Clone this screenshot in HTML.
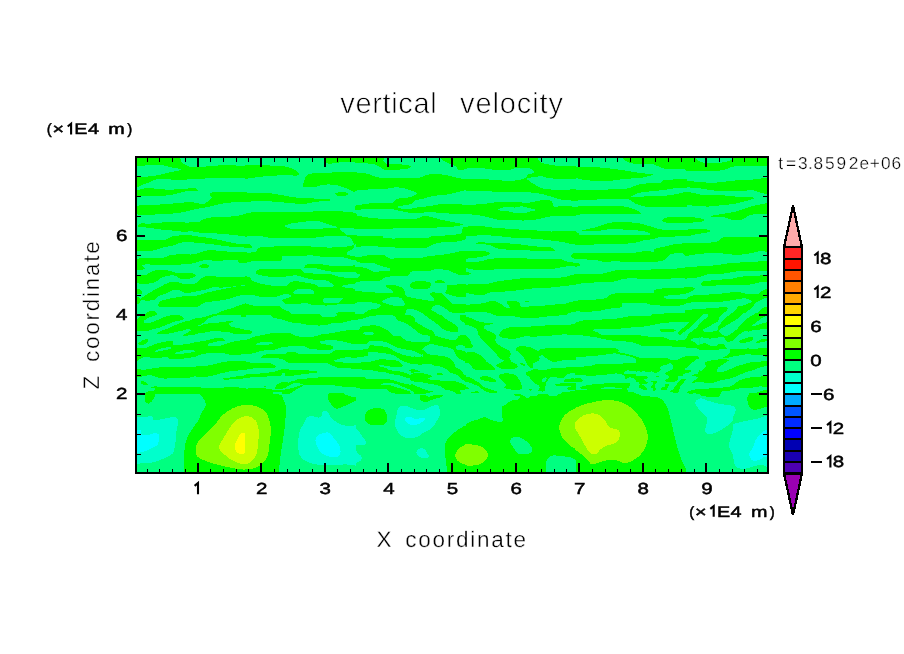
<!DOCTYPE html>
<html><head><meta charset="utf-8"><title>vertical velocity</title>
<style>
html,body{margin:0;padding:0;background:#fff;}
body{width:904px;height:654px;overflow:hidden;font-family:"Liberation Sans",sans-serif;}
svg{display:block;}
text{font-family:"Liberation Sans",sans-serif;}
.thin{stroke:#fff;stroke-width:0.7px;paint-order:fill stroke;}
.thin2{stroke:#fff;stroke-width:0.35px;paint-order:fill stroke;}
.fat{stroke:#000;stroke-width:0.35px;}
.fat2{stroke:#000;stroke-width:0.5px;}
.thin3{stroke:#fff;stroke-width:0.3px;paint-order:fill stroke;}
</style></head><body>
<svg width="904" height="654" viewBox="0 0 904 654" shape-rendering="crispEdges" text-rendering="geometricPrecision">
<defs><clipPath id="pc"><rect x="136.0" y="157.0" width="632.0" height="316.0"/></clipPath></defs>
<rect width="904" height="654" fill="#fff"/>
<rect x="136.0" y="157.0" width="632.0" height="316.0" fill="#00ff80"/>
<g clip-path="url(#pc)">
<path d="M135.4 156.4L179.8 156.4C179.8 156.4 180.8 160.6 181.6 161.9C182.3 163.1 183.5 163.8 184.7 164.5C186.0 165.3 187.8 166.1 189.5 166.5C191.5 166.9 194.4 167.0 196.8 167C200.5 166.9 207.3 166.4 211.4 166.1C214.7 165.9 217.9 165.3 221.2 165.3C227.1 165.2 246.7 165.8 246.7 165.8L246.7 177.7C246.7 177.7 237.8 177.8 233.3 177.9C227.0 178.0 216.7 178.0 209 178.3C201.7 178.6 193.4 179.3 187.1 179.5C181.8 179.7 176.2 179.6 171.3 179.5C166.8 179.4 161.4 178.5 157.9 178.9C155.3 179.2 153.0 181.0 150.6 181.9C148.2 182.8 145.3 183.6 143.3 184.4C141.6 185.1 139.7 186.3 138.4 186.8C137.4 187.2 135.4 187.7 135.4 187.7L135.4 177.7C135.4 177.7 139.1 177.3 140.9 177.1C143.0 176.9 145.8 176.8 148.2 176.5C151.0 176.2 154.7 175.9 157.9 175.3C161.1 174.7 164.6 173.5 167.6 172.8C170.5 172.1 173.9 171.5 176.2 171C178.0 170.6 181.6 170.3 181.6 169.8C181.6 169.3 177.9 168.6 176.2 168.2C174.6 167.8 172.9 167.7 171.3 167.3C169.3 166.9 166.5 165.7 164 165.5C160.6 165.2 155.1 165.2 150.6 165.3C145.8 165.4 135.4 166.1 135.4 166.1L135.4 156.4Z" fill="#00ff00"/>
<path d="M135.4 190.5C135.4 190.5 139.1 189.6 140.9 189.2C143.0 188.8 145.7 188.0 148.2 188C151.4 188.0 156.3 188.9 160.3 189.2C164.4 189.5 168.4 189.7 172.5 189.6C177.4 189.5 185.7 188.6 189.5 188.4C191.5 188.3 194.2 188.1 195.6 188.4C196.5 188.6 197.3 189.7 197.7 190.1C197.8 190.2 197.9 190.6 197.7 190.6C195.9 190.8 189.7 190.8 187.1 191.1C185.4 191.3 183.8 191.9 182.2 192.3C180.2 192.8 177.4 193.6 174.9 194.1C171.9 194.7 167.7 195.5 164 195.7C159.6 196.0 153.0 195.8 148.2 195.9C143.9 196.0 135.4 196.2 135.4 196.2L135.4 190.5Z" fill="#00ff00"/>
<path d="M135.4 205.7C135.4 205.7 144.0 205.3 148.2 205.1C152.2 204.9 156.3 204.8 160.3 204.5C165.6 204.2 174.7 203.4 179.8 203C183.5 202.7 188.0 202.0 190.8 202C192.8 202.0 194.8 202.9 196.8 203.2C199.0 203.5 202.1 204.3 204.1 203.8C206.1 203.3 207.7 201.2 209 200.2C210.0 199.4 211.9 198.6 212.1 197.8C212.3 197.0 210.5 196.0 210.2 195.3C210.0 194.8 209.8 193.9 210.2 193.5C210.8 192.9 212.6 192.1 213.9 192C220.0 191.8 246.7 192.0 246.7 192L246.7 202.3C246.7 202.3 240.2 201.8 237 202C232.8 202.2 224.8 203.3 221.2 203.8C219.1 204.1 217.1 204.6 215.1 205.1C213.1 205.6 211.1 206.4 209 206.9C206.8 207.4 204.1 207.7 201.7 208.1C199.3 208.5 196.8 208.8 194.4 209.3C191.6 209.9 188.0 211.2 184.7 211.8C181.0 212.5 176.6 213.2 172.5 213.6C168.4 214.0 164.4 214.0 160.3 214.2C156.3 214.4 152.2 214.8 148.2 214.8C144.0 214.8 135.4 214.4 135.4 214.4L135.4 205.7Z" fill="#00ff00"/>
<path d="M138.2 225.4C138.6 224.8 139.8 223.5 140.9 223.3C142.6 223.0 145.8 223.8 148.2 223.7C151.4 223.6 157.3 223.0 160.3 222.7C162.3 222.5 164.4 222.1 166.4 222.1C170.5 222.1 179.2 222.5 184.7 222.5C189.6 222.5 196.4 222.6 199.3 222.1C200.6 221.9 201.1 220.2 202.3 219.7C203.9 219.0 206.7 218.2 209 217.8C212.2 217.3 217.1 216.8 221.2 216.6C225.2 216.4 229.9 216.7 233.3 216.4C236.2 216.1 239.7 215.3 241.9 214.8C243.5 214.5 246.7 213.6 246.7 213.6L246.7 236.7C246.7 236.7 237.8 235.4 233.3 234.9C228.0 234.4 220.2 233.7 215.1 233.4C211.0 233.2 206.9 233.5 202.9 233.1C198.9 232.7 193.8 231.4 190.8 231.2C188.8 231.1 186.7 231.9 184.7 231.8C181.6 231.7 176.6 231.0 172.5 230.6C168.4 230.2 164.4 229.9 160.3 229.4C156.3 228.9 151.8 228.0 148.2 227.6C144.9 227.3 140.1 227.6 138.4 227.2C137.8 227.1 137.9 225.9 138.2 225.4Z" fill="#00ff00"/>
<path d="M177.4 236.3C177.4 236.3 178.9 235.0 179.8 234.9C182.0 234.7 188.6 234.7 190.8 234.9C191.7 235.0 193.2 236.3 193.2 236.3L177.4 236.3Z" fill="#00ff00"/>
<path d="M245.4 165.3C245.4 165.3 258.0 165.1 264.3 165.3C271.1 165.5 281.1 165.9 286.2 166.7C289.2 167.1 292.5 168.7 294.7 169.8C296.4 170.7 298.4 172.7 299.2 173.4C299.4 173.6 299.4 174.0 299.2 174.2C298.9 174.5 297.9 175.4 297.1 175.5C294.3 175.7 287.0 175.2 282.5 175.3C278.4 175.4 274.4 175.6 270.3 175.9C266.3 176.2 262.2 176.6 258.2 177.1C254.0 177.6 245.4 178.9 245.4 178.9L245.4 165.3Z" fill="#00ff00"/>
<path d="M325.7 157C330.9 156.1 356.7 157.0 356.7 157L356.7 161.9C356.7 161.9 342.8 162.2 338.5 162.5C336.0 162.7 333.3 163.7 331.2 163.7C329.3 163.7 326.6 163.6 325.7 162.5C324.8 161.4 323.9 157.3 325.7 157Z" fill="#00ff00"/>
<path d="M302.9 186.2C303.3 184.4 304.5 178.5 305.6 176.5C306.3 175.2 307.9 174.4 309.3 174C311.5 173.4 315.7 172.9 319 172.8C326.9 172.5 356.7 172.2 356.7 172.2L356.7 193.5C356.7 193.5 351.1 190.5 348.2 189.2C345.2 187.9 341.8 186.4 338.5 185.6C335.3 184.8 331.9 184.4 328.7 184.4C325.4 184.4 321.2 185.1 319 185.6C317.7 185.9 316.7 187.3 315.4 187.4C312.8 187.7 305.3 187.3 303.2 187.1C302.9 187.1 302.8 186.5 302.9 186.2Z" fill="#00ff00"/>
<path d="M335.4 193.5C335.6 192.9 337.4 192.4 338.5 192.3C340.2 192.1 344.2 192.0 345.8 192.3C346.7 192.5 348.0 193.3 348 193.9C348.0 194.5 346.7 195.5 345.8 195.7C344.0 196.0 339.0 196.1 337.3 195.7C336.4 195.5 335.2 194.1 335.4 193.5Z" fill="#00ff00"/>
<path d="M245.4 192.9C245.4 192.9 264.1 192.9 270.3 193.3C274.4 193.6 278.4 194.6 282.5 195.3C287.2 196.1 293.0 197.4 298.3 197.8C306.0 198.4 323.4 198.7 328.7 199C329.3 199.0 329.9 199.5 330.2 199.8C330.4 200.0 330.5 200.6 330.2 200.6C327.5 201.0 318.0 201.5 314.1 202C311.6 202.3 309.3 203.3 306.8 203.5C303.6 203.8 298.7 203.7 294.7 203.5C290.6 203.3 286.6 202.6 282.5 202.3C277.0 201.9 268.0 201.1 261.8 201C256.3 201.0 245.4 202.0 245.4 202L245.4 192.9Z" fill="#00ff00"/>
<path d="M354.1 205.7C354.1 205.2 356.7 206.3 356.7 206.3L356.7 209.1C356.7 209.1 354.1 206.2 354.1 205.7Z" fill="#00ff00"/>
<path d="M245.4 213.6C245.4 213.6 252.2 212.1 255.7 212C264.9 211.8 290.2 212.6 300.8 212.4C306.9 212.3 312.9 211.2 319 211.1C327.1 211.0 343.1 211.4 349.4 211.8C351.9 212.0 356.7 213.6 356.7 213.6L356.1 236.1L300.8 236.1L245.4 236.1L245.4 213.6Z" fill="#00ff00"/>
<path d="M284.9 225.8C285.7 225.1 289.7 223.8 292.2 223.3C295.1 222.7 298.8 222.5 302 222.1C305.2 221.7 308.9 221.1 311.7 220.9C314.1 220.8 316.6 220.7 319 221.2C321.8 221.8 325.6 223.5 328.7 224.5C331.6 225.4 337.1 226.5 337.5 227.1C337.9 227.7 333.3 228.2 331.2 228.3C323.6 228.6 299.5 228.9 292.2 228.8C290.6 228.8 288.6 228.1 287.4 227.6C286.5 227.2 284.1 226.5 284.9 225.8Z" fill="#00ff80"/>
<path d="M339.7 228.2C340.7 226.8 356.7 228.8 356.7 228.8L356.7 237.3L350.6 237.3C350.6 237.3 338.7 229.6 339.7 228.2Z" fill="#00ff80"/>
<path d="M355.4 157C355.4 157.0 379.0 156.4 383.7 157C384.9 157.2 382.9 159.6 383.4 160.7C383.8 161.8 385.0 163.3 386.4 163.7C388.5 164.3 392.9 164.1 396.2 164.3C399.6 164.5 404.7 164.5 407.1 164.9C408.5 165.1 410.6 166.1 410.8 166.7C411.0 167.3 409.3 168.4 408.3 168.6C405.2 169.2 396.4 169.8 392.5 170.1C390.1 170.3 387.2 170.6 385.2 170.1C383.4 169.7 382.0 168.2 380.3 167.3C378.5 166.3 376.5 164.9 374.3 164.3C371.9 163.6 368.6 163.6 365.7 163.3C362.5 163.0 355.4 162.5 355.4 162.5L355.4 157Z" fill="#00ff00"/>
<path d="M440 157C443.9 156.4 466.7 157.0 466.7 157L466.7 168.6C466.7 168.6 464.4 169.6 463.1 169.8C461.7 170.0 459.3 170.3 458.2 169.8C457.1 169.3 457.4 167.4 456.4 166.7C454.8 165.6 450.6 164.1 448.5 163.1C446.9 162.3 445.0 161.7 443.6 160.7C442.2 159.7 438.3 157.3 440 157Z" fill="#00ff00"/>
<path d="M355.4 172.8C355.4 172.8 362.3 172.7 365.7 173.4C369.9 174.2 375.3 177.1 380.3 177.7C386.8 178.5 398.2 178.3 404.7 178.3C409.6 178.3 415.6 178.5 419.3 177.9C421.9 177.5 424.1 175.6 426.6 175C429.2 174.3 432.2 174.0 435.1 174C438.6 174.1 443.3 174.6 447.3 175.3C451.4 176.0 456.2 177.7 459.4 178.3C461.8 178.7 466.7 178.9 466.7 178.9L466.7 213.9C466.7 213.9 457.6 213.7 453.3 213.6C449.3 213.5 445.2 213.5 441.2 213.2C437.1 212.9 432.6 211.8 429 211.8C425.7 211.8 422.6 213.1 419.3 213.2C415.7 213.3 411.1 213.0 407.1 212.4C402.6 211.8 397.5 209.8 392.5 209.3C386.0 208.7 374.4 208.5 368.2 208.7C363.9 208.8 355.4 210.5 355.4 210.5L355.4 172.8Z" fill="#00ff00"/>
<path d="M355.4 190.8C355.4 190.8 362.2 189.8 365.7 189.6C370.9 189.3 381.1 189.3 386.4 188.9C390.1 188.6 393.7 187.0 397.4 187.2C401.2 187.4 406.3 188.8 409.5 189.9C412.1 190.7 416.8 192.3 416.8 193.5C416.8 194.7 412.1 196.5 409.5 197.2C406.1 198.1 398.9 198.1 396.2 199C394.7 199.5 394.7 202.3 393.1 202.6C389.0 203.3 378.1 202.7 371.8 203.2C366.3 203.7 355.4 205.7 355.4 205.7L355.4 190.8Z" fill="#00ff80"/>
<path d="M466.7 189.6C466.7 189.6 460.3 191.5 457 192.3C453.6 193.2 449.6 194.1 446 194.7C442.4 195.3 438.7 195.1 435.1 195.7C431.1 196.4 425.1 198.2 421.7 199C419.3 199.6 416.1 199.8 414.4 200.6C413.1 201.2 412.8 203.3 411.4 203.8C408.6 204.8 399.5 205.9 397.4 206.6C396.8 206.8 398.0 208.0 398.6 208.1C400.6 208.5 406.1 209.3 409.5 209.1C412.8 208.9 416.1 207.4 419.3 206.9C422.5 206.4 425.8 206.8 429 206.3C432.6 205.8 437.1 204.2 441.2 203.8C445.2 203.5 449.3 204.1 453.3 204.2C457.6 204.3 466.7 204.7 466.7 204.7L466.7 189.6Z" fill="#00ff80"/>
<path d="M355.4 215.2C355.4 215.2 362.2 216.8 365.7 217.2C370.5 217.8 377.9 218.7 384 218.8C392.9 219.0 412.9 218.9 419.3 218.4C420.6 218.3 421.0 216.3 422.3 216C423.9 215.7 426.8 216.0 429 216.4C432.1 217.0 437.1 218.8 441.2 219.7C445.2 220.6 449.6 221.3 453.3 222.1C456.6 222.8 461.6 223.8 463.3 224.2C463.5 224.2 463.5 224.7 463.3 224.7C461.6 225.1 456.7 226.2 453.3 226.6C449.6 227.0 445.2 226.7 441.2 227C437.1 227.3 433.1 228.1 429 228.2C420.9 228.4 404.7 228.4 392.5 228.5C380.2 228.6 355.4 228.8 355.4 228.8L355.4 215.2Z" fill="#00ff00"/>
<path d="M466.7 226.4C466.7 226.4 464.5 226.4 463.7 227C462.9 227.6 462.3 228.9 461.9 230C461.5 231.1 462.4 233.2 461.3 233.7C459.5 234.5 454.4 234.5 450.9 234.9C447.1 235.3 438.7 236.3 438.7 236.3L466.7 237.3L466.7 226.4Z" fill="#00ff00"/>
<path d="M466 157 L576 157 L576 236 L466 236Z" fill="#00ff00"/>
<path d="M538.4 157C544.5 156.2 576.7 157.0 576.7 157L576.7 165.8C576.7 165.8 567.5 166.3 563.3 166.2C559.2 166.1 555.1 165.7 551.2 165C547.5 164.3 542.3 163.4 540.2 162.1C538.7 161.1 536.6 157.2 538.4 157Z" fill="#00ff80"/>
<path d="M465.4 168.9C465.4 168.9 468.2 168.3 469.7 168.2C472.4 168.1 477.8 167.9 481.8 168.2C486.9 168.6 495.4 170.1 500.1 170.4C503.3 170.6 507.4 170.5 509.8 170.1C511.5 169.8 513.0 168.4 514.7 168.2C518.0 167.9 526.2 167.7 529.3 168.2C531.0 168.4 532.9 170.1 533.5 171C534.0 171.7 533.6 172.9 532.9 173.4C532.0 174.0 529.2 173.9 528.1 174.6C527.1 175.2 527.0 176.7 526 177.3C524.6 178.2 521.8 179.7 519.5 180.1C516.0 180.7 509.8 180.8 504.9 180.7C499.8 180.6 494.4 179.7 489.1 179.5C482.5 179.2 465.4 179.1 465.4 179.1L465.4 168.9Z" fill="#00ff80"/>
<path d="M526.5 177.9C527.1 177.2 531.6 177.7 534.1 177.4C536.6 177.1 539.0 175.9 541.4 176.1C543.8 176.2 546.2 178.0 548.7 178.3C552.4 178.7 558.6 178.5 563.3 178.7C567.8 178.9 576.7 179.5 576.7 179.5L576.7 188.9C576.7 188.9 567.8 189.9 563.3 189.9C557.8 189.9 548.3 189.6 543.9 188.9C541.3 188.5 538.8 186.8 536.6 185.6C534.5 184.5 532.2 183.2 530.5 181.9C529.0 180.8 525.9 178.7 526.5 177.9Z" fill="#00ff80"/>
<path d="M465.4 191.3C465.4 191.3 482.9 191.1 489.1 191.3C493.6 191.4 498.0 192.2 502.5 192.3C508.4 192.4 518.3 191.8 524.4 192C529.3 192.2 535.0 192.8 539 193.5C542.3 194.0 545.5 195.0 548.7 195.9C552.0 196.8 555.5 198.3 558.5 199C561.3 199.7 564.2 199.9 567 200.2C570.0 200.5 576.7 200.8 576.7 200.8L576.7 206.6C576.7 206.6 567.3 206.4 563.3 206.4C559.8 206.4 554.7 206.8 552.9 206.4C552.1 206.2 552.9 204.6 552.6 203.8C552.3 202.9 552.3 201.1 551.2 200.8C549.3 200.2 544.7 199.9 541.4 200.2C537.8 200.5 533.3 202.2 529.3 202.6C525.2 202.9 521.2 202.3 517.1 202.3C511.4 202.2 500.5 202.1 495.2 202.3C491.9 202.5 488.8 203.5 485.5 203.8C480.5 204.3 465.4 205.1 465.4 205.1L465.4 191.3Z" fill="#00ff80"/>
<path d="M498.2 209.6C499.0 209.0 502.5 207.4 504.9 207.1C507.6 206.8 511.9 207.6 514.7 207.5C517.2 207.4 519.6 206.2 522 206.3C524.4 206.4 527.0 207.5 529.3 208.1C531.5 208.7 535.6 209.4 536 209.9C536.4 210.4 533.1 210.7 531.7 211.1C529.8 211.6 526.9 212.7 524.4 213C521.6 213.3 517.5 213.3 514.7 213C512.2 212.7 509.8 211.5 507.4 211.1C505.0 210.7 501.6 210.8 500.1 210.5C499.4 210.4 497.6 210.0 498.2 209.6Z" fill="#00ff80"/>
<path d="M465.4 213.9C465.4 213.9 474.0 214.5 478.2 215.2C482.3 215.8 487.1 217.1 490.3 217.8C492.7 218.4 495.1 219.5 497.6 219.7C503.3 220.1 517.5 220.6 524.4 220.5C529.3 220.4 535.0 219.8 539 219.1C542.3 218.6 545.4 217.0 548.7 216.6C552.8 216.2 558.6 216.6 563.3 216.4C567.8 216.2 576.7 215.4 576.7 215.4L576.7 231.2C576.7 231.2 567.5 230.9 563.3 231C559.3 231.0 555.2 231.6 551.2 231.5C547.2 231.4 543.1 230.9 539 230.6C534.5 230.3 529.3 230.1 524.4 229.8C519.3 229.5 513.9 229.2 508.6 228.8C502.9 228.4 494.8 227.8 490.3 227.3C487.5 227.0 484.7 226.3 481.8 226.1C478.4 225.9 472.4 225.9 469.7 226.1C468.2 226.2 465.4 227.3 465.4 227.3L465.4 213.9Z" fill="#00ff80"/>
<path d="M475.7 236.3C475.7 236.3 477.3 235.2 478.2 235.1C480.6 234.9 488.0 234.9 490.3 235.1C491.0 235.2 492.2 236.3 492.2 236.3L475.7 236.3Z" fill="#00ff80"/>
<path d="M623.2 157C633.1 156.2 686.7 157.0 686.7 157L686.7 169.2C686.7 169.2 677.1 169.5 673.3 169.4C670.1 169.3 666.8 169.2 663.6 168.4C660.4 167.6 657.1 165.2 653.9 164.5C650.7 163.8 647.4 164.2 644.1 164.1C640.9 164.0 637.2 164.1 634.4 163.7C631.9 163.4 629.0 163.0 627.1 161.9C625.3 160.8 621.1 157.2 623.2 157Z" fill="#00ff00"/>
<path d="M575.4 167C575.4 167.0 583.9 166.6 588.2 166.7C593.2 166.9 599.5 167.4 605.2 168C611.3 168.6 619.0 169.6 624.7 170.4C629.6 171.1 634.6 172.2 639.3 172.8C643.8 173.4 650.6 174.0 652.9 174.3C653.1 174.3 653.1 174.8 652.9 174.9C651.0 175.5 645.5 177.2 641.7 177.7C637.0 178.4 630.4 178.3 624.7 178.9C618.8 179.5 610.9 180.9 606.4 181.3C603.6 181.6 600.7 181.5 597.9 181.3C593.9 181.0 585.9 180.1 582.1 179.5C579.8 179.1 575.4 177.7 575.4 177.7L575.4 167Z" fill="#00ff00"/>
<path d="M575.4 189.6C575.4 189.6 583.1 190.1 587 190.1C591.8 190.2 599.1 190.2 604 189.9C608.1 189.7 612.2 188.8 616.2 188.6C620.2 188.4 624.9 189.0 628.3 188.4C631.3 187.9 633.8 185.7 636.8 185C640.2 184.1 644.9 183.6 649 183.2C653.1 182.8 658.8 183.1 661.2 182.6C662.3 182.4 662.5 180.4 663.6 180.1C665.6 179.6 670.1 179.6 673.3 179.5C677.1 179.4 686.7 179.5 686.7 179.5L686.7 188C686.7 188.0 680.2 187.8 677 188C673.5 188.3 669.7 189.1 666 189.6C662.1 190.1 657.9 190.7 653.9 191.1C649.9 191.5 645.0 191.7 641.7 192.3C639.2 192.8 636.1 193.9 634.4 194.7C633.2 195.3 630.1 197.0 631.4 197.2C633.0 197.5 639.9 196.7 644.1 196.5C649.1 196.3 656.3 196.2 661.2 195.9C665.2 195.7 669.3 195.4 673.3 194.7C677.5 194.0 686.7 191.7 686.7 191.7L686.7 206.9C686.7 206.9 677.5 206.8 673.3 206.9C669.3 207.0 665.2 207.5 661.2 207.5C657.2 207.5 652.2 207.4 649 207.1C646.5 206.9 644.1 206.3 641.7 205.7C639.3 205.0 636.6 204.3 634.4 203.2C632.2 202.1 630.7 199.5 628.3 199C624.6 198.3 617.8 198.9 612.5 199C606.8 199.1 599.6 199.5 594.3 199.6C589.8 199.7 584.0 199.5 580.9 199.8C579.0 200.0 575.4 201.4 575.4 201.4L575.4 189.6Z" fill="#00ff00"/>
<path d="M575.4 206.6C575.4 206.6 583.9 206.3 588.2 206.3C596.0 206.2 615.3 206.1 622.2 206.3C624.7 206.4 627.1 206.8 629.5 207.5C631.9 208.2 634.8 209.6 636.8 210.5C638.4 211.3 640.5 212.6 641.3 213.2C641.5 213.3 641.5 213.8 641.3 213.8C639.5 214.0 634.3 214.2 630.8 214.2C626.0 214.3 618.6 214.2 612.5 214.2C604.2 214.2 587.1 214.2 580.9 214.4C579.0 214.5 575.4 215.7 575.4 215.7L575.4 206.6Z" fill="#00ff00"/>
<path d="M662.2 220C662.6 219.4 663.7 218.1 664.8 217.8C666.6 217.3 670.5 217.1 673.3 216.9C676.9 216.7 686.7 216.6 686.7 216.6L686.7 222.7C686.7 222.7 676.8 222.7 673.3 222.7C670.9 222.7 667.8 222.8 666 222.5C664.8 222.3 663.2 221.6 662.6 221.2C662.2 221.0 662.0 220.4 662.2 220Z" fill="#00ff00"/>
<path d="M581.8 230.4C583.6 229.8 590.2 228.7 594.3 227.6C598.4 226.5 603.0 224.6 606.4 223.7C609.2 223.0 612.0 222.2 614.9 222.1C619.6 221.9 629.5 222.3 634.4 222.7C637.7 223.0 640.9 223.7 644.1 224.5C647.4 225.3 650.6 226.7 653.9 227.6C657.1 228.5 660.4 229.4 663.6 229.8C666.8 230.2 670.1 230.0 673.3 230C677.1 230.0 686.7 229.8 686.7 229.8L686.7 237.3L647.8 237.3C647.8 237.3 650.8 234.7 650.2 233.7C649.6 232.7 646.3 231.6 644.1 231.2C640.9 230.6 635.2 230.3 630.8 230C625.1 229.6 615.2 228.9 610.1 229C606.8 229.1 603.6 230.3 600.3 230.6C595.8 230.9 586.4 231.1 583.3 231.1C582.7 231.1 581.3 230.6 581.8 230.4Z" fill="#00ff00"/>
<path d="M575.4 231.8C575.4 231.8 577.8 232.3 578.4 233.1C579.0 233.8 579.0 236.3 579 236.3L575.4 236.3L575.4 231.8Z" fill="#00ff00"/>
<path d="M685.4 157C685.4 157.0 755.9 155.7 770 157C772.6 157.2 771.8 163.4 770 164.9C768.2 166.4 762.7 166.0 759 166.1C755.1 166.2 750.9 165.7 746.8 165.8C742.5 165.9 736.9 165.9 733.5 166.5C730.9 166.9 728.7 168.5 726.2 169.2C723.4 169.9 719.7 170.8 716.4 171C711.3 171.4 700.9 171.5 695.7 171.4C692.3 171.3 685.4 170.4 685.4 170.4L685.4 157Z" fill="#00ff00"/>
<path d="M695.5 157C694.0 157.2 696.9 159.9 698.2 160.7C699.7 161.7 702.2 162.6 704.3 162.8C707.3 163.2 712.8 163.0 716.4 162.8C719.7 162.7 723.6 162.5 726.2 161.9C728.3 161.4 731.0 160.2 732.2 159.4C732.9 158.9 734.1 157.1 733.2 157C727.1 156.6 701.3 156.4 695.5 157Z" fill="#00ff80"/>
<path d="M685.4 180.7C685.4 180.7 693.9 181.6 698.2 181.9C703.0 182.2 708.7 183.0 714 182.8C719.7 182.6 726.1 181.2 732.2 180.7C738.7 180.1 746.6 179.8 752.9 179.5C758.6 179.2 767.1 176.6 770 178.9C772.9 181.2 771.4 191.2 770 193.5C768.6 195.8 764.0 193.4 761.4 192.9C758.9 192.4 756.7 190.7 754.1 190.5C749.7 190.2 741.2 190.8 734.7 190.8C728.0 190.8 720.1 191.0 714 190.5C708.7 190.1 703.0 188.5 698.2 188C694.0 187.5 685.4 187.4 685.4 187.4L685.4 180.7Z" fill="#00ff00"/>
<path d="M685.4 191.7C685.4 191.7 690.7 192.4 693.3 192.9C696.4 193.5 700.6 195.0 704.3 195.3C708.8 195.7 715.0 194.8 720.1 195C725.0 195.2 729.8 196.2 734.7 196.5C739.6 196.8 746.0 196.7 749.3 196.9C751.0 197.0 753.5 197.6 754.4 197.8C754.6 197.9 754.6 198.3 754.4 198.4C752.7 199.0 747.7 200.5 744.4 201.4C741.2 202.3 738.0 203.2 734.7 203.8C731.1 204.4 726.6 204.7 722.5 205.1C718.0 205.6 711.9 206.5 707.9 206.6C704.7 206.7 701.4 205.9 698.2 205.7C694.5 205.5 685.4 205.4 685.4 205.4L685.4 191.7Z" fill="#00ff00"/>
<path d="M710.7 216.1C712.6 215.6 718.6 214.6 722.5 213.9C726.5 213.2 731.1 212.7 734.7 211.8C738.0 211.0 741.2 209.7 744.4 208.7C747.6 207.7 751.3 206.4 754.1 205.7C756.5 205.1 758.9 204.5 761.4 204.2C764.0 203.9 768.6 202.3 770 203.8C771.4 205.3 771.8 211.5 770 213.2C768.2 214.9 762.5 213.5 759 213.9C755.7 214.2 752.1 214.4 749.3 215.4C746.6 216.3 744.7 219.1 742 219.7C739.0 220.4 733.6 220.0 731 219.7C729.3 219.5 727.9 217.8 726.2 217.6C722.9 217.1 713.9 217.2 711.3 216.9C711.0 216.9 710.4 216.2 710.7 216.1Z" fill="#00ff00"/>
<path d="M685.4 216.9C685.4 216.9 695.1 217.3 698.2 217.8C700.3 218.1 703.7 219.1 704.3 219.7C704.9 220.3 702.8 221.2 701.8 221.5C700.0 222.0 696.0 222.2 693.3 222.5C690.7 222.8 685.4 223.3 685.4 223.3L685.4 216.9Z" fill="#00ff00"/>
<path d="M685.4 230C685.4 230.0 690.6 228.9 693.3 228.8C696.4 228.6 701.5 228.6 704.3 229C706.4 229.3 710.3 230.3 710.3 231C710.3 231.7 706.4 232.6 704.3 233.1C701.9 233.7 698.1 233.8 695.7 234.3C693.7 234.7 689.7 236.0 689.7 236L685.4 236.3L685.4 230Z" fill="#00ff00"/>
<path d="M135.4 239.7C135.4 239.7 159.2 240.2 165.2 239.7C167.5 239.5 169.1 237.1 171.3 236.6C174.6 235.9 184.7 235.4 184.7 235.4C184.7 235.4 194.9 236.1 199.3 236.6C203.4 237.1 207.4 237.7 211.4 238.4C215.4 239.1 219.7 240.1 223.6 240.9C227.3 241.7 230.9 242.8 234.6 243.3C238.4 243.9 246.7 244.3 246.7 244.3L246.7 247.6C246.7 247.6 237.6 247.3 233.3 247C229.2 246.7 225.2 246.0 221.2 245.5C217.1 245.0 213.1 244.4 209 243.9C204.9 243.4 200.9 243.0 196.8 242.7C192.8 242.4 187.8 242.0 184.7 242.1C182.4 242.2 180.0 242.9 178 243.5C176.1 244.1 174.4 245.2 172.5 245.7C170.0 246.4 165.8 246.8 162.8 247.6C159.9 248.3 157.3 250.1 154.3 250.4C149.7 250.9 135.4 250.8 135.4 250.8L135.4 239.7Z" fill="#00ff00"/>
<path d="M135.4 260.1C135.4 260.1 139.8 258.0 142.2 257.8C146.8 257.4 158.3 258.3 163.1 257.8C165.8 257.5 168.1 255.5 170.8 255C174.0 254.4 178.6 254.4 182.5 254.3C186.3 254.2 190.2 254.9 194 254.3C197.9 253.7 203.1 251.4 206 250.7C207.8 250.3 209.6 249.9 211.4 250C213.9 250.1 217.9 250.9 221.2 251.2C224.8 251.5 229.3 251.6 233.3 251.8C237.6 252.0 246.7 252.4 246.7 252.4L246.7 263C246.7 263.0 240.9 263.4 239.4 263C238.4 262.7 238.7 260.5 237.6 260.3C235.6 259.9 230.7 260.2 227.3 260.3C223.4 260.4 217.5 261.0 213.9 260.9C211.2 260.8 208.7 259.4 206 259.7C202.8 260.0 198.3 262.0 194.9 262.8C191.8 263.5 188.7 264.2 185.5 264.4C178.9 264.7 162.0 264.7 155.3 264.7C151.9 264.7 147.4 264.3 145.2 264.4C144.1 264.5 142.2 264.8 142.2 265.4C142.1 266.0 144.6 267.5 144.9 268.2C145.1 268.7 144.3 269.2 143.8 269.3C142.2 269.7 135.4 270.6 135.4 270.6L135.4 260.1Z" fill="#00ff00"/>
<path d="M199 266.4C199.1 265.8 201.0 264.6 202.3 264.2C203.6 263.8 205.4 263.9 206.6 264.2C207.8 264.5 209.7 265.6 209.7 266.2C209.7 266.8 207.8 267.7 206.6 267.9C205.3 268.2 203.0 268.1 201.7 267.9C200.7 267.7 198.9 267.0 199 266.4Z" fill="#00ff00"/>
<path d="M135.4 275.5C135.4 275.5 142.8 275.7 145.2 275.2C147.0 274.8 148.3 273.3 150 272.5C151.7 271.7 153.4 270.5 155.3 270.3C158.1 269.9 164.0 270.0 167 270.3C169.1 270.5 171.0 271.5 173.1 272C175.1 272.5 177.2 273.1 179.3 273.2C182.6 273.4 189.8 272.8 192.6 273.1C194.0 273.3 195.5 274.7 196.1 275.2C196.3 275.3 196.3 275.8 196.1 275.9C195.0 276.5 191.8 278.2 189.4 278.6C186.8 279.1 182.4 279.0 180.2 278.6C178.7 278.3 177.6 276.9 176.3 276.3C175.1 275.8 173.8 275.2 172.4 275.2C170.6 275.2 167.3 275.9 165.4 276.3C163.8 276.7 162.2 277.1 160.8 277.9C159.2 278.8 158.0 281.0 156.1 281.8C153.9 282.8 150.5 283.5 147.6 283.7C144.2 283.9 135.4 283.3 135.4 283.3L135.4 275.5Z" fill="#00ff00"/>
<path d="M140.4 299.8C139.1 298.9 144.0 296.3 146.1 294.9C148.6 293.2 152.2 291.2 155.3 289.5C158.8 287.6 164.0 284.6 167 283.3C168.9 282.5 171.0 281.9 173.1 281.8C175.2 281.7 177.5 282.1 179.3 282.5C181.0 282.8 182.4 284.0 184.1 284.1C186.9 284.2 193.6 284.2 196.4 283.3C198.5 282.6 199.5 279.8 201.1 278.6C202.6 277.5 204.2 276.6 206 276.3C208.1 275.9 211.4 276.0 213.9 276.2C216.4 276.4 218.7 277.3 221.2 277.4C224.4 277.5 229.3 276.9 233.3 276.8C237.6 276.7 246.7 276.8 246.7 276.8L246.7 284.7C246.7 284.7 243.5 285.1 241.9 285.3C239.7 285.6 236.2 286.2 233.3 286.5C229.8 286.9 224.4 287.6 221.2 287.7C218.8 287.8 216.3 286.8 213.9 287.1C211.4 287.4 208.7 288.9 206 289.5C203.3 290.1 200.5 290.5 197.9 291C195.4 291.5 192.6 292.3 190.3 292.6C188.2 292.8 185.9 293.0 184.1 292.6C182.4 292.2 181.0 290.6 179.3 290.3C177.4 289.9 174.5 289.8 172.4 290.3C170.4 290.8 168.9 292.5 167 293.3C164.6 294.3 159.9 295.4 157.7 296.5C156.1 297.3 155.6 299.9 153.8 300.2C150.9 300.8 141.7 300.7 140.4 299.8Z" fill="#00ff00"/>
<path d="M135.4 289.1C135.4 289.1 138.6 289.1 139.7 289.5C140.6 289.9 141.6 290.9 141.8 291.7C142.0 292.5 141.7 293.9 140.9 294.2C139.8 294.6 135.4 294.4 135.4 294.4L135.4 289.1Z" fill="#00ff00"/>
<path d="M135.4 296.8C135.4 296.8 138.1 296.8 139 297.4C139.9 298.0 141.0 299.4 140.9 300.5C140.8 301.6 139.3 303.4 138.4 304.1C137.6 304.7 135.4 304.8 135.4 304.8L135.4 296.8Z" fill="#00ff00"/>
<path d="M158.3 304.1C158.5 303.2 159.2 301.6 160.3 301.1C162.7 300.1 168.4 298.9 172.5 298.1C176.5 297.3 180.6 296.6 184.7 296.2C188.7 295.8 193.6 296.1 196.8 295.6C199.3 295.2 201.6 294.1 204.1 293.4C206.9 292.6 211.1 291.6 213.9 291C216.3 290.4 218.8 290.0 221.2 289.5C224.4 288.9 229.7 287.8 233.3 287.1C236.6 286.5 240.9 285.6 243.1 285.6C244.4 285.6 246.7 287.1 246.7 287.1L246.7 295C246.7 295.0 241.8 295.1 239.4 295.6C236.2 296.3 231.4 298.4 227.3 299.3C223.3 300.2 219.0 300.5 215.1 301.1C211.4 301.6 206.6 302.0 204.1 302.7C202.5 303.2 201.1 304.6 199.9 305.4C198.9 306.0 198.0 307.2 196.8 307.3C194.3 307.5 188.7 306.6 184.7 306.6C180.6 306.6 176.6 307.3 172.5 307.3C168.2 307.3 161.5 307.3 159.1 306.8C158.2 306.6 158.1 305.0 158.3 304.1Z" fill="#00ff00"/>
<path d="M145.1 315.3C145.1 315.3 145.9 312.6 147 312.1C148.5 311.4 152.7 311.0 154.3 311.2C155.4 311.3 156.5 312.6 156.9 313.3C157.2 313.9 156.7 315.3 156.7 315.3L145.1 315.3Z" fill="#00ff00"/>
<path d="M213.9 315.3C213.9 315.3 218.6 312.4 221.2 311.4C224.4 310.1 230.1 308.9 233.3 307.8C235.8 307.0 238.4 305.5 240.6 304.8C242.6 304.2 246.7 303.5 246.7 303.5L246.7 316.3L213.9 315.3Z" fill="#00ff00"/>
<path d="M263 235.4C263.0 235.4 262.6 236.5 263 236.6C265.0 237.1 271.1 238.1 275.2 238.2C282.5 238.5 298.7 238.5 306.8 238.2C312.5 238.0 320.9 237.1 323.9 236.6C324.3 236.5 324.5 235.4 324.5 235.4L263 235.4Z" fill="#00ff00"/>
<path d="M351.9 235.4C351.9 235.4 352.8 236.5 353.1 237.2C353.5 238.1 353.7 240.1 354.3 240.9C354.8 241.6 356.7 242.1 356.7 242.1L356.7 235.4L351.9 235.4Z" fill="#00ff00"/>
<path d="M245.4 243.9C245.4 243.9 248.6 243.9 249.7 244.3C250.6 244.6 251.6 245.7 251.8 246.3C252.0 247.0 251.6 248.0 250.9 248.2C249.8 248.5 245.4 248.2 245.4 248.2L245.4 243.9Z" fill="#00ff00"/>
<path d="M245.4 253C245.4 253.0 253.7 252.5 255.7 251.8C256.8 251.4 256.7 249.6 257.6 248.8C258.5 248.0 259.9 247.3 261.2 247.2C265.3 246.8 275.4 246.4 282.5 246.3C290.1 246.2 299.1 246.1 306.8 246.3C314.1 246.5 323.0 247.5 328.7 247.6C332.8 247.7 337.4 247.2 340.9 247C343.7 246.8 347.3 246.6 349.4 246.3C350.9 246.1 352.9 245.0 353.7 245.1C354.4 245.2 354.6 246.4 354.3 247C354.0 247.7 352.8 248.7 351.9 249.4C350.8 250.2 348.4 251.0 347.6 251.8C347.0 252.4 346.4 253.7 347 254.3C347.7 255.0 350.3 255.8 351.9 256.1C353.5 256.4 356.7 256.4 356.7 256.4L356.7 259.7C356.7 259.7 353.5 260.0 351.9 259.7C349.7 259.3 346.3 257.6 343.3 257.3C338.6 256.8 328.8 257.2 323.9 256.9C320.6 256.7 316.3 256.0 314.1 255.7C312.9 255.5 311.7 255.1 310.5 255.2C307.9 255.3 302.4 256.2 298.3 256.4C293.6 256.6 285.2 256.2 282.5 256.4C282.1 256.4 282.0 257.0 281.9 257.3C281.7 258.0 282.3 260.2 281.3 260.5C279.4 261.1 274.0 260.8 270.3 260.9C265.6 261.0 257.2 261.0 253.1 261.3C250.5 261.5 245.4 262.6 245.4 262.6L245.4 253Z" fill="#00ff00"/>
<path d="M304.4 266.7C304.8 266.2 305.9 264.6 307.1 264.4C309.8 264.0 316.3 263.9 320.3 264.1C324.0 264.3 327.5 265.5 331.2 265.8C335.0 266.1 339.3 266.3 343.3 266.2C347.6 266.1 356.7 265.2 356.7 265.2L356.7 271.3C356.7 271.3 354.3 272.2 353.1 272.3C350.9 272.5 346.6 272.4 343.3 272.3C340.1 272.2 336.8 272.2 333.6 271.9C330.4 271.5 326.7 270.8 323.9 270.2C321.5 269.7 319.2 268.7 316.8 268.4C313.6 267.9 306.5 267.8 304.4 267.5C304.1 267.5 304.2 266.9 304.4 266.7Z" fill="#00ff00"/>
<path d="M256.2 271.5C256.9 270.8 258.6 269.4 260.1 269.2C263.3 268.8 270.6 269.2 275.2 269.2C279.3 269.2 283.5 269.1 287.6 269.1C291.9 269.1 298.1 268.6 300.9 269.2C302.6 269.6 302.7 272.5 304.4 272.9C307.6 273.6 315.8 273.5 320.3 273.7C323.9 273.9 328.2 273.8 331.2 274.3C333.7 274.7 336.0 276.3 338.5 276.8C341.5 277.4 346.4 277.8 349.4 278C351.8 278.2 356.7 278.0 356.7 278L356.7 303.5C356.7 303.5 343.6 304.0 338.5 304.4C334.3 304.7 328.6 305.5 325.9 305.6C324.6 305.7 323.4 305.2 322.1 305.1C319.6 304.9 313.1 304.8 310.6 304.5C309.4 304.4 308.3 303.4 307.1 303.3C304.5 303.2 298.2 303.7 294.7 303.8C291.7 303.9 287.9 304.5 285.8 303.8C284.1 303.3 281.7 300.8 282.3 299.8C282.9 298.8 287.9 298.3 289.3 297.6C290.1 297.2 291.4 296.0 290.7 295.4C290.0 294.8 286.9 293.8 284.9 294C282.5 294.2 279.2 296.5 276.1 296.8C272.0 297.3 263.6 297.0 260.1 296.8C258.3 296.7 256.7 295.6 254.9 295.4C252.4 295.1 245.4 294.9 245.4 294.9L245.4 276.4C245.4 276.4 248.3 276.5 249.5 277.2C250.8 278.0 251.5 280.5 253.1 281.3C255.4 282.5 260.5 283.6 263.6 284.3C266.3 284.9 269.0 285.4 271.7 285.6C275.6 285.8 283.7 286.2 286.8 285.6C288.4 285.3 288.8 282.7 290.3 282.1C292.1 281.4 295.0 281.2 297.3 281.3C300.2 281.4 304.9 282.5 307.9 283C310.3 283.4 313.2 283.6 315 284.3C316.4 284.8 317.1 286.6 318.5 287C320.3 287.5 323.8 287.5 325.9 287.5C327.7 287.5 329.9 287.4 331.2 287.1C332.2 286.9 333.9 286.2 333.9 285.6C333.9 285.0 332.2 283.9 331.2 283.2C329.9 282.3 327.9 280.7 325.9 280.3C323.5 279.8 319.5 280.1 316.8 279.9C314.5 279.7 312.1 279.4 309.8 279C307.4 278.6 305.0 277.8 302.6 277.2C300.2 276.6 298.0 275.2 295.5 275.1C293.0 275.0 290.3 276.2 287.6 276.4C283.6 276.7 276.6 277.1 271.7 276.8C267.2 276.6 261.0 275.4 258.4 274.8C257.5 274.6 256.6 273.8 256.2 273.2C255.9 272.7 255.8 271.9 256.2 271.5Z" fill="#00ff00"/>
<path d="M293.3 292.3C293.6 291.6 295.7 289.7 297.3 289.4C300.1 288.9 307.1 288.9 309.8 289.2C311.3 289.4 313.1 290.7 313.7 291.4C314.2 291.9 314.4 293.5 313.7 293.6C310.7 294.0 298.9 294.1 295.5 293.9C294.6 293.8 293.0 293.1 293.3 292.3Z" fill="#00ff80"/>
<path d="M356.7 284.1C356.7 284.1 351.6 284.2 349.4 284.4C347.4 284.6 344.5 284.9 343.3 285.3C342.8 285.5 341.6 286.2 342.1 286.5C342.7 287.0 345.3 287.9 347 288.1C349.4 288.5 356.7 288.6 356.7 288.6L356.7 284.1Z" fill="#00ff80"/>
<path d="M322.7 300.5C322.5 299.7 323.1 298.4 323.9 298.3C327.2 297.9 340.0 297.5 342.7 298.1C344.1 298.4 341.0 300.9 340.3 301.7C339.8 302.2 339.2 302.8 338.5 302.9C336.0 303.1 327.7 303.3 325.1 302.9C324.0 302.7 322.9 301.3 322.7 300.5Z" fill="#00ff80"/>
<path d="M245.4 303.3C245.4 303.3 250.4 305.4 253.1 305.6C258.6 306.1 273.7 305.4 278.7 306C280.5 306.2 281.5 308.2 283.1 309.1C284.7 310.0 287.3 310.7 288.5 311.3C289.2 311.7 289.6 312.5 290.3 313C291.3 313.7 294.7 315.7 294.7 315.7L245.4 315.7L245.4 303.3Z" fill="#00ff00"/>
<path d="M335.4 315.7C335.4 315.7 335.8 313.4 336.7 312.9C337.8 312.3 340.3 312.2 342.1 312.1C345.4 311.9 356.7 311.7 356.7 311.7L356.7 315.7L335.4 315.7Z" fill="#00ff00"/>
<path d="M356 236 L466 236 L466 315 L356 315Z" fill="#00ff00"/>
<path d="M383.4 235.4C383.4 235.4 383.1 238.1 384 238.2C387.6 238.7 397.8 238.5 404.7 238.4C412.2 238.3 424.4 238.2 429 237.7C430.3 237.6 432.1 235.4 432.1 235.4L383.4 235.4Z" fill="#00ff80"/>
<path d="M355.4 246.7C355.4 246.7 368.0 246.2 374.3 246.3C381.1 246.5 388.9 247.4 396.2 247.6C404.9 247.8 420.5 248.1 426.6 247.6C428.8 247.4 430.7 245.6 432.7 244.8C434.7 244.0 436.6 243.0 438.7 242.7C442.8 242.1 452.9 241.9 457 241.5C459.1 241.3 461.5 240.8 463.1 240.3C464.4 239.9 466.7 238.4 466.7 238.4L466.7 250.8C466.7 250.8 462.6 250.9 460.6 251.2C458.4 251.6 455.8 252.5 453.3 253C450.1 253.6 445.2 254.4 441.2 254.9C437.1 255.4 432.2 255.6 429 256.1C426.5 256.5 424.2 257.5 421.7 257.7C416.8 258.0 405.1 258.0 399.8 258.1C396.6 258.2 392.7 259.0 390.1 258.5C387.8 258.1 386.3 255.6 384 255.2C380.6 254.6 373.2 254.9 369.4 255.2C366.5 255.4 363.2 256.4 360.9 256.7C359.1 256.9 355.4 256.9 355.4 256.9L355.4 246.7Z" fill="#00ff80"/>
<path d="M355.4 260.9C355.4 260.9 360.6 263.0 363.3 263.4C366.5 263.8 371.5 263.0 374.3 263.4C376.4 263.7 378.2 265.2 380.3 265.8C382.8 266.6 388.0 267.4 389.5 268.2C390.2 268.6 390.3 270.5 389.5 270.7C386.8 271.2 376.6 271.8 373 271.5C371.2 271.3 369.9 269.5 368.2 268.9C366.2 268.1 363.0 267.3 360.9 267C359.1 266.7 355.4 267.0 355.4 267L355.4 260.9Z" fill="#00ff80"/>
<path d="M355.4 273.1C355.4 273.1 358.2 273.6 359 274C359.5 274.3 360.0 274.9 359.9 275.5C359.8 276.1 359.1 277.2 358.4 277.6C357.6 278.0 355.4 278.0 355.4 278L355.4 273.1Z" fill="#00ff80"/>
<path d="M355.4 282.8C355.4 282.8 359.0 281.5 360.9 281.3C364.8 281.0 374.9 281.6 379.1 280.8C381.8 280.3 383.7 277.3 386.4 276.8C391.1 276.0 402.8 276.8 407.1 275.9C409.2 275.5 409.9 272.0 412 271.5C415.6 270.7 425.1 271.7 429 271.3C431.1 271.1 432.9 269.2 435.1 269.1C438.4 268.9 444.6 269.4 448.5 270.3C452.0 271.1 455.2 274.0 458.2 274.7C461.0 275.4 466.7 274.7 466.7 274.7L466.7 284.1C466.7 284.1 456.5 284.5 453.3 284.7C451.3 284.8 448.4 284.5 447.3 285.3C446.2 286.1 447.0 288.3 446.7 289.5C446.4 290.6 445.1 291.8 445.4 292.6C445.7 293.4 447.4 294.0 448.5 294.4C450.4 295.1 454.1 296.3 457 296.8C460.0 297.3 466.7 297.4 466.7 297.4L466.7 304.4C466.7 304.4 455.9 304.5 453.3 304.1C452.3 304.0 451.7 303.0 450.9 302.3C449.5 301.1 446.4 298.3 444.8 296.8C443.6 295.6 442.8 293.7 441.2 293.2C438.9 292.5 432.6 292.3 430.8 292.6C430.0 292.7 429.9 294.2 430.2 295C430.6 295.9 432.7 297.1 433.3 298.1C433.8 299.0 434.9 300.9 433.9 301.1C432.4 301.4 427.4 300.4 424.1 299.9C420.9 299.4 417.4 298.7 414.4 298.1C411.6 297.5 407.4 297.1 405.9 296.2C404.9 295.6 405.8 293.7 405.3 292.6C404.7 291.2 403.9 288.7 402.2 287.7C400.1 286.4 395.1 285.3 392.5 284.9C390.5 284.6 387.4 284.9 386.4 285.3C385.8 285.5 385.9 286.7 386.4 287.1C387.2 287.8 390.3 288.5 391.3 289.5C392.2 290.3 393.5 292.3 392.5 292.9C391.5 293.5 387.6 293.3 385.2 293.2C380.5 293.0 369.5 292.1 364.5 291.7C361.5 291.5 355.4 291.0 355.4 291L355.4 282.8Z" fill="#00ff80"/>
<path d="M409.5 285.9C409.4 285.0 410.4 283.5 411.4 282.8C412.6 282.0 414.9 281.2 416.8 281C418.9 280.8 421.9 281.1 424.1 281.3C426.1 281.5 429.1 281.6 430.2 282.2C431.0 282.6 431.0 283.9 430.8 284.7C430.6 285.7 430.2 287.8 429 288.3C427.1 289.1 422.1 289.5 419.3 289.5C416.8 289.5 413.6 288.9 412 288.3C410.9 287.9 409.6 286.8 409.5 285.9Z" fill="#00ff00"/>
<path d="M435.1 281.6C435.6 281.1 437.4 280.0 438.7 280C440.1 279.9 442.6 280.8 443.6 281.3C444.3 281.6 445.4 282.9 444.8 283.2C444.2 283.4 441.5 282.9 440 282.8C438.6 282.7 436.5 283.0 435.7 282.8C435.3 282.7 434.8 281.9 435.1 281.6Z" fill="#00ff00"/>
<path d="M382.2 301.7C382.2 300.9 384.8 299.4 386.4 298.7C388.1 297.9 390.4 297.3 392.5 297.2C394.9 297.1 399.3 297.2 401 297.8C402.0 298.1 402.2 299.7 402.8 300.5C403.4 301.3 404.5 302.0 404.7 302.9C404.9 303.8 405.0 305.4 404.1 305.6C402.3 306.1 396.6 306.0 393.7 305.6C391.2 305.3 388.3 304.2 386.4 303.5C385.0 303.0 382.2 302.5 382.2 301.7Z" fill="#00ff80"/>
<path d="M355.4 302.7C355.4 302.7 359.1 302.3 360.9 302.3C363.4 302.2 367.6 302.0 370.6 302.3C373.5 302.6 377.4 303.3 379.1 303.9C380.0 304.2 381.1 305.2 380.9 306C380.7 306.8 379.1 308.0 377.9 308.4C376.4 308.9 373.8 308.4 371.8 309C369.8 309.6 367.1 311.3 365.7 312.1C364.8 312.6 364.3 313.7 363.3 313.9C361.7 314.2 357.3 313.9 356 313.9C355.8 313.9 355.4 313.9 355.4 313.9L355.4 302.7Z" fill="#00ff80"/>
<path d="M405.3 315.3C405.3 315.3 405.6 312.4 405.9 311.4C406.1 310.6 406.3 309.5 407.1 309.3C408.5 309.0 412.4 309.3 414.4 309.6C416.1 309.9 418.0 310.7 419.3 311.4C420.4 312.0 421.7 313.2 422.3 313.9C422.6 314.3 422.9 315.3 422.9 315.3L405.3 315.3Z" fill="#00ff80"/>
<path d="M431.4 309C431.7 308.2 432.8 306.6 433.9 306C435.1 305.4 437.1 304.7 438.7 305.1C440.7 305.6 444.4 307.9 446 309C447.0 309.6 447.5 310.9 448.5 311.4C449.7 312.0 451.7 312.5 453.3 312.7C455.5 312.9 459.7 313.0 461.9 312.9C463.5 312.8 466.7 312.1 466.7 312.1L466.7 315.7L440 315.7C440.0 315.7 437.6 313.6 436.3 312.7C435.0 311.8 432.9 311.1 432.1 310.5C431.7 310.2 431.2 309.5 431.4 309Z" fill="#00ff80"/>
<path d="M466 236 L576 236 L576 315 L466 315Z" fill="#00ff80"/>
<path d="M501.9 235.4L576.7 235.4L576.7 244.5C576.7 244.5 572.6 244.3 570.6 243.9C568.4 243.5 565.8 242.5 563.3 242.1C560.5 241.6 556.8 241.3 553.6 240.9C549.6 240.4 543.9 239.4 539 239C532.9 238.5 523.2 238.1 517.1 237.8C512.2 237.5 505.0 237.4 502.5 237C501.9 236.9 501.9 235.4 501.9 235.4Z" fill="#00ff00"/>
<path d="M475.5 243.5C476.0 243.1 478.0 242.1 479.4 242.1C481.9 242.0 486.7 242.9 490.3 243.1C495.0 243.3 502.5 243.1 507.4 243.3C511.4 243.5 515.9 243.9 519.5 244.3C522.8 244.7 526.0 245.3 529.3 245.7C532.5 246.1 535.8 246.5 539 246.7C542.5 246.9 547.3 246.6 550 247.2C552.0 247.6 554.2 249.8 555.1 250.4C555.2 250.5 555.2 250.8 555.1 250.8C552.4 250.8 544.1 250.7 539 250.6C534.1 250.5 529.3 250.6 524.4 250.4C519.1 250.2 512.1 250.0 507.4 249.6C503.7 249.3 499.4 249.0 496.4 248.2C493.8 247.5 491.7 245.3 489.1 244.8C485.8 244.2 478.6 244.5 476.3 244.3C475.9 244.3 475.2 243.7 475.5 243.5Z" fill="#00ff00"/>
<path d="M465.4 251.2C465.4 251.2 480.4 251.0 484.3 251.2C485.9 251.3 488.2 251.9 489.1 252.4C489.7 252.7 490.2 253.8 489.7 254.3C489.1 254.9 487.0 255.7 485.5 256.1C483.2 256.7 478.6 257.3 475.7 257.7C473.3 258.0 470.1 258.4 468.4 258.5C467.4 258.6 465.4 258.5 465.4 258.5L465.4 251.2Z" fill="#00ff00"/>
<path d="M576.7 252.8C576.7 252.8 574.1 253.2 573.1 253.6C572.2 254.0 571.1 254.8 570.9 255.5C570.7 256.2 571.2 257.5 571.9 257.9C572.9 258.5 576.7 258.9 576.7 258.9L576.7 252.8Z" fill="#00ff00"/>
<path d="M465.4 262.2C465.4 262.2 478.1 261.8 481.8 261.3C483.9 261.0 485.8 259.5 487.9 259.1C490.7 258.6 495.2 258.4 498.9 258.3C505.4 258.2 517.5 258.4 526.8 258.5C536.9 258.6 553.0 258.4 559.7 258.9C562.3 259.1 564.5 261.0 567 261.6C569.8 262.3 576.7 263.0 576.7 263L576.7 266.4C576.7 266.4 566.9 266.3 563.3 266.7C560.4 267.0 557.7 268.3 554.8 268.6C550.8 269.0 544.3 268.9 539 268.9C530.7 268.9 512.4 268.5 504.9 268.6C501.3 268.6 497.6 269.4 494 269.5C488.7 269.6 478.1 269.8 473.3 269.5C470.6 269.3 465.4 267.9 465.4 267.9L465.4 262.2Z" fill="#00ff00"/>
<path d="M465.4 271.3C465.4 271.3 467.5 271.9 468.4 272.3C469.2 272.6 470.6 273.1 470.6 273.5C470.6 273.9 469.2 274.5 468.4 274.7C467.5 274.9 465.4 274.9 465.4 274.9L465.4 271.3Z" fill="#00ff00"/>
<path d="M465.4 285.9C465.4 285.9 468.2 284.3 469.7 284.1C473.4 283.7 483.2 284.2 487.9 283.7C491.2 283.4 494.3 281.9 497.6 281.3C502.1 280.6 510.2 279.8 514.7 279.2C517.9 278.8 521.1 278.2 524.4 278C528.4 277.8 534.1 278.0 539 278C544.1 278.0 550.3 278.2 554.8 278C558.5 277.8 562.9 277.3 565.8 276.8C567.9 276.4 570.1 275.4 571.9 274.9C573.5 274.5 576.7 274.0 576.7 274L576.7 284.7C576.7 284.7 572.6 285.1 570.6 285.3C568.4 285.5 565.7 285.8 563.3 286.1C559.6 286.5 553.6 287.3 548.7 287.7C543.8 288.1 538.2 288.0 534.1 288.3C530.9 288.5 527.6 289.1 524.4 289.5C519.9 290.0 513.1 290.9 507.4 291.4C501.7 291.8 494.1 291.6 490.3 292.2C488.2 292.5 486.4 294.3 484.3 294.7C481.9 295.1 478.5 295.0 475.7 294.7C472.5 294.4 465.4 292.6 465.4 292.6L465.4 285.9Z" fill="#00ff00"/>
<path d="M465.4 304.8C465.4 304.8 474.8 304.2 478.2 303.9C480.7 303.6 483.5 303.2 485.5 302.7C487.1 302.3 488.6 301.3 490.3 301.1C492.1 300.9 494.4 301.1 496.4 301.7C498.4 302.3 501.1 303.9 502.5 304.8C503.4 305.4 503.8 306.8 504.9 307.2C506.1 307.6 509.3 307.9 509.8 307.5C510.3 307.1 508.4 305.8 508 304.8C507.6 303.8 506.3 301.9 507.4 301.5C508.9 300.9 515.0 301.1 517.1 301.5C518.4 301.8 519.5 303.2 520.1 304.1C520.6 304.8 519.9 306.5 520.8 306.6C523.9 306.9 533.9 306.3 539 306C543.1 305.8 547.1 305.2 551.2 304.8C555.7 304.4 562.3 304.0 565.8 303.5C567.9 303.2 570.1 302.1 571.9 301.7C573.5 301.4 576.7 301.1 576.7 301.1L576.7 312.1C576.7 312.1 573.5 311.8 571.9 312.1C570.3 312.4 568.0 313.3 567 313.9C566.4 314.3 565.8 315.7 565.8 315.7L494.6 315.7C494.6 315.7 491.8 313.8 490.3 313.3C488.6 312.7 486.3 312.2 484.3 312.1C480.9 311.9 472.9 312.1 469.7 312.1C468.3 312.1 465.4 312.4 465.4 312.4L465.4 304.8Z" fill="#00ff00"/>
<path d="M525 301.3C525.6 301.1 528.0 301.0 528.7 301.1C529.0 301.2 529.3 302.0 529 302.1C528.4 302.3 526.0 302.4 525.3 302.3C525.0 302.2 524.7 301.4 525 301.3Z" fill="#00ff00"/>
<path d="M576 236 L686 236 L686 315 L576 315Z" fill="#00ff80"/>
<path d="M575.4 235.4L686.7 235.4L686.7 236.4C686.7 236.4 673.0 236.5 668.5 236.6C665.7 236.7 662.4 236.6 660 237C657.9 237.3 656.0 238.6 653.9 239C651.2 239.6 646.5 239.8 644.1 240.3C642.5 240.6 640.9 241.5 639.3 241.8C636.7 242.3 632.0 243.3 628.3 243.5C620.8 243.9 603.1 244.3 594.3 244.5C588.0 244.7 575.4 244.8 575.4 244.8L575.4 235.4Z" fill="#00ff00"/>
<path d="M575.4 253C575.4 253.0 622.9 253.1 634.4 252.8C637.7 252.7 641.3 251.4 644.1 251.2C646.5 251.0 649.6 251.4 651.4 251.6C652.7 251.7 654.8 252.7 655.1 252.4C655.4 252.1 653.1 250.7 653.3 250C653.5 249.3 655.2 248.5 656.3 248.2C658.4 247.6 663.2 246.9 666 246.3C668.4 245.8 670.8 244.9 673.3 244.5C675.9 244.0 679.7 243.7 681.9 243.5C683.5 243.3 686.7 243.1 686.7 243.1L686.7 255.2C686.7 255.2 685.1 254.8 684.3 254.5C683.5 254.1 682.8 253.1 681.9 253C680.1 252.8 675.5 253.2 673.3 253.6C671.6 253.9 669.7 254.6 668.5 255.5C667.3 256.4 667.2 258.3 666 259.1C664.6 260.1 662.1 261.0 660 261.3C657.2 261.8 652.7 261.8 649 261.8C642.7 261.9 627.3 261.9 622.2 261.8C621.0 261.8 619.8 261.3 618.6 261.3C615.4 261.3 606.4 261.8 602.8 261.6C600.7 261.5 598.8 260.3 596.7 260.1C592.1 259.7 575.4 258.9 575.4 258.9L575.4 253Z" fill="#00ff00"/>
<path d="M575.4 262.8C575.4 262.8 578.2 263.0 579 263.4C579.6 263.7 580.1 264.5 580 265C579.9 265.5 579.0 266.0 578.4 266.2C577.6 266.5 575.4 266.7 575.4 266.7L575.4 262.8Z" fill="#00ff00"/>
<path d="M575.4 274C575.4 274.0 596.8 273.9 602.8 273.5C605.7 273.3 608.9 271.9 611.3 271.3C613.3 270.8 615.3 270.2 617.4 270.1C624.1 269.8 641.7 269.8 651.4 269.5C659.5 269.3 669.9 268.9 675.8 268.6C679.4 268.4 686.7 267.9 686.7 267.9L686.7 278C686.7 278.0 684.3 278.3 683.1 278.3C678.9 278.4 668.5 278.6 661.2 278.6C653.9 278.6 644.8 278.7 639.3 278.6C635.6 278.6 631.5 278.1 628.3 278.3C625.4 278.5 622.4 279.2 619.8 279.8C617.3 280.4 615.0 281.7 612.5 282C608.2 282.4 599.8 282.2 594.3 282.5C589.4 282.8 582.9 283.3 579.7 283.7C578.2 283.9 575.4 284.7 575.4 284.7L575.4 274Z" fill="#00ff00"/>
<path d="M575.4 301.1C575.4 301.1 579.0 300.0 580.9 299.9C585.0 299.6 595.8 299.7 600.3 299.3C602.8 299.1 606.1 298.1 607.6 297.4C608.5 297.0 608.6 295.4 609.5 295C610.9 294.3 613.9 293.4 616.2 293.2C621.2 292.8 633.0 292.9 639.3 292.9C644.2 292.9 651.5 293.5 653.9 293.2C654.7 293.1 653.4 291.4 653.9 290.8C654.5 290.1 656.2 289.1 657.5 288.9C660.7 288.4 669.0 288.3 673.3 288.1C676.6 287.9 680.9 287.9 683.1 287.7C684.3 287.6 686.7 286.9 686.7 286.9L686.7 304.4C686.7 304.4 683.3 304.5 681.9 304.8C680.6 305.0 679.5 305.9 678.2 306C674.8 306.1 665.7 305.8 661.2 305.6C657.9 305.5 654.2 305.2 651.4 304.8C648.9 304.4 646.6 303.1 644.1 302.9C640.1 302.5 630.8 302.6 627.1 302.7C625.4 302.7 623.2 302.8 622.2 303.5C621.2 304.2 622.2 306.7 621 307.2C618.6 308.1 611.5 308.3 607.6 309C604.3 309.6 601.2 310.8 597.9 311.2C594.0 311.6 588.2 311.7 584.5 311.7C581.5 311.7 575.4 311.2 575.4 311.2L575.4 301.1Z" fill="#00ff00"/>
<path d="M686.7 294.2C686.7 294.2 680.2 294.5 677 294.7C673.8 294.9 669.6 295.2 667.3 295.6C665.8 295.8 663.2 296.3 663 296.8C662.8 297.3 664.8 298.4 666 298.7C667.7 299.1 670.9 299.2 673.3 299.3C676.8 299.4 686.7 299.3 686.7 299.3L686.7 294.2Z" fill="#00ff80"/>
<path d="M660 315.7C660.0 315.7 660.5 314.0 661.2 313.9C663.4 313.4 669.3 313.1 673.3 312.9C677.5 312.7 686.7 312.7 686.7 312.7L686.7 315.7L660 315.7Z" fill="#00ff00"/>
<path d="M686 236 L771.2 236 L771.2 315 L686 315Z" fill="#00ff80"/>
<path d="M685.4 243.1C685.4 243.1 693.9 242.8 698.2 242.7C703.4 242.5 712.5 242.8 716.4 242.1C718.4 241.7 719.7 239.2 721.3 238.4C722.8 237.6 724.5 237.1 726.2 237C732.5 236.7 751.5 236.7 759 236.6C763.1 236.6 769.2 234.3 771.2 236.6C773.2 238.9 773.2 248.0 771.2 250.4C769.2 252.8 762.2 250.8 759 251.2C756.5 251.5 754.2 252.5 751.7 253C748.9 253.6 745.2 254.2 742 254.5C738.8 254.8 735.5 254.7 732.2 254.5C727.9 254.2 721.7 253.1 716.4 253C710.7 252.9 702.1 253.7 698.2 254C696.5 254.1 694.9 254.6 693.3 254.9C691.2 255.2 685.4 256.1 685.4 256.1L685.4 243.1Z" fill="#00ff00"/>
<path d="M685.4 267.4C685.4 267.4 693.9 266.7 698.2 266.4C703.4 266.0 711.5 265.7 716.4 265.2C720.1 264.8 723.7 263.8 727.4 263.4C732.5 262.9 740.3 262.4 746.8 262.2C754.1 261.9 767.1 260.4 771.2 261.8C773.9 262.7 773.7 269.0 771.2 270.3C768.4 271.8 759.8 270.5 754.1 270.7C748.4 270.9 742.4 270.8 737.1 271.3C732.2 271.8 727.4 273.2 722.5 273.7C717.7 274.2 711.9 273.7 707.9 274.3C704.5 274.8 701.5 276.8 698.2 277.4C694.5 278.1 685.4 278.6 685.4 278.6L685.4 267.4Z" fill="#00ff00"/>
<path d="M701 284.2C701.2 283.5 701.9 281.9 703 281.6C705.6 280.9 711.9 280.5 716.4 280C721.3 279.5 728.4 279.1 732.2 278.6C734.7 278.3 737.0 277.1 739.5 276.8C743.1 276.4 749.2 276.1 754.1 275.9C759.4 275.7 768.4 274.6 771.2 275.5C773.1 276.1 772.9 280.3 771.2 281.4C769.5 282.5 763.7 281.7 761.1 282C759.3 282.2 757.6 282.9 755.8 283.3C753.8 283.8 751.4 284.5 749.2 284.7C746.1 285.0 741.1 284.9 737.1 284.9C732.6 284.9 727.0 284.8 722.5 285C718.4 285.2 713.8 285.8 710.3 285.9C707.5 286.0 703.3 285.9 701.8 285.6C701.3 285.5 700.8 284.7 701 284.2Z" fill="#00ff00"/>
<path d="M685.4 287.1C685.4 287.1 690.5 286.9 692.1 287.1C693.2 287.3 694.9 288.1 695.1 288.6C695.3 289.1 694.0 289.7 693.3 290.1C692.4 290.7 690.9 291.4 689.7 292C688.4 292.6 685.4 293.8 685.4 293.8L685.4 287.1Z" fill="#00ff00"/>
<path d="M685.4 299.5C685.4 299.5 688.4 297.5 689.7 296.8C690.8 296.2 692.0 295.5 693.3 295.4C697.5 295.0 710.1 294.5 715.2 294.2C718.1 294.0 721.1 293.6 724 293.3C727.0 293.0 730.6 292.4 733.2 292.2C735.4 292.0 737.8 292.0 739.9 292.2C741.9 292.4 743.9 293.4 745.9 293.6C749.0 293.8 755.6 294.1 758.4 293.6C760.0 293.3 760.9 291.3 762.4 290.6C764.5 289.7 769.7 287.1 771.2 288.1C772.7 289.1 771.9 295.2 771.2 296.8C770.6 298.1 768.4 297.2 767 297.6C765.5 298.0 763.9 298.6 762.4 299.3C760.8 300.0 758.5 301.2 757.2 302C756.2 302.6 755.2 303.1 754.5 303.9C753.8 304.7 753.9 305.9 753.2 306.6C752.3 307.6 750.5 308.8 749.2 309.9C747.9 311.0 746.4 311.9 745.1 313.1C743.8 314.3 741.2 317.2 741.2 317.2L725.9 317.2C725.9 317.2 730.8 313.8 732.6 312.5C733.9 311.5 735.6 310.3 736.5 309.3C737.2 308.6 736.9 307.1 737.8 306.6C738.8 306.0 741.0 306.3 742.6 305.8C744.5 305.2 747.7 303.9 749.2 303.2C750.1 302.8 752.0 302.3 751.8 301.6C751.6 300.9 749.1 299.4 747.8 298.9C746.6 298.4 745.1 298.2 743.8 298.3C742.1 298.4 739.6 299.0 737.8 299.3C736.3 299.5 734.7 299.7 733.2 299.9C731.2 300.2 728.4 300.9 725.9 301.2C723.0 301.6 719.2 301.9 715.9 302C711.3 302.2 703.3 302.2 698.2 302.3C693.9 302.4 685.4 302.7 685.4 302.7L685.4 299.5Z" fill="#00ff00"/>
<path d="M771.2 305.4C770.7 304.0 768.4 306.1 767 306.6C765.5 307.1 763.7 307.7 762.4 308.5C761.2 309.2 760.1 310.1 759.1 311.2C758.0 312.4 755.8 315.8 755.8 315.8L771.2 317.2C771.2 317.2 771.9 307.2 771.2 305.4Z" fill="#00ff00"/>
<path d="M685.4 310.2C685.4 310.2 693.9 309.3 698.2 309C703.4 308.6 711.8 308.2 716.4 307.8C719.6 307.5 724.0 306.7 725.9 306.8C726.8 306.9 728.0 307.8 728 308.5C728.0 309.2 726.7 310.4 725.9 311.2C725.0 312.1 723.7 312.9 722.6 313.9C721.5 314.9 719.3 317.2 719.3 317.2L685.4 317.2L685.4 310.2Z" fill="#00ff00"/>
<path d="M136 315 L246 315 L246 394 L136 394Z" fill="#00ff80"/>
<path d="M135.4 319.1C135.4 319.1 136.7 319.4 137.2 319.1C138.1 318.6 139.3 316.9 140.6 316.1C141.9 315.3 145.2 314.1 145.2 314.1L156.9 313.1L156.9 314.1C156.9 314.1 154.9 315.6 153.8 316.1C152.4 316.7 150.0 317.0 148.4 317.7C147.0 318.4 145.2 319.6 144.5 320.4C144.0 321.0 143.5 322.4 144.2 322.7C145.1 323.1 148.1 323.0 150 322.7C152.0 322.4 154.2 321.5 156.1 320.7C158.0 319.9 159.8 318.8 161.6 318C163.4 317.3 165.1 316.5 167 316.1C169.2 315.6 172.5 315.1 174.7 315C176.5 314.9 178.7 314.9 180.2 315.4C181.5 315.8 183.2 316.9 183.6 317.7C184.0 318.5 183.3 319.7 182.5 320C181.0 320.6 177.2 320.8 174.7 321.6C172.1 322.4 169.6 323.6 167 324.6C164.4 325.6 161.8 326.9 159.2 327.7C156.7 328.5 153.4 329.1 151.5 329.6C150.2 330.0 149.0 330.7 147.6 330.8C144.9 331.0 135.4 330.8 135.4 330.8L135.4 319.1Z" fill="#00ff00"/>
<path d="M157.1 333.5C157.8 332.9 159.9 331.2 161.6 330.5C163.5 329.7 166.3 329.4 168.5 328.5C170.7 327.6 172.6 326.2 174.7 325.3C177.0 324.3 179.9 323.1 182.5 322.3C185.0 321.5 187.6 321.0 190.1 320.4C192.7 319.8 196.6 316.7 197.9 318.8C199.2 320.9 199.2 330.5 197.9 333.1C196.7 335.5 192.0 334.2 190.1 334.7C188.8 335.1 187.6 336.2 186.4 336.3C185.3 336.4 183.3 335.9 183.2 335.4C183.0 334.9 184.7 334.0 185.5 333.5C186.7 332.7 189.9 331.6 190.6 330.8C191.1 330.2 190.1 328.9 189.4 328.9C188.1 328.8 184.8 330.0 182.5 330.5C180.1 331.1 177.3 331.8 174.7 332.4C172.1 333.0 169.6 333.6 167 333.9C164.1 334.2 159.0 334.4 157.3 334.3C157.0 334.3 156.9 333.7 157.1 333.5Z" fill="#00ff00"/>
<path d="M196 319.1C196.2 318.1 198.0 318.7 199 318.4C200.7 318.0 203.8 317.2 206.1 316.5C208.7 315.7 214.6 313.7 214.6 313.7L227.7 313.4L227.7 314.1C227.7 314.1 221.4 314.7 219.2 315C217.6 315.2 216.1 315.7 214.6 316.1C213.1 316.6 211.4 317.1 210 317.7C208.6 318.3 207.1 319.2 206.1 320C205.2 320.7 204.7 321.9 203.8 322.7C202.9 323.5 200.2 324.5 200.6 324.7C201.0 324.9 204.3 324.2 206.1 323.9C208.0 323.6 210.2 323.2 212.3 323C214.9 322.7 218.8 322.6 221.5 322.3C223.9 322.0 226.4 321.3 228.5 321.1C230.3 320.9 233.7 320.8 234 321.1C234.3 321.4 231.0 322.4 230.1 323C229.5 323.4 228.6 324.0 228.8 324.6C229.1 325.2 230.5 326.5 231.6 326.9C233.0 327.4 235.2 327.4 237 327.8C239.1 328.2 241.9 329.0 244.1 329.6C246.1 330.1 250.1 331.2 250.1 331.2L252.9 332.4L251.7 333.7C251.7 333.7 237.0 334.0 233.1 333.7C231.5 333.6 230.1 332.3 228.5 332C226.4 331.6 223.4 331.6 220.8 331.5C218.1 331.4 214.8 331.1 212.3 331.2C210.2 331.3 208.2 332.1 206.1 332.4C203.9 332.8 200.7 333.1 199 333.3C198.0 333.4 196.2 334.9 196 333.9C195.5 331.5 195.5 321.7 196 319.1Z" fill="#00ff00"/>
<path d="M197.9 325.1C198.4 324.9 200.6 324.8 201.1 324.9C201.4 325.0 201.5 325.7 201.2 325.8C200.7 326.0 198.6 326.1 198.1 326C197.8 325.9 197.6 325.2 197.9 325.1Z" fill="#00ff80"/>
<path d="M240.9 312.6 L240.9 316.7 L246.7 316.7 L246.7 312.6Z" fill="#00ff00"/>
<path d="M137.9 343.6C138.0 343.1 139.6 342.2 140.6 341.6C141.8 340.9 143.9 339.6 145.2 339.3C146.2 339.0 148.0 339.2 148.4 339.7C148.8 340.1 148.1 341.3 147.6 342C147.1 342.8 146.2 343.9 145.2 344.3C143.9 344.8 141.1 344.9 139.9 344.8C139.1 344.7 137.8 344.1 137.9 343.6Z" fill="#00ff00"/>
<path d="M135.4 348.6C135.4 348.6 142.8 348.3 145.2 347.9C146.9 347.6 148.4 346.9 150 346.3C151.6 345.7 153.0 344.8 154.6 344.3C156.5 343.6 159.5 342.9 161.6 342.4C163.4 342.0 165.2 341.5 167 341.3C168.8 341.1 171.4 340.7 172.4 341.3C173.4 341.9 172.0 344.4 173.1 344.8C174.8 345.4 179.7 344.8 182.5 344.6C185.0 344.4 187.8 344.0 190.1 343.6C192.1 343.2 194.0 342.4 196 342C198.0 341.6 200.3 341.6 202.2 341.3C204.0 341.0 205.7 340.5 207.5 340.1C209.7 339.6 212.8 338.4 215.3 338.1C217.6 337.8 220.7 337.7 222.3 338.1C223.5 338.4 225.7 340.1 225.1 340.6C224.5 341.1 220.7 340.9 218.5 341.3C216.2 341.7 213.1 342.4 211.4 342.9C210.4 343.2 209.0 343.6 208.4 344C208.0 344.3 207.5 345.4 208 345.5C210.1 345.8 217.9 345.8 220.8 345.5C222.4 345.4 223.9 344.5 225.4 344C227.1 343.5 229.0 342.9 230.8 342.4C232.7 341.9 234.9 341.3 237 340.9C239.2 340.5 241.9 340.4 244.1 340.1C246.1 339.8 250.1 339.0 250.1 339L253.3 353.7C253.3 353.7 244.6 353.9 242.5 354.1C241.9 354.1 241.5 354.7 240.9 354.7C239.0 354.8 233.4 354.9 230.8 354.8C229.0 354.7 226.4 354.2 225.4 353.9C225.0 353.8 225.0 353.1 224.6 353.1C221.9 353.0 212.8 352.9 209.1 353.1C206.8 353.2 203.9 353.8 202.2 354.1C201.1 354.3 200.0 354.8 199 355.2C198.0 355.6 197.1 356.4 196 356.7C194.5 357.1 192.1 357.3 190.1 357.6C187.8 357.9 185.1 358.6 182.5 358.7C179.0 358.9 171.9 359.0 169.3 358.7C168.4 358.6 167.9 357.2 167 357.1C165.7 356.9 163.4 357.5 161.6 357.6C158.9 357.7 153.4 357.7 150.7 357.6C148.9 357.5 146.9 356.9 145.2 357.1C143.6 357.3 142.0 357.9 140.6 358.7C139.0 359.6 135.4 362.6 135.4 362.6L135.4 348.6Z" fill="#00ff00"/>
<path d="M154.3 351.4C154.4 351.0 157.0 349.9 158.5 349.4C160.1 348.8 162.1 348.2 163.9 347.9C166.0 347.5 169.8 346.9 170.8 347.1C171.5 347.2 170.7 348.8 170.1 349.1C168.9 349.6 166.0 349.8 163.9 350.2C161.8 350.6 159.3 351.5 157.7 351.7C156.6 351.8 154.2 351.8 154.3 351.4Z" fill="#00ff80"/>
<path d="M174.3 353.3C174.3 352.9 177.7 352.2 179.3 351.7C180.9 351.2 182.4 350.4 184.1 350.2C186.4 349.9 191.5 350.0 193.3 350.2C194.0 350.3 195.4 351.0 194.9 351.4C194.4 351.8 191.7 352.5 190.1 352.8C188.6 353.1 187.0 353.1 185.5 353.3C183.7 353.5 181.2 353.9 179.3 353.9C177.6 353.9 174.3 353.7 174.3 353.3Z" fill="#00ff80"/>
<path d="M223.9 362.6C224.7 362.2 226.9 361.1 228.5 361C232.2 360.7 246.4 361.0 246.4 361L246.7 363.1C246.7 363.1 227.7 363.3 223.9 363.2C223.7 363.2 223.7 362.7 223.9 362.6Z" fill="#00ff00"/>
<path d="M135.4 368.5C135.4 368.5 140.6 369.8 143.3 369.8C146.0 369.8 149.0 368.9 151.8 368.5C155.7 368.0 162.3 366.9 166.4 366.7C169.7 366.5 172.9 367.3 176.2 367.3C180.5 367.3 187.3 366.9 192 366.7C196.0 366.5 200.9 366.4 204.1 366.1C206.6 365.9 209.0 365.4 211.4 364.9C213.8 364.4 216.3 363.6 218.7 363.1C221.5 362.5 225.2 361.4 228.5 361.2C233.2 360.8 246.7 361.0 246.7 361L246.7 369.8C246.7 369.8 241.8 370.2 239.4 370.4C236.4 370.7 232.1 370.9 228.5 371.6C224.7 372.3 219.6 373.8 216.3 374.6C213.9 375.2 211.4 376.0 209 376.4C206.6 376.8 204.1 377.1 201.7 377.1C199.3 377.1 196.4 376.3 194.4 376.4C192.7 376.5 191.2 377.5 189.5 377.7C186.2 378.0 179.8 378.2 174.9 378.3C170.0 378.4 164.4 378.8 160.3 378.3C156.9 377.9 153.4 375.5 150.6 375.2C148.1 374.9 145.7 376.1 143.3 376.4C140.8 376.7 135.4 377.1 135.4 377.1L135.4 368.5Z" fill="#00ff00"/>
<path d="M220 379.2C220.0 378.9 225.7 378.2 228.5 377.7C231.3 377.2 234.2 376.8 237 376.4C240.0 376.0 246.7 375.2 246.7 375.2L246.7 378.3C246.7 378.3 240.0 378.7 237 378.9C234.2 379.1 231.3 379.4 228.5 379.5C225.7 379.6 220.0 379.5 220 379.2Z" fill="#00ff00"/>
<path d="M140.9 381.3C141.4 380.9 143.4 381.3 144.5 381.7C145.7 382.2 148.0 383.5 148.2 384.1C148.4 384.7 146.6 385.3 145.7 385.3C144.6 385.2 142.3 384.5 141.5 383.8C140.8 383.3 140.4 381.7 140.9 381.3Z" fill="#00ff00"/>
<path d="M151.2 387.4C151.0 387.0 153.2 386.5 154.3 386.5C156.8 386.4 162.4 386.7 166.4 386.8C173.5 386.9 187.7 387.2 196.8 387.4C204.9 387.6 215.9 388.1 221.2 388C223.7 388.0 226.0 386.9 228.5 386.8C231.1 386.7 234.2 387.2 237 387.4C240.0 387.6 246.7 387.8 246.7 387.8L246.7 394.7L145.7 394.7C145.7 394.7 146.0 392.2 147 391.7C148.4 391.0 152.9 390.9 154.3 390.4C155.0 390.2 156.0 389.1 155.5 388.6C155.0 388.1 151.4 387.8 151.2 387.4Z" fill="#00ff00"/>
<path d="M246 315 L356 315 L356 394 L246 394Z" fill="#00ff80"/>
<path d="M271.3 314.4C271.3 314.4 271.3 316.9 272.2 317.4C273.9 318.2 278.3 318.5 281.3 319.3C284.4 320.1 287.8 321.6 291 322.3C294.2 323.0 297.5 323.0 300.8 323.5C304.2 324.0 308.0 325.0 311.7 325.3C315.8 325.6 321.9 325.6 325.1 325.3C327.2 325.1 329.1 323.8 331.2 323.5C334.2 323.0 340.1 323.0 343.3 322.5C345.8 322.1 348.4 320.9 350.6 320.5C352.6 320.1 356.7 319.9 356.7 319.9L356.7 314.4L271.3 314.4Z" fill="#00ff00"/>
<path d="M320.2 314.4C320.2 314.4 321.2 316.3 322.1 316.5C323.9 317.0 328.8 317.5 331.2 317.4C333.1 317.3 335.7 316.1 336.7 315.6C337.1 315.4 337.3 314.4 337.3 314.4L320.2 314.4Z" fill="#00ff80"/>
<path d="M245.4 330.2C245.4 330.2 249.7 330.3 250.9 330.6C251.6 330.8 252.7 331.4 252.7 332C252.7 332.6 251.7 333.7 250.9 333.9C249.7 334.2 245.4 333.9 245.4 333.9L245.4 330.2Z" fill="#00ff00"/>
<path d="M245.4 339.9C245.4 339.9 249.2 338.7 250.9 338.1C252.5 337.5 254.0 336.7 255.7 336.3C258.7 335.6 266.2 334.4 269.1 333.9C270.3 333.7 271.5 333.0 272.8 333C276.4 332.9 286.9 332.8 291 333.3C293.2 333.6 294.9 336.0 297.1 336.3C300.8 336.9 308.8 337.0 312.9 336.7C315.8 336.5 318.5 335.0 321.4 334.5C324.4 333.9 328.0 333.8 331.2 333.3C334.9 332.7 340.1 331.3 343.3 330.8C345.7 330.4 348.4 330.4 350.6 330.2C352.6 330.0 356.7 329.6 356.7 329.6L356.7 343.6C356.7 343.6 354.3 344.1 353.1 344C351.5 343.8 349.0 342.9 347 342.4C344.6 341.8 341.4 340.9 338.5 340.6C335.4 340.2 331.8 340.2 328.7 340.3C325.9 340.4 321.4 340.6 320.2 341.2C319.4 341.6 320.6 343.3 321.4 343.6C323.2 344.3 329.2 344.7 331.2 345.4C332.3 345.8 333.8 347.2 333.6 347.9C333.4 348.6 331.3 349.5 330 349.7C327.6 350.0 322.4 349.9 319 349.7C315.7 349.5 311.7 349.1 309.3 348.5C307.6 348.1 306.2 346.6 304.4 346.4C300.9 346.0 292.7 346.2 288.6 346.4C285.7 346.5 282.5 347.1 280.1 347.6C278.0 348.1 276.1 349.3 274 349.7C270.8 350.2 264.1 350.3 260.6 350.9C258.1 351.3 255.8 352.8 253.3 353.3C250.8 353.8 245.4 353.9 245.4 353.9L245.4 339.9Z" fill="#00ff00"/>
<path d="M255.1 344.4C254.5 344.0 258.7 342.7 260.6 342.4C263.4 342.0 269.6 341.7 271.6 342C272.4 342.1 273.5 343.7 272.8 344C271.6 344.5 267.1 344.7 264.3 344.8C261.4 344.9 255.7 344.8 255.1 344.4Z" fill="#00ff80"/>
<path d="M261 357.2C261.6 356.6 263.8 354.7 265.5 354.5C269.5 354.0 281.2 354.6 284.9 354.2C286.0 354.1 286.3 352.3 287.4 352.1C289.0 351.8 292.7 351.8 294.7 352.1C296.4 352.4 297.8 353.8 299.5 353.9C303.9 354.2 316.3 354.2 321.4 354.2C324.3 354.2 328.0 354.2 330 353.7C331.5 353.3 332.2 351.5 333.6 350.9C335.0 350.2 336.8 349.8 338.5 349.7C342.4 349.5 356.7 349.7 356.7 349.7L356.7 368.5C356.7 368.5 352.6 368.6 350.6 368.5C347.6 368.4 341.3 368.3 338.5 367.9C336.8 367.7 335.2 366.7 333.6 366.1C331.6 365.3 328.9 363.3 326.3 363.1C319.4 362.6 298.9 363.3 292.2 363.1C290.2 363.0 287.8 362.5 286.2 361.8C284.7 361.2 284.1 359.0 282.5 358.8C278.4 358.2 265.4 358.3 261.8 358C261.4 358.0 260.7 357.5 261 357.2Z" fill="#00ff00"/>
<path d="M334.2 360.6C334.6 360.1 337.0 359.4 338.5 359C340.4 358.4 343.6 357.5 345.8 357.3C347.8 357.1 350.1 357.5 351.9 357.6C353.5 357.7 356.7 358.2 356.7 358.2L356.7 362.7C356.7 362.7 346.8 362.6 343.3 362.5C340.9 362.4 337.5 362.1 336 361.8C335.3 361.7 333.8 361.1 334.2 360.6Z" fill="#00ff80"/>
<path d="M245.4 361.2C245.4 361.2 250.6 362.9 253.3 363.1C257.2 363.4 265.7 362.8 269.1 363.1C270.8 363.3 272.9 364.2 274 364.9C274.8 365.4 276.4 366.7 275.8 367.3C275.2 367.9 272.2 368.2 270.3 368.3C266.6 368.5 257.4 368.2 253.3 368.5C250.6 368.7 245.4 369.8 245.4 369.8L245.4 361.2Z" fill="#00ff00"/>
<path d="M245.4 374.6C245.4 374.6 250.7 374.2 253.3 374C256.2 373.8 259.8 373.6 263 373.2C266.6 372.8 272.1 372.2 275.2 371.6C277.3 371.2 279.2 369.7 281.3 369.5C285.0 369.2 292.9 369.7 297.1 369.8C300.3 369.9 303.6 370.2 306.8 370.4C310.1 370.6 315.1 370.7 316.8 371.2C317.4 371.4 317.5 373.1 316.8 373.2C314.7 373.6 307.5 373.4 304.4 373.7C302.3 373.9 300.4 375.0 298.3 375.2C295.1 375.5 287.4 375.9 285.2 375.6C284.5 375.5 285.3 373.8 284.9 373.4C284.4 373.0 283.1 373.0 282.5 373.4C281.9 373.8 282.1 375.4 281.3 375.6C279.3 376.1 274.0 376.2 270.3 376.4C265.6 376.6 257.4 376.8 253.3 377.1C250.6 377.3 245.4 378.3 245.4 378.3L245.4 374.6Z" fill="#00ff00"/>
<path d="M293.2 381.6C293.7 381.0 295.6 379.7 297.1 379.5C301.0 378.9 311.9 378.1 316.6 377.7C319.4 377.4 322.3 376.9 325.1 376.8C331.8 376.7 356.7 376.8 356.7 376.8L356.7 387C356.7 387.0 346.8 387.0 343.3 386.8C340.8 386.6 338.5 385.8 336 385.6C331.6 385.2 321.9 384.7 316.6 384.6C312.5 384.5 307.2 385.2 304.4 385C302.7 384.9 301.2 383.7 299.5 383.4C297.8 383.1 295.2 383.4 294.1 383.1C293.5 382.9 292.8 382.0 293.2 381.6Z" fill="#00ff00"/>
<path d="M275.2 388C275.4 387.3 275.6 385.7 276.4 385C277.6 384.0 280.5 382.3 282.5 381.9C284.5 381.5 287.0 382.6 288.6 382.5C289.9 382.4 291.4 381.2 292.2 381.3C292.9 381.4 294.0 382.5 293.5 383.1C292.9 383.8 290.0 384.8 288.6 385.6C287.3 386.3 286.3 387.4 284.9 388C283.5 388.6 281.7 389.0 280.1 389.2C278.5 389.4 276.0 389.4 275.2 389.2C274.8 389.1 275.1 388.4 275.2 388Z" fill="#00ff00"/>
<path d="M245.4 388.6C245.4 388.6 257.7 388.2 261.8 388.3C264.6 388.3 268.3 388.7 270.3 389C271.6 389.2 272.7 390.4 274 390.4C276.4 390.5 281.9 389.9 284.9 389.5C287.4 389.2 289.8 388.6 292.2 388C294.6 387.4 297.7 386.0 299.5 385.6C300.7 385.3 303.2 385.2 303.2 385.6C303.2 386.0 300.8 387.3 299.5 388C298.1 388.8 296.1 389.6 294.7 390.4C293.4 391.1 292.2 392.2 291 392.9C289.8 393.6 287.4 394.7 287.4 394.7L245.4 394.7L245.4 388.6Z" fill="#00ff00"/>
<path d="M271.6 394.3C271.6 394.3 272.5 392.5 273.4 392.3C275.0 391.9 279.8 391.5 281.3 391.7C282.0 391.8 282.4 393.1 282.5 393.5C282.6 393.8 281.9 394.3 281.9 394.3L271.6 394.3Z" fill="#00ff80"/>
<path d="M333 394.7C333.0 394.7 333.0 393.2 333.6 393.1C335.2 392.8 341.1 392.8 342.7 393.1C343.3 393.2 343.3 394.7 343.3 394.7L333 394.7Z" fill="#00ff00"/>
<path d="M264 385.9C264.4 385.7 265.8 385.7 266.1 385.9C266.4 386.1 266.4 386.8 266.1 387C265.8 387.2 264.4 387.2 264 387C263.7 386.8 263.7 386.1 264 385.9Z" fill="#00ff00"/>
<path d="M356 315 L466 315 L466 394 L356 394Z" fill="#00ff00"/>
<path d="M355.4 319.9C355.4 319.9 360.0 319.2 362.1 318.7C364.2 318.2 366.2 317.3 368.2 316.8C370.2 316.3 372.2 315.7 374.3 315.6C378.6 315.4 389.9 315.0 393.7 315.6C395.3 315.9 395.8 318.4 396.8 319.3C397.7 320.1 398.8 320.8 399.9 321.3C401.3 321.9 403.6 322.2 405.3 323C407.2 323.9 409.6 325.5 411.5 326.9C413.4 328.3 415.3 330.3 417 331.5C418.4 332.6 420.0 333.7 421.6 334.3C423.2 334.9 425.5 335.1 426.9 335.4C428.0 335.7 429.6 335.4 430.1 336.3C430.6 337.2 430.4 340.0 429.9 340.9C429.4 341.8 427.9 341.7 426.9 341.8C424.5 342.0 418.9 342.0 415.4 341.8C412.2 341.6 408.4 341.5 406 340.6C403.9 339.8 402.4 337.1 400.7 336.3C399.3 335.7 397.4 336.3 396 336.1C394.8 335.9 393.5 335.8 392.5 335.1C391.3 334.3 390.3 332.5 388.9 331.4C387.5 330.3 385.4 329.2 384 328.4C382.8 327.7 381.6 327.0 380.3 326.6C378.7 326.1 376.3 325.4 374.3 325.3C371.9 325.2 368.0 325.7 365.7 326C363.9 326.2 361.3 326.6 360.3 327.2C359.6 327.6 360.4 329.1 359.7 329.4C358.9 329.8 355.4 329.6 355.4 329.6L355.4 319.9Z" fill="#00ff80"/>
<path d="M363.3 333.5C362.9 333.0 364.8 332.1 365.7 332C367.3 331.8 371.6 331.9 373 332.3C373.7 332.5 375.0 333.8 374.3 334.2C373.5 334.7 370.0 335.2 368.2 335.1C366.5 335.0 363.7 334.0 363.3 333.5Z" fill="#00ff80"/>
<path d="M405.3 313.1L423 313.1C423.0 313.1 425.5 315.7 426.9 316.8C428.5 318.1 430.6 319.4 432.4 320.7C434.2 322.0 436.1 323.2 437.8 324.6C439.4 325.9 440.6 327.9 442.5 328.9C444.6 330.0 447.6 331.0 450.2 331.5C452.8 332.0 456.7 331.4 458 332C459.0 332.5 458.2 334.3 458 335.4C457.7 336.6 457.6 338.6 456.4 339.3C455.1 340.0 452.3 339.9 450.2 339.7C447.9 339.4 444.9 338.4 442.5 337.8C440.2 337.2 436.8 336.5 435.5 335.8C434.9 335.5 435.1 334.5 434.7 333.9C434.2 333.1 433.5 331.5 432.4 330.8C431.1 329.9 428.7 329.4 426.9 328.5C425.1 327.6 423.4 326.4 421.6 325.3C419.7 324.2 416.6 322.9 415.4 321.6C414.5 320.6 415.5 318.6 414.5 317.7C412.8 316.3 405.3 313.1 405.3 313.1Z" fill="#00ff80"/>
<path d="M439.4 313.1L454.1 313.1L460.3 314.1C460.3 314.1 459.8 318.6 460.3 320C460.7 321.2 462.3 321.6 463.3 322.3C464.4 323.1 466.7 324.6 466.7 324.6L466.7 335.1C466.7 335.1 461.6 334.9 460.3 335.1C459.6 335.2 459.1 336.2 458.7 336.3C458.3 336.3 458.0 335.8 458 335.4C457.9 333.9 458.4 329.0 458 327.3C457.8 326.2 456.6 325.6 455.7 325C454.4 324.1 452.0 322.7 450.2 321.6C448.2 320.4 445.8 319.1 444 317.7C442.3 316.4 439.4 313.1 439.4 313.1Z" fill="#00ff80"/>
<path d="M422.3 349.4C422.1 348.3 424.2 347.1 425.5 346.3C426.9 345.4 428.9 344.1 430.8 344C432.9 343.9 435.5 345.0 437.8 345.5C440.4 346.0 443.7 346.5 446.3 347.1C448.7 347.7 451.9 348.4 453.3 349.4C454.4 350.2 454.1 352.1 454.8 353.3C455.6 354.6 456.8 355.9 458 357.1C459.3 358.4 461.6 360.0 462.6 361C463.2 361.6 463.8 362.3 464.2 363.1C464.7 364.2 465.1 365.9 465.5 367.3C465.9 368.8 466.7 372.2 466.7 372.2L466.7 378.3C466.7 378.3 464.3 375.0 463.1 373.4C461.9 371.8 460.8 370.0 459.4 368.5C457.8 366.8 454.9 364.6 453.3 363.1C452.0 361.9 450.8 360.4 449.5 359.4C448.3 358.5 447.0 357.7 445.6 357.1C443.7 356.3 440.3 355.3 437.8 354.8C435.5 354.3 432.6 354.4 430.8 354.1C429.5 353.9 428.1 353.5 426.9 352.8C425.5 352.0 422.5 350.5 422.3 349.4Z" fill="#00ff80"/>
<path d="M456 347.1C456.1 346.4 457.1 345.6 458 345.4C459.2 345.1 461.9 345.2 463.3 345.5C464.5 345.7 466.7 347.1 466.7 347.1L466.7 351.7C466.7 351.7 461.9 351.8 460.3 351.4C459.1 351.1 457.8 350.1 457.1 349.4C456.5 348.8 455.9 347.8 456 347.1Z" fill="#00ff80"/>
<path d="M355.4 344.2C355.4 344.2 364.7 344.5 367 344C368.2 343.7 368.2 341.5 369.4 341.2C371.6 340.7 377.5 341.0 380.3 341.2C382.4 341.3 384.6 341.8 386.4 342.4C388.1 343.0 389.7 344.0 391.3 344.8C392.9 345.6 394.3 346.6 396 347.1C398.3 347.9 402.7 348.9 405.3 349.4C407.3 349.8 409.6 349.7 411.5 350.2C413.4 350.7 415.2 351.7 417 352.5C418.9 353.4 421.8 354.8 422.7 355.4C423.0 355.6 423.0 356.4 422.7 356.4C420.9 356.6 415.1 356.9 411.7 356.6C408.6 356.3 404.8 355.3 402.5 354.7C400.9 354.2 399.4 353.4 397.9 352.7C396.3 352.0 394.4 351.1 393.1 350.4C392.1 349.8 391.2 349.0 390.1 348.5C388.8 347.9 387.0 347.2 385.4 346.9C383.6 346.5 381.0 346.4 379.2 346.2C377.7 346.0 375.8 346.0 374.6 345.8C373.6 345.6 372.7 344.7 371.8 344.8C370.9 344.9 370.1 345.7 369.4 346.4C368.7 347.1 368.7 348.9 367.6 349.1C365.3 349.7 355.4 349.7 355.4 349.7L355.4 344.2Z" fill="#00ff80"/>
<path d="M355.4 358.2C355.4 358.2 357.3 357.2 358.3 357C360.3 356.6 365.9 356.7 367.6 355.9C368.7 355.4 367.2 352.8 368.3 352.4C369.9 351.8 374.0 352.2 376.9 352.4C380.0 352.6 384.1 353.2 387 353.7C389.4 354.1 392.2 354.7 394 355.4C395.4 355.9 396.6 357.0 397.9 357.8C399.3 358.7 400.8 360.1 402.5 360.9C404.3 361.8 406.6 362.6 408.7 363.2C410.7 363.7 412.8 363.9 414.9 364.2C417.1 364.5 419.9 364.6 421.8 364.8C423.2 364.9 424.6 364.9 426 365.3C427.6 365.8 430.5 365.9 431.4 367.6C432.3 369.4 432.3 374.7 431.4 375.8C430.5 376.9 427.6 374.4 426 374C424.6 373.6 422.5 373.0 421.8 373.3C421.1 373.6 422.5 375.3 421.8 375.6C420.8 376.0 417.6 375.7 415.6 375.6C413.8 375.5 411.5 375.3 410.1 374.9C409.0 374.6 408.2 373.7 407.1 373.3C405.8 372.8 404.0 372.5 402.5 372.1C401.0 371.7 399.5 371.2 397.9 371C396.2 370.8 394.0 370.8 392.4 370.6C391.1 370.4 389.4 370.2 388.5 369.8C387.8 369.5 387.7 368.5 387 368.2C385.9 367.8 382.9 367.6 381.6 367.1C380.7 366.8 378.3 365.5 379.2 365.3C380.1 365.1 384.7 365.6 387 365.9C389.1 366.2 391.1 366.9 393.1 367.1C395.2 367.3 397.6 367.3 399.3 367.1C400.7 366.9 403.2 366.5 403.3 365.7C403.4 364.9 401.4 363.4 400.2 362.5C399.0 361.6 397.7 360.8 396.3 360.5C394.6 360.1 392.2 360.3 390.1 360.1C388.0 359.9 385.6 359.3 383.9 359.2C382.6 359.1 381.3 359.2 380 359.3C378.7 359.5 377.1 359.8 376.1 360.1C375.3 360.3 374.6 361.1 373.8 361.2C371.2 361.6 363.7 362.2 360.6 362.5C358.9 362.6 355.4 362.7 355.4 362.7L355.4 358.2Z" fill="#00ff80"/>
<path d="M409.1 370.4C409.4 370.1 412.1 369.2 413.3 369.1C414.4 369.1 415.4 369.8 416.4 370.1C417.5 370.5 420.0 370.9 419.9 371.2C419.8 371.5 417.0 371.7 415.6 371.7C414.3 371.7 412.8 371.2 411.7 371C410.8 370.8 408.8 370.7 409.1 370.4Z" fill="#00ff00"/>
<path d="M355.4 369.1C355.4 369.1 358.9 369.3 360.6 369.4C363.7 369.6 370.7 370.2 373.8 370.6C375.6 370.8 377.5 371.4 379.2 371.7C380.8 371.9 382.6 371.9 383.9 372.1C385.0 372.3 386.0 372.6 387 372.9C388.5 373.3 391.1 374.0 393.1 374.4C395.1 374.8 397.3 374.7 399.3 375.2C401.5 375.7 404.0 376.9 406.4 377.5C408.8 378.1 412.1 378.7 414 379.1C415.3 379.4 416.6 379.8 417.9 380.2C419.2 380.6 420.5 381.1 421.8 381.4C423.2 381.7 424.6 382.0 426 382.2C427.6 382.5 430.6 381.5 431.4 383.1C432.3 384.9 432.3 391.6 431.4 392.9C430.5 394.2 427.2 391.2 426 390.7C425.4 390.5 424.7 390.3 424.1 390C423.3 389.6 422.1 388.9 421.1 388.4C420.1 387.9 419.0 387.3 417.9 386.8C416.6 386.3 414.9 385.6 413.3 385.2C411.4 384.8 408.7 384.6 406.4 384.1C404.1 383.6 401.5 382.9 399.3 382.2C397.2 381.6 395.2 380.8 393.1 380.2C391.1 379.7 389.1 379.0 387 378.9C382.6 378.7 370.6 379.2 366.8 378.9C365.8 378.8 365.4 377.4 364.5 377.2C362.6 376.8 355.4 376.7 355.4 376.7L355.4 369.1Z" fill="#00ff80"/>
<path d="M381.2 384.6C380.8 384.3 383.4 383.2 384.6 383.1C386.6 382.9 390.9 383.2 393.1 383.4C394.7 383.6 396.4 383.9 397.9 384.5C399.5 385.1 401.0 386.2 402.5 386.8C404.0 387.4 405.6 387.8 407.1 388.4C408.6 389.0 410.6 390.0 411.7 390.7C412.5 391.2 413.6 391.9 414 392.6C414.3 393.2 413.9 394.6 413.9 394.6L411.7 394.6C411.7 394.6 410.5 392.1 409.4 391.4C407.9 390.5 404.7 389.8 402.5 389.1C400.4 388.4 398.1 387.8 396.3 387.2C394.8 386.7 393.2 386.1 391.7 385.7C390.2 385.3 388.6 385.0 387 384.8C385.2 384.6 381.6 384.9 381.2 384.6Z" fill="#00ff80"/>
<path d="M355.4 387.2C355.4 387.2 357.3 388.2 358.3 388.4C359.9 388.6 363.2 388.6 365.2 388.7C366.8 388.8 368.4 389.0 370 389.1C373.6 389.2 383.9 389.1 387 389.5C387.8 389.6 387.8 391.0 388.5 391.4C389.5 392.0 391.5 392.6 393.1 393C394.9 393.5 399.3 394.2 399.3 394.2L402.5 395.3L355.4 395.3L355.4 387.2Z" fill="#00ff80"/>
<path d="M427.2 379.5C427.2 378.6 429.6 376.3 431.4 375.8C433.7 375.1 437.9 375.2 441.2 375.2C444.4 375.2 447.8 374.9 450.9 375.8C454.1 376.7 458.0 379.1 460.6 380.7C462.8 382.1 466.7 385.6 466.7 385.6L466.7 392.9C466.7 392.9 462.5 393.6 460.6 392.9C458.4 392.1 455.9 389.3 453.3 388C450.1 386.4 444.9 384.2 441.2 383.1C438.0 382.1 433.7 381.9 431.4 381.3C429.9 380.9 427.2 380.4 427.2 379.5Z" fill="#00ff80"/>
<path d="M422.3 350 L466.7 350 L466.7 394.7 L422.3 394.7Z" fill="#00ff80"/>
<path d="M411 357C412.9 355.9 420.6 357.0 422.6 356.6C423.2 356.5 423.4 355.2 423 354.7C422.6 354.1 421.2 353.6 420.2 353.1C419.0 352.5 416.6 351.3 415.6 350.8C415.1 350.5 413.4 350.1 414 350C415.3 349.9 421.3 349.5 423.4 350C424.8 350.4 425.3 352.3 426.5 353.1C427.8 353.9 429.5 354.4 431.1 354.7C432.9 355.1 435.2 355.1 437.3 355.4C440.0 355.8 445.1 356.2 447.4 357C449.0 357.5 450.1 359.0 451.3 360C452.4 361.0 453.7 362.1 454.3 363.2C454.9 364.2 454.7 365.8 455.2 366.6C455.7 367.4 456.7 367.7 457.5 368.2C458.5 368.9 460.4 369.9 461.4 370.9C462.3 371.8 462.8 373.1 463.7 374C464.7 374.9 467.3 376.4 467.3 376.4L467.3 383.1C467.3 383.1 463.5 380.5 462.1 379.4C461.0 378.5 460.2 377.2 459.1 376.3C457.9 375.4 456.6 374.6 455.2 374C453.6 373.4 451.1 373.2 449.7 372.4C448.5 371.7 447.9 370.1 446.7 369.4C445.1 368.4 442.5 367.2 440.4 366.6C438.4 366.0 435.8 365.9 434.2 365.5C433.1 365.2 432.2 364.4 431.1 364.3C429.0 364.1 424.5 364.5 421.8 364.3C419.5 364.1 416.7 363.4 414.9 363.2C413.6 363.1 411.6 364.1 411 363.1C410.4 362.1 409.2 358.0 411 357Z" fill="#00ff00"/>
<path d="M454 350C454.6 349.3 457.4 349.5 459.1 349.7C461.0 349.9 463.7 351.2 465.1 351.5C465.8 351.7 467.3 351.5 467.3 351.5L467.3 363.1C467.3 363.1 465.9 362.0 465.1 361.6C464.0 361.0 461.8 360.1 460.5 359.3C459.4 358.6 458.4 357.9 457.5 357C456.6 356.1 455.8 355.0 455.2 353.8C454.6 352.6 453.4 350.7 454 350Z" fill="#00ff00"/>
<path d="M411 374C412.7 372.8 418.5 373.3 421.1 373.3C422.9 373.3 424.8 373.5 426.5 374C428.3 374.5 431.8 375.5 431.9 376.3C432.0 377.1 426.4 378.4 427.3 379C428.2 379.6 434.0 379.9 437.3 380.2C441.0 380.6 446.9 381.2 449.7 381.3C451.2 381.4 452.8 380.8 454.3 381C456.1 381.3 458.7 382.2 460.5 382.9C462.1 383.5 463.7 384.4 465.1 385.2C466.4 386.0 468.7 387.9 468.7 387.9C468.7 387.9 466.4 389.1 465.1 389.5C463.7 389.9 461.1 389.4 460.5 390.3C459.9 391.2 461.4 394.6 461.4 394.6L457.5 394.9C457.5 394.9 455.5 392.8 454.3 392.1C453.0 391.3 451.2 390.7 449.7 390.3C448.2 389.9 446.4 390.0 445.1 389.5C443.9 389.0 443.1 387.8 442 387.2C440.6 386.4 438.5 385.3 436.6 384.8C434.7 384.3 432.4 384.5 430.3 384.1C428.1 383.7 425.3 382.9 423.4 382.5C421.9 382.2 420.3 382.0 418.8 381.8C416.7 381.5 412.3 381.9 411 380.6C409.7 379.3 409.3 375.2 411 374Z" fill="#00ff00"/>
<path d="M411 369.4C411.4 368.8 412.5 368.9 413.3 369C414.1 369.1 414.8 369.9 415.6 370.2C416.6 370.6 418.9 370.8 419.5 371.1C419.8 371.2 419.8 372.0 419.5 372.1C418.9 372.3 416.9 372.4 415.6 372.4C414.2 372.4 411.8 372.9 411 372.4C410.2 371.9 410.6 370.0 411 369.4Z" fill="#00ff00"/>
<path d="M436.9 373.9C437.1 373.6 438.0 373.0 438.7 373C439.7 373.0 442.1 373.4 442.8 373.7C443.1 373.8 442.9 374.6 442.6 374.7C441.7 374.9 438.4 374.8 437.5 374.7C437.2 374.7 436.7 374.2 436.9 373.9Z" fill="#00ff00"/>
<path d="M411 384.1C411.6 383.5 413.6 385.1 414.9 385.6C416.6 386.2 419.2 387.1 421.1 387.9C422.9 388.6 424.6 389.7 426.5 390.3C428.4 390.9 432.7 390.9 432.7 391.4C432.7 391.9 428.1 392.8 426.5 393.4C425.4 393.8 423.4 394.7 423.4 394.7L421.1 394.7C421.1 394.7 418.5 392.5 417.2 391.8C416.0 391.1 414.3 390.8 413.3 390.3C412.5 390.0 411.3 389.9 411 389.1C410.6 388.1 410.4 384.7 411 384.1Z" fill="#00ff00"/>
<path d="M466 315 L576 315 L576 394 L466 394Z" fill="#00ff80"/>
<path d="M495.2 314.4C495.2 314.4 495.7 315.9 496.4 316C499.6 316.4 510.0 316.1 514.7 316.5C518.0 316.8 521.2 318.1 524.4 318.4C527.6 318.6 530.9 318.2 534.1 318C537.6 317.7 542.2 317.1 545.1 316.8C547.1 316.6 549.2 316.2 551.2 316C553.4 315.8 557.2 315.9 558.5 315.6C558.9 315.5 559.1 314.4 559.1 314.4L495.2 314.4Z" fill="#00ff00"/>
<path d="M465.4 317.4C465.4 317.4 469.4 317.3 470.9 317.7C472.3 318.1 473.2 319.4 474.5 319.9C476.3 320.7 479.3 321.9 481.8 322.3C484.9 322.8 491.0 322.6 492.8 322.9C493.2 323.0 493.2 324.0 492.8 324.1C491.6 324.5 486.9 324.6 485.5 325.3C484.5 325.8 483.9 327.5 484.3 328.4C484.7 329.3 486.6 330.1 487.9 330.8C489.5 331.6 492.6 332.4 494 333.3C495.1 334.0 496.2 335.1 496.4 336.3C496.6 337.5 495.0 339.3 495.2 340.6C495.4 341.9 496.5 343.3 497.6 344.2C499.0 345.4 501.9 346.9 503.7 347.9C505.3 348.8 507.4 349.3 508.6 350.3C509.7 351.2 510.9 352.7 511 353.9C511.1 355.1 509.1 356.3 509.2 357.6C509.3 358.9 510.5 360.8 511.6 361.8C512.7 362.8 514.9 362.8 515.9 363.7C516.9 364.6 517.9 366.5 517.7 367.3C517.5 368.1 515.8 368.3 514.7 368.5C513.0 368.8 509.6 369.1 507.4 369.1C505.4 369.1 503.1 369.0 501.3 368.5C499.5 368.0 497.3 366.7 496.4 366.1C496.0 365.9 495.4 365.2 495.8 364.9C496.6 364.3 500.0 363.2 501.3 362.5C502.2 362.0 504.1 361.4 503.7 360.6C503.3 359.8 500.1 358.7 498.9 357.6C497.8 356.6 497.4 355.0 496.4 353.9C495.2 352.5 493.2 350.7 491.6 349.1C490.0 347.5 488.3 345.8 486.7 344.2C485.1 342.6 483.2 340.9 481.8 339.3C480.5 337.8 479.0 336.1 478.2 334.5C477.5 333.0 478.0 330.9 477 329.6C476.0 328.3 473.9 327.3 472.1 326.6C470.2 325.8 465.4 324.7 465.4 324.7L465.4 317.4Z" fill="#00ff00"/>
<path d="M465.4 335.7C465.4 335.7 468.7 337.4 469.7 338.7C470.7 340.0 470.9 342.4 471.5 343.6C471.9 344.5 473.4 345.3 473.3 346C473.2 346.7 471.9 347.7 470.9 347.9C469.6 348.2 465.4 347.9 465.4 347.9L465.4 335.7Z" fill="#00ff00"/>
<path d="M499.2 335.3C499.4 334.3 500.1 331.9 501.3 330.8C502.7 329.6 505.2 328.4 507.4 327.8C509.6 327.2 512.3 327.3 514.7 327.2C517.9 327.1 523.6 327.4 526.8 327.2C529.3 327.0 531.6 326.2 534.1 326C538.2 325.7 545.5 325.5 551.2 325.3C557.1 325.1 565.1 325.0 569.4 324.7C571.9 324.5 576.7 323.3 576.7 323.3L576.7 334.7C576.7 334.7 572.6 335.2 570.6 335.1C568.4 335.0 564.9 333.9 563.3 333.9C562.4 333.9 561.8 335.0 560.9 335.1C557.7 335.4 548.4 335.6 543.9 335.9C540.6 336.1 537.4 336.6 534.1 336.7C530.9 336.8 527.2 336.0 524.4 336.3C521.9 336.6 519.6 338.1 517.1 338.4C514.1 338.8 509.0 338.6 506.2 338.4C504.1 338.2 501.3 337.4 500.1 336.9C499.5 336.7 499.1 335.9 499.2 335.3Z" fill="#00ff00"/>
<path d="M515.3 349.1C515.3 348.1 517.9 346.7 519.5 346.4C521.8 346.0 526.9 346.4 529.3 346.9C531.0 347.2 532.7 348.3 534.1 349.1C535.4 349.8 537.0 350.4 537.8 351.5C538.6 352.6 538.7 354.5 539 355.8C539.3 357.0 540.0 358.4 539.6 359.4C539.2 360.4 537.7 361.1 536.6 361.8C535.5 362.5 533.6 362.6 532.9 363.7C532.2 364.8 532.9 368.0 532.3 368.5C531.7 369.0 530.2 367.5 529.3 366.7C528.4 365.9 527.5 364.8 526.8 363.7C526.1 362.6 525.6 361.2 525 360C524.4 358.8 524.0 357.5 523.2 356.4C522.3 355.2 520.8 353.9 519.5 352.7C518.2 351.5 515.3 350.2 515.3 349.1Z" fill="#00ff00"/>
<path d="M537.8 351.5C538.2 350.4 540.0 349.5 541.4 349.1C543.6 348.5 547.9 348.2 551.2 348.1C557.1 347.9 576.7 347.9 576.7 347.9L576.7 360C576.7 360.0 566.8 360.0 563.3 360.3C560.8 360.5 558.0 361.7 556 361.8C554.4 361.9 552.7 361.8 551.2 361.2C549.6 360.6 547.8 359.2 546.3 358.2C544.9 357.3 543.3 355.6 542.1 355.2C541.1 354.9 539.7 356.4 539 355.8C538.3 355.2 537.4 352.6 537.8 351.5Z" fill="#00ff00"/>
<path d="M520.1 363.7C520.0 363.3 521.8 362.9 522.6 363.1C523.5 363.3 525.5 364.7 525.6 365.1C525.7 365.5 524.0 365.7 523.2 365.5C522.3 365.3 520.2 364.1 520.1 363.7Z" fill="#00ff00"/>
<path d="M525.4 373C525.8 371.9 530.0 371.1 531.7 370.4C533.0 369.8 534.0 368.5 535.4 368.5C537.0 368.5 539.3 370.4 541.4 370.4C544.0 370.4 548.8 368.9 551.2 368.5C552.8 368.2 554.4 368.0 556 367.9C560.2 367.7 576.7 367.1 576.7 367.1L576.7 373.4C576.7 373.4 572.4 373.1 570.6 373.4C568.9 373.7 567.0 374.4 565.8 375.2C564.7 375.9 564.6 378.1 563.3 378.3C561.5 378.6 557.0 377.3 554.8 377.1C553.2 377.0 551.2 376.7 550 377.3C548.8 377.9 548.2 379.5 547.5 380.7C546.8 381.9 546.1 383.1 545.7 384.4C545.2 386.1 545.7 390.1 544.5 391.1C543.3 392.2 539.2 391.2 538.4 390.7C537.6 390.2 539.5 388.8 539.6 388C539.7 387.2 539.6 386.2 539 385.6C538.3 384.9 536.5 384.6 535.4 383.8C534.3 383.0 533.3 381.8 532.3 380.7C531.3 379.6 530.3 378.3 529.3 377.1C528.1 375.8 525.0 374.1 525.4 373Z" fill="#00ff00"/>
<path d="M541.7 380.1C542.0 379.3 543.0 378.1 543.9 377.7C544.8 377.3 546.7 377.4 546.9 378C547.1 378.6 545.9 380.6 545.1 381.3C544.3 382.0 542.7 382.7 542.1 382.5C541.5 382.3 541.4 380.9 541.7 380.1Z" fill="#00ff80"/>
<path d="M555.4 384.4C556.5 383.9 560.6 383.3 563.3 383.1C566.8 382.8 576.7 382.5 576.7 382.5L576.7 386.2C576.7 386.2 566.6 386.3 563.3 386.2C561.1 386.2 558.0 386.1 556.7 385.8C556.1 385.7 554.8 384.6 555.4 384.4Z" fill="#00ff00"/>
<path d="M567 388C567.4 387.4 569.3 386.7 570.6 386.5C572.2 386.2 576.7 386.2 576.7 386.2L576.7 389.8C576.7 389.8 569.8 390.1 568.2 389.8C567.5 389.7 566.6 388.6 567 388Z" fill="#00ff00"/>
<path d="M560.9 392.9C561.8 392.4 564.9 391.9 567 391.7C569.6 391.4 576.7 391.4 576.7 391.4L576.7 394.7L561.5 394.7C561.5 394.7 560.3 393.2 560.9 392.9Z" fill="#00ff00"/>
<path d="M564 381.9C563.3 381.5 564.4 379.9 565.2 379.5C566.1 379.0 568.1 379.1 569.4 378.9C570.6 378.7 571.9 378.2 573.1 378.3C574.3 378.4 576.7 379.5 576.7 379.5L576.7 382.5C576.7 382.5 571.5 382.0 569.4 381.9C567.6 381.8 564.7 382.3 564 381.9Z" fill="#00ff00"/>
<path d="M465.4 352.7C465.4 352.7 471.2 351.9 473.3 352.1C475.0 352.3 476.7 353.0 478.2 353.9C479.8 354.8 481.6 356.3 483 357.6C484.4 358.9 485.3 360.6 486.7 361.8C488.1 363.0 490.2 363.8 491.6 364.9C492.9 366.0 494.8 367.6 495.2 368.5C495.5 369.1 494.6 369.9 494 370C491.6 370.3 484.1 370.5 480.6 370.4C478.1 370.3 474.9 370.0 473.3 369.1C471.9 368.3 471.7 365.9 470.9 364.9C470.3 364.1 469.3 363.4 468.4 363.1C467.5 362.8 465.4 363.1 465.4 363.1L465.4 352.7Z" fill="#00ff00"/>
<path d="M465.4 377.1C465.4 377.1 469.2 377.1 470.9 377.7C472.6 378.3 474.3 379.8 475.7 380.7C476.9 381.5 478.3 382.2 479.4 383.1C480.6 384.1 481.8 386.0 483 386.8C484.1 387.5 485.5 387.6 486.7 388C488.1 388.5 490.0 389.3 491.6 389.8C493.2 390.3 495.6 390.6 496.4 391.1C496.9 391.4 497.0 392.7 496.4 392.9C495.4 393.2 492.1 393.2 490.3 392.9C488.6 392.6 487.0 391.9 485.5 391.1C483.9 390.3 481.8 388.8 480.6 388C479.8 387.4 479.1 386.7 478.2 386.2C476.6 385.4 473.0 383.9 470.9 383.1C469.1 382.4 465.4 381.3 465.4 381.3L465.4 377.1Z" fill="#00ff00"/>
<path d="M480 377.7C480.3 377.1 481.9 376.2 483 376.1C484.7 376.0 488.2 376.4 490.3 377.1C492.3 377.7 495.0 379.3 495.8 380.1C496.3 380.5 495.8 381.8 495.2 381.9C493.9 382.1 490.2 381.7 487.9 381.3C485.6 380.9 482.5 380.1 481.2 379.5C480.5 379.2 479.7 378.3 480 377.7Z" fill="#00ff00"/>
<path d="M465.4 386.8C465.4 386.8 467.7 386.6 468.2 387C468.7 387.4 468.9 388.6 468.4 389C467.9 389.4 465.4 389.2 465.4 389.2L465.4 386.8Z" fill="#00ff00"/>
<path d="M470.9 392.3C472.0 391.8 476.7 391.2 478.2 391.4C479.1 391.5 479.8 392.9 480 393.5C480.2 393.9 479.4 394.7 479.4 394.7L471.5 394.7C471.5 394.7 470.2 392.7 470.9 392.3Z" fill="#00ff00"/>
<path d="M498.9 375.8C499.2 375.2 500.3 374.3 501.3 374C502.7 373.6 505.4 373.3 507.4 373.4C509.6 373.5 512.9 373.8 514.7 374.6C516.3 375.3 517.3 376.9 518.3 378.3C519.3 379.7 520.2 381.5 520.8 383.1C521.4 384.7 522.2 386.9 522 388C521.8 389.0 520.5 389.7 519.5 389.8C517.1 390.0 509.9 389.6 507.4 389.2C506.2 389.0 504.5 388.1 504.3 387.4C504.1 386.7 506.5 386.0 506.2 385C505.9 383.9 503.6 381.9 502.5 380.7C501.5 379.7 500.1 378.5 499.5 377.7C499.1 377.2 498.6 376.4 498.9 375.8Z" fill="#00ff00"/>
<path d="M528.7 388.9C529.2 388.6 531.8 388.4 532.3 388.6C532.8 388.9 532.2 390.1 531.7 390.4C531.2 390.7 529.8 390.6 529.3 390.4C528.8 390.2 528.2 389.2 528.7 388.9Z" fill="#00ff00"/>
<path d="M576 315 L686 315 L686 394 L576 394Z" fill="#00ff80"/>
<path d="M575.4 322.9C575.4 322.9 580.6 320.9 583.3 320.5C587.4 319.9 594.8 319.9 600.3 319.6C605.6 319.3 611.5 319.2 616.2 318.7C620.3 318.2 624.4 316.9 628.3 316.5C631.9 316.1 635.6 316.1 639.3 316C643.1 315.9 649.3 315.9 651.4 315.6C651.9 315.5 652.1 314.4 652.1 314.4L686.7 314.4L686.7 347.9C686.7 347.9 684.3 348.3 683.1 348.1C680.9 347.8 675.9 346.2 673.3 346C671.3 345.8 669.3 346.7 667.3 346.6C663.6 346.5 655.7 345.6 651.4 345.4C648.2 345.2 644.1 345.5 641.7 345.2C640.0 345.0 638.4 344.1 636.8 343.6C635.0 343.1 632.8 342.3 630.8 342C628.4 341.6 625.1 341.4 622.2 341.2C619.2 341.0 615.7 341.0 612.5 340.6C609.1 340.2 604.6 339.3 601.6 338.7C599.1 338.2 596.7 337.3 594.3 336.9C591.9 336.5 589.2 336.6 587 336.3C584.9 336.0 582.8 335.3 580.9 335.1C579.1 334.9 575.4 335.1 575.4 335.1L575.4 322.9Z" fill="#00ff00"/>
<path d="M592.4 330.2C592.4 329.6 596.0 329.1 597.9 329C601.9 328.9 611.7 329.6 616.2 329.4C619.1 329.3 621.8 328.1 624.7 327.8C628.6 327.4 634.8 327.6 639.3 327.2C643.4 326.8 647.4 326.0 651.4 325.3C655.5 324.6 660.0 323.4 663.6 322.9C666.8 322.5 670.1 322.5 673.3 322.3C677.1 322.1 686.7 321.7 686.7 321.7L686.7 339.3C686.7 339.3 680.0 340.6 677 340.6C674.1 340.6 670.7 339.8 668.5 339.3C666.8 338.9 665.3 337.7 663.6 337.5C660.4 337.1 652.2 337.2 649 336.9C647.3 336.7 645.8 335.8 644.1 335.7C640.5 335.4 632.4 335.2 627.1 335.1C622.2 335.0 616.5 335.1 612.5 335.1C609.3 335.1 605.2 335.5 602.8 335.1C601.0 334.8 599.6 333.4 597.9 332.6C596.2 331.8 592.4 330.8 592.4 330.2Z" fill="#00ff80"/>
<path d="M659.4 330.2C659.4 329.7 660.5 329.0 661.2 329C663.5 328.9 670.9 329.1 673.3 329.4C674.2 329.5 675.8 330.2 675.8 330.6C675.8 331.0 674.2 331.7 673.3 331.8C670.9 332.0 663.5 332.1 661.2 331.8C660.4 331.7 659.4 330.7 659.4 330.2Z" fill="#00ff00"/>
<path d="M686.7 326.6C686.7 326.6 684.2 327.2 683.1 327.8C681.9 328.5 680.2 329.8 679.4 330.8C678.7 331.7 678.0 333.2 678.2 333.9C678.4 334.6 679.8 335.3 680.6 335.1C681.4 334.9 682.1 333.3 683.1 332.6C684.1 331.9 686.7 330.8 686.7 330.8L686.7 326.6Z" fill="#00ff00"/>
<path d="M575.4 348.1C575.4 348.1 605.5 347.7 612.5 347.9C614.2 347.9 616.4 348.7 617.4 349.1C618.0 349.4 618.9 349.9 618.8 350.5C618.7 351.1 617.7 352.4 616.8 352.7C614.7 353.4 609.9 354.0 606.4 354.5C601.6 355.1 593.4 356.0 588.2 356.4C583.9 356.7 575.4 357.0 575.4 357L575.4 348.1Z" fill="#00ff00"/>
<path d="M617.4 352.1C619.6 352.2 626.3 353.7 629.5 354.5C632.0 355.1 634.8 356.0 636.8 357C638.6 357.9 640.7 359.6 641.7 360.6C642.3 361.2 642.9 362.7 642.7 363.1C642.5 363.6 641.2 363.6 640.5 363.3C639.7 363.0 638.9 361.9 638.1 361.2C637.1 360.3 635.8 358.9 634.4 358.2C632.6 357.3 629.6 356.4 627.1 355.8C624.1 355.1 617.8 354.3 616.2 353.7C615.6 353.5 616.7 352.1 617.4 352.1Z" fill="#00ff00"/>
<path d="M575.4 366.7C575.4 366.7 586.9 366.6 590.6 366.1C593.1 365.8 595.3 363.9 597.9 363.7C602.8 363.3 614.5 363.8 619.8 363.7C623.0 363.6 626.3 363.2 629.5 363.1C633.1 362.9 638.5 363.2 641.7 362.7C644.3 362.3 646.6 360.8 649 360C651.4 359.3 653.8 358.4 656.3 358.2C661.2 357.9 673.9 358.4 678.2 358.2C679.5 358.1 680.6 357.2 681.9 357C683.3 356.7 686.7 356.6 686.7 356.6L686.7 367.3C686.7 367.3 684.3 368.0 684.3 368.5C684.3 369.0 686.7 370.4 686.7 370.4L686.7 375.8C686.7 375.8 681.6 375.0 679.4 375.8C677.2 376.6 675.1 379.9 673.3 380.7C671.8 381.4 669.9 381.5 668.5 380.7C667.1 379.9 666.0 377.2 664.8 375.8C663.7 374.5 662.6 372.6 661.2 372.2C659.8 371.8 657.9 373.1 656.3 373.4C654.7 373.7 652.6 373.4 651.4 374C650.2 374.6 650.2 376.6 649 377.1C647.8 377.7 645.5 376.9 644.1 377.3C642.7 377.7 641.9 379.4 640.5 379.5C638.7 379.7 635.0 378.7 633.2 378.3C631.9 378.0 630.7 377.0 629.5 377.1C628.3 377.2 626.8 379.5 625.9 379.2C625.0 378.9 625.4 376.0 624.1 375.2C622.5 374.2 618.9 373.5 616.2 373.4C613.2 373.3 609.7 374.3 606.4 374.6C602.8 375.0 598.3 375.5 594.3 375.6C589.1 375.7 575.4 375.2 575.4 375.2L575.4 366.7Z" fill="#00ff00"/>
<path d="M660 368.5C660.4 367.5 662.2 366.3 663.6 365.5C665.0 364.7 667.0 364.0 668.5 363.7C669.9 363.4 671.9 363.1 672.7 363.7C673.5 364.3 674.0 366.3 673.3 367.3C672.6 368.3 669.9 369.0 668.5 369.8C667.2 370.5 666.0 371.9 664.8 372.2C663.6 372.5 662.0 372.2 661.2 371.6C660.4 371.0 659.6 369.5 660 368.5Z" fill="#00ff80"/>
<path d="M624.1 372.2C624.5 371.6 625.9 370.4 627.1 370.4C629.6 370.3 635.6 371.3 639.3 371.6C642.5 371.9 647.0 372.4 649 372.4C649.8 372.4 651.2 371.4 651.4 371.6C651.6 371.8 650.9 373.3 650.2 373.4C648.2 373.7 642.8 373.3 639.3 373.4C636.0 373.5 631.9 373.9 629.5 374C627.9 374.1 625.6 374.3 624.7 374C624.1 373.8 623.7 372.7 624.1 372.2Z" fill="#00ff80"/>
<path d="M575.4 378.3C575.4 378.3 579.6 378.1 580.9 378.5C581.9 378.8 583.3 380.2 583.3 380.7C583.3 381.2 581.8 381.6 580.9 381.7C579.6 381.9 575.4 381.7 575.4 381.7L575.4 378.3Z" fill="#00ff00"/>
<path d="M580.6 387C581.8 386.4 585.6 385.4 588.2 385C591.5 384.5 596.3 384.1 600.3 383.8C604.3 383.5 608.4 383.2 612.5 383.1C617.4 383.0 626.7 382.8 629.5 383.4C630.6 383.6 629.7 385.9 629.3 386.8C628.9 387.7 628.0 388.5 627.1 388.6C624.9 388.8 618.6 388.3 616.2 388C614.9 387.8 613.8 387.0 612.5 386.8C610.9 386.6 608.4 386.5 606.4 386.8C604.4 387.1 602.4 388.5 600.3 388.6C596.0 388.9 584.2 388.9 580.9 388.6C580.4 388.6 580.1 387.2 580.6 387Z" fill="#00ff00"/>
<path d="M575.4 390.4C575.4 390.4 579.1 389.9 580.9 389.8C585.0 389.6 593.8 389.2 600.3 389.2C608.0 389.1 622.4 389.1 627.1 389.5C627.9 389.6 627.5 391.4 628.3 391.7C629.7 392.3 634.3 392.4 635.6 392.9C636.2 393.1 636.2 394.7 636.2 394.7L575.4 394.7L575.4 390.4Z" fill="#00ff00"/>
<path d="M638.1 383.1C638.3 381.9 639.5 380.4 640.5 379.5C641.5 378.6 642.9 377.5 644.1 377.7C645.3 377.9 647.6 379.6 647.8 380.7C648.0 381.8 645.4 383.2 645.4 384.4C645.4 385.6 648.0 387.1 647.8 388C647.6 388.9 645.5 390.0 644.1 389.8C642.7 389.6 640.3 387.9 639.3 386.8C638.4 385.8 637.9 384.3 638.1 383.1Z" fill="#00ff00"/>
<path d="M651.4 383.1C651.7 381.3 653.3 379.7 653.9 378.3C654.4 377.1 654.3 375.3 655.1 374.6C655.9 373.9 658.3 373.0 658.7 374C659.1 375.0 657.9 378.8 657.5 380.7C657.2 382.3 656.7 384.1 656.3 385.6C655.9 387.0 655.8 389.2 655.1 389.8C654.4 390.4 652.6 390.1 652.1 389.2C651.5 388.1 651.1 384.9 651.4 383.1Z" fill="#00ff00"/>
<path d="M661.2 388C661.4 387.0 663.0 385.7 663.6 384.4C664.4 382.8 665.8 379.9 666 378.3C666.2 377.0 664.2 375.0 664.8 374.6C665.4 374.2 668.7 374.8 669.7 375.8C670.7 376.8 671.1 379.1 670.9 380.7C670.7 382.3 669.3 384.1 668.5 385.6C667.7 387.0 667.0 389.0 666 389.8C665.0 390.6 663.2 390.7 662.4 390.4C661.6 390.1 661.0 388.9 661.2 388Z" fill="#00ff00"/>
<path d="M670.9 391.7C671.3 390.6 674.4 388.6 675.8 386.8C677.2 385.0 678.2 382.5 679.4 380.7C680.5 379.0 681.9 376.6 683.1 375.8C684.1 375.1 686.7 375.8 686.7 375.8L686.7 383.1C686.7 383.1 684.2 384.7 683.1 385.6C681.9 386.6 680.4 388.0 679.4 389.2C678.5 390.3 678.0 392.2 677 392.9C676.0 393.6 674.3 393.7 673.3 393.5C672.3 393.3 670.6 392.6 670.9 391.7Z" fill="#00ff00"/>
<path d="M698 313 L768 313 L768 344 L698 344Z" fill="#00ff00"/>
<path d="M698 344 L768 344 L768 363 L698 363Z" fill="#00ff80"/>
<path d="M698 319.2C698.5 318.0 700.2 317.7 701.1 316.9C701.9 316.2 702.4 314.9 703.4 314.5C704.6 314.0 707.3 313.6 708.1 313.9C708.9 314.2 708.5 315.8 708.1 316.5C707.7 317.2 706.5 317.8 705.7 318.4C704.8 319.1 703.5 319.9 702.6 320.7C701.8 321.4 701.1 322.4 700.3 323.1C699.6 323.7 698.4 325.5 698 324.8C697.6 324.1 697.5 320.5 698 319.2Z" fill="#00ff80"/>
<path d="M703 329.6C703.2 329.0 704.8 328.6 705.7 328.1C706.8 327.5 708.3 326.9 709.6 326.2C710.9 325.5 712.3 324.4 713.5 323.8C714.5 323.2 715.7 322.9 716.6 322.3C717.5 321.7 718.5 320.8 718.9 320C719.3 319.2 718.9 318.1 719.3 317.3C719.7 316.4 720.5 315.6 721.2 314.9C722.0 314.1 724.3 312.6 724.3 312.6L732.8 312.6C732.8 312.6 730.2 314.4 729 315.3C727.7 316.3 726.1 317.5 725.1 318.4C724.3 319.1 723.5 319.9 722.8 320.7C722.0 321.6 721.3 322.8 720.5 323.8C719.7 324.8 718.7 325.7 718.1 326.9C717.5 328.1 718.2 330.1 717 330.8C715.7 331.6 712.5 331.5 710.4 331.6C708.3 331.7 705.4 331.9 704.2 331.6C703.4 331.4 702.8 330.2 703 329.6Z" fill="#00ff80"/>
<path d="M718.5 330.8C718.5 330.0 720.2 329.2 721.2 328.5C722.3 327.7 723.8 327.0 725.1 326.2C726.6 325.3 729.0 324.0 730.5 323.1C731.8 322.3 733.1 321.5 734.4 320.7C735.7 319.8 737.1 318.9 738.3 318C739.4 317.2 740.4 316.2 741.4 315.3C742.4 314.4 744.5 312.6 744.5 312.6L756.8 312.6C756.8 312.6 753.7 314.4 752.2 315.3C750.7 316.3 748.9 317.4 747.6 318.4C746.5 319.3 745.5 320.5 744.5 321.5C743.5 322.5 742.4 323.6 741.4 324.6C740.4 325.6 739.3 326.7 738.3 327.7C737.3 328.7 736.3 329.9 735.2 330.8C734.0 331.8 732.6 332.7 731.3 333.5C730.0 334.3 728.6 335.4 727.4 335.8C726.4 336.1 725.3 336.2 724.3 335.8C723.3 335.4 722.2 334.3 721.2 333.5C720.2 332.7 718.5 331.6 718.5 330.8Z" fill="#00ff80"/>
<path d="M752.2 325.5C752.3 325.1 754.3 323.9 755.3 323.1C756.5 322.2 758.0 320.9 759.2 320C760.2 319.2 761.1 318.1 762.3 317.6C763.7 317.0 766.8 315.5 767.7 316.1C768.6 316.8 768.5 320.3 767.7 321.5C766.9 322.7 764.4 322.6 763 323.1C761.7 323.6 760.5 324.2 759.2 324.6C757.8 325.1 755.7 325.7 754.5 325.8C753.7 325.9 752.1 325.9 752.2 325.5Z" fill="#00ff80"/>
<path d="M697.6 338.6C697.6 338.6 700.4 337.4 701.9 337.4C703.9 337.4 707.1 338.5 709.6 338.6C711.9 338.7 714.3 338.1 716.6 337.8C718.9 337.5 722.2 336.8 723.6 337C724.5 337.2 724.6 338.5 725.1 339.3C725.6 340.1 726.1 341.3 726.7 341.7C727.3 342.1 728.3 342.0 729 341.8C730.1 341.5 732.2 341.0 733.6 340.1C735.1 339.1 737.0 336.7 738.3 335.5C739.3 334.6 740.3 333.8 741.4 333.1C742.7 332.2 744.9 330.6 746 330.4C746.8 330.2 747.4 331.6 748.3 331.6C749.3 331.6 750.9 330.6 752.2 330.4C754.0 330.1 756.9 329.7 759.2 329.6C761.8 329.5 766.3 327.5 767.7 330C769.1 332.5 772.5 343.7 767.7 344.7C756.0 347.1 697.6 344.7 697.6 344.7L697.6 338.6Z" fill="#00ff80"/>
<path d="M739 341.3C739.0 340.8 740.5 340.1 741.4 339.7C742.6 339.2 744.5 338.6 746 338.2C747.5 337.8 749.5 337.1 750.7 337C751.5 337.0 752.9 337.3 753.1 337.8C753.4 338.3 752.8 339.6 752.2 340.1C751.4 340.8 749.7 341.6 748.3 342C746.5 342.5 742.9 343.1 741.4 343C740.4 342.9 739.0 341.9 739 341.3Z" fill="#00ff00"/>
<path d="M756.1 342.4C756.4 342.0 758.1 341.0 759.2 340.5C760.5 339.9 762.4 339.0 763.8 338.9C765.1 338.8 767.1 339.4 767.7 339.7C768.1 339.9 768.1 340.7 767.7 340.9C766.8 341.3 764.0 341.6 762.3 342C760.7 342.3 758.6 342.9 757.6 343C757.1 343.0 755.8 342.8 756.1 342.4Z" fill="#00ff00"/>
<path d="M729 351.7C729.0 351.0 728.9 349.5 729.7 349.4C732.5 349.0 743.0 349.6 746 349.4C746.7 349.4 746.9 348.2 747.6 348.2C748.6 348.1 750.6 349.0 752.2 349C755.6 349.0 765.1 347.2 767.7 348.2C769.9 349.1 769.8 354.3 767.7 355.2C765.1 356.3 755.8 355.0 752.2 354.8C750.1 354.7 748.1 353.9 746 354C743.9 354.1 741.9 354.8 739.8 355.2C737.7 355.6 735.4 356.0 733.6 356.4C732.1 356.7 730.4 357.1 729 357.5C727.7 357.9 726.0 358.7 725.1 358.7C724.5 358.7 723.2 358.0 723.6 357.5C724.0 356.9 726.4 355.9 727.4 355.2C728.1 354.7 729.1 353.9 729.4 353.3C729.6 352.8 729.0 352.2 729 351.7Z" fill="#00ff00"/>
<path d="M697.6 344.4C697.6 344.4 699.9 344.2 701.1 344C702.5 343.8 704.3 342.9 705.7 343.2C707.1 343.4 708.1 345.1 709.6 345.5C711.4 346.0 715.2 346.5 716.6 346.3C717.4 346.2 717.3 344.7 718.1 344.4C719.3 344.0 722.4 343.6 723.6 344C724.6 344.3 724.5 345.9 725.1 346.7C725.6 347.5 727.1 348.4 727 348.8C726.9 349.2 725.2 348.7 724.3 348.8C722.6 349.0 719.2 349.6 716.6 349.8C713.9 350.0 710.9 349.9 708.1 349.8C704.9 349.7 697.6 349.4 697.6 349.4L697.6 344.4Z" fill="#00ff00"/>
<path d="M705 363.3C705.0 363.3 709.5 360.8 711.9 360.2C714.6 359.5 718.4 359.2 721.2 359.1C723.8 359.0 728.0 359.4 729 359.8C729.7 360.1 727.8 360.8 727.4 361.4C727.0 362.0 726.7 363.3 726.7 363.3L705 363.3Z" fill="#00ff00"/>
<path d="M753 363.3C753.0 363.3 753.3 362.0 753.8 361.9C756.2 361.6 765.4 361.4 767.7 361.6C768.3 361.7 767.7 363.3 767.7 363.3L753 363.3Z" fill="#00ff00"/>
<path d="M698 350 L768 350 L768 400 L698 400Z" fill="#00ff80"/>
<path d="M729.7 349.6L767.7 349.6C767.7 349.6 768.4 356.7 767.7 357.7C767.1 358.7 765.3 355.7 763.8 355.4C761.2 354.9 755.2 354.8 752.2 354.6C750.1 354.5 748.1 354.2 746 354.3C743.9 354.4 741.9 355.1 739.8 355.4C737.7 355.7 735.6 355.8 733.6 356.2C731.5 356.6 729.1 357.7 727.4 358.1C726.2 358.4 724.4 358.6 723.6 358.5C723.2 358.4 722.4 357.7 722.8 357.4C723.4 356.9 726.2 356.2 727.4 355.4C728.4 354.6 729.3 353.3 729.7 352.3C730.0 351.5 729.7 349.6 729.7 349.6Z" fill="#00ff00"/>
<path d="M697.6 372.1C697.6 372.1 701.2 371.0 702.6 370.1C703.9 369.2 705.3 367.8 705.7 366.6C706.1 365.4 704.4 363.8 705 362.8C705.6 361.8 708.0 361.2 709.6 360.8C712.3 360.2 718.0 359.4 721.2 359.3C723.8 359.2 728.4 359.5 729 360.1C729.6 360.7 726.4 361.9 725.1 362.8C723.8 363.7 722.4 364.7 721.2 365.5C720.2 366.2 718.9 366.8 718.1 367.8C717.3 368.8 716.1 371.0 716.6 371.7C717.1 372.4 719.7 372.3 721.2 372.1C723.3 371.8 726.5 370.7 729 369.7C731.6 368.7 734.1 367.2 736.7 366.3C739.5 365.3 743.4 364.3 746 363.6C748.1 363.0 750.1 362.3 752.2 362C754.5 361.7 757.3 361.8 759.9 361.6C762.5 361.4 766.4 360.2 767.7 360.8C769.0 361.4 768.4 364.1 767.7 365.1C767.1 366.1 765.1 366.2 763.8 366.6C762.5 367.0 761.2 367.0 759.9 367.4C758.5 367.9 756.9 368.8 755.3 369.4C753.2 370.1 749.9 370.9 747.6 371.7C745.5 372.4 743.4 373.2 741.4 374C739.3 374.8 737.3 375.9 735.2 376.7C733.2 377.5 731.1 378.2 729 378.7C726.1 379.4 720.7 380.4 718.1 381C716.5 381.4 715.1 382.3 713.5 382.5C711.4 382.8 708.3 383.1 705.7 382.9C703.1 382.6 697.6 381.0 697.6 381L697.6 372.1Z" fill="#00ff00"/>
<path d="M697.6 388.7C697.6 388.7 703.0 388.8 705.7 388.7C709.0 388.6 713.5 388.2 717.4 387.9C721.3 387.6 726.2 387.4 729 386.8C731.0 386.4 732.9 385.1 734.4 384.1C735.8 383.2 736.8 381.8 738.3 381C740.0 380.1 742.4 379.3 744.5 378.7C746.8 378.1 749.6 377.4 752.2 377.1C754.7 376.8 757.3 376.8 759.9 376.7C762.5 376.6 766.4 374.8 767.7 376.3C769.0 377.9 769.0 384.3 767.7 386C766.4 387.7 762.0 386.2 759.9 386.4C758.4 386.5 756.8 387.0 755.3 387.2C753.0 387.5 748.6 388.1 746 388.3C743.9 388.4 741.8 388.0 739.8 388.3C737.5 388.6 734.7 389.8 732.1 390.3C729.0 390.9 723.3 390.9 721.2 391.8C719.9 392.4 720.8 394.9 719.7 395.7C718.4 396.6 715.6 397.2 713.5 397.4C711.2 397.6 707.5 397.5 705.7 397.2C704.6 397.0 703.7 396.1 702.6 395.7C701.2 395.2 697.6 394.5 697.6 394.5L697.6 388.7Z" fill="#00ff00"/>
<path d="M746.8 400.3C746.8 400.3 747.1 396.8 748.3 395.7C749.5 394.6 752.0 394.5 753.8 393.8C755.7 393.1 757.8 391.9 759.9 391.4C762.2 390.8 766.4 388.8 767.7 390.3C769.0 391.8 767.7 400.3 767.7 400.3L746.8 400.3Z" fill="#00ff00"/>
<path d="M697.6 357C697.6 357.0 698.6 356.8 698.9 357.1C699.2 357.4 699.4 358.4 699.2 358.7C699.0 359.0 697.6 358.9 697.6 358.9L697.6 357Z" fill="#00ff00"/>
<path d="M636 345 L697.9 345 L697.9 395 L636 395Z" fill="#00ff80"/>
<path d="M640.6 344.6 L641 345.6 L667 345.9 L673.2 346.7 L682.5 347.3 L696.4 348.1 L700.3 349.6 L698.7 349.8 L698.7 344.6Z" fill="#00ff00"/>
<path d="M636 357C636.5 355.5 639.0 358.1 640.6 358.2C644.1 358.4 652.5 358.3 656.9 358.3C660.3 358.3 664.8 358.0 667 358.2C668.1 358.3 669.0 359.4 670.1 359.6C671.9 359.9 676.0 360.0 677.8 359.7C679.0 359.5 679.8 358.3 680.9 357.8C682.3 357.2 684.4 356.4 686.3 356.2C689.0 355.9 695.1 355.9 697.2 356.2C697.9 356.3 699.0 357.1 698.7 357.8C698.4 358.5 696.6 359.3 695.6 360.1C694.5 360.9 692.8 362.0 691.8 362.8C690.9 363.5 690.2 364.3 689.4 365.1C688.6 365.9 687.9 367.0 687.1 367.5C686.4 367.9 685.0 367.8 684.8 368.2C684.5 368.6 685.0 369.6 685.6 369.8C686.6 370.1 690.2 369.8 691 370.2C691.6 370.5 690.8 371.8 690.2 372.1C689.0 372.7 685.3 373.1 684 373.7C683.3 374.0 683.2 375.3 682.5 375.6C681.6 376.0 679.4 375.4 678.6 376C677.8 376.6 678.3 378.2 677.8 379.1C677.3 380.0 676.6 381.1 675.5 381.4C673.7 381.8 668.8 382.1 667 381.8C666.1 381.7 664.8 380.4 665 379.8C665.2 379.2 667.9 378.9 668.5 378.3C669.0 377.7 669.0 376.6 668.5 376C668.0 375.4 665.9 374.9 665.4 374.4C665.0 374.0 665.0 373.3 665.4 372.9C665.9 372.4 667.5 371.8 668.5 371.3C669.5 370.8 670.8 370.4 671.6 369.8C672.3 369.2 673.1 368.4 673.2 367.5C673.3 366.6 672.9 365.1 672.4 364.4C671.9 363.7 671.0 363.2 670.1 363.2C669.2 363.2 668.1 364.1 667 364.4C665.8 364.8 664.3 365.0 663.1 365.5C662.0 366.0 660.4 366.8 660 367.5C659.6 368.2 661.0 369.1 660.8 369.8C660.5 370.5 659.4 371.3 658.5 371.7C657.5 372.2 655.8 373.0 654.6 372.9C653.4 372.8 652.7 371.4 651.5 371.3C650.3 371.2 648.8 372.5 647.6 372.5C646.5 372.5 645.6 371.4 644.5 371.3C643.3 371.2 641.5 371.8 640.6 371.7C640.0 371.7 639.7 370.9 639.1 370.9C638.3 370.8 636.2 372.3 636 371.3C635.5 369.0 635.2 359.2 636 357Z" fill="#00ff00"/>
<path d="M636 376C637.7 375.1 644.0 375.8 646.1 376C647.0 376.1 648.4 377.0 648.4 377.5C648.4 378.0 646.9 378.8 646.1 379.1C645.4 379.4 643.7 379.1 643.7 379.5C643.7 379.9 645.3 380.8 646.1 381.4C646.8 381.9 648.4 382.5 648.4 382.9C648.4 383.3 646.9 383.5 646.1 383.7C645.1 384.0 642.5 384.1 642.2 384.5C641.9 384.9 643.8 385.4 644.5 386C645.4 386.8 647.7 388.5 647.6 389.1C647.5 389.8 644.9 390.0 643.7 389.9C642.6 389.8 641.5 388.9 640.6 388.4C639.8 387.9 638.4 387.4 638.3 386.8C638.2 386.2 639.9 385.3 639.9 384.5C639.9 383.7 638.9 382.7 638.3 382.2C637.7 381.7 636.3 382.2 636 381.4C635.6 380.4 634.4 376.8 636 376Z" fill="#00ff00"/>
<path d="M656.1 376.1C656.3 375.9 658.5 375.8 658.8 376C659.1 376.2 658.2 377.5 657.7 377.5C657.2 377.5 655.9 376.4 656.1 376.1Z" fill="#00ff00"/>
<path d="M651.1 381.4C651.7 381.2 656.1 380.6 656.9 381C657.7 381.4 656.5 382.9 656.1 383.7C655.7 384.5 654.7 385.2 654.6 386C654.5 386.8 655.6 387.6 655.7 388.4C655.8 389.2 655.9 390.3 655.4 390.7C654.9 391.1 653.5 391.1 653 390.7C652.5 390.3 652.9 389.0 652.6 388.4C652.3 387.8 651.1 387.8 651.1 387.2C651.1 386.6 652.2 385.3 652.6 384.5C652.9 383.8 653.6 382.7 653.4 382.2C653.1 381.7 650.5 381.6 651.1 381.4Z" fill="#00ff00"/>
<path d="M661.2 389.1C661.2 388.6 661.7 387.6 662.3 387.2C662.9 386.8 664.2 387.2 664.7 386.8C665.2 386.4 664.7 384.9 665.4 384.5C666.1 384.1 668.4 383.8 668.9 384.1C669.4 384.4 668.8 385.7 668.5 386.4C668.2 387.1 667.3 387.8 667 388.4C666.7 389.0 667.2 390.1 666.6 390.3C665.8 390.6 663.2 390.5 662.3 390.3C661.8 390.2 661.2 389.6 661.2 389.1Z" fill="#00ff00"/>
<path d="M670.1 391.5C670.1 390.9 672.3 390.0 673.2 389.1C674.1 388.2 674.7 387.0 675.5 386C676.3 385.0 677.0 383.9 677.8 382.9C678.7 381.8 679.6 380.1 680.9 379.5C682.2 378.9 685.1 378.7 685.6 379.1C686.1 379.6 684.5 381.3 684 382.2C683.5 383.0 683.1 383.8 682.5 384.5C681.9 385.3 680.6 385.9 680.1 386.8C679.6 387.7 679.7 388.9 679.4 389.9C679.1 390.8 679.1 392.2 678.2 392.6C677.2 393.1 674.6 392.8 673.2 392.6C672.1 392.5 670.1 392.1 670.1 391.5Z" fill="#00ff00"/>
<path d="M692.1 375.2C692.5 374.8 695.7 374.3 697.2 373.7C698.6 373.1 700.8 371.8 701 371.3C701.2 370.8 698.9 369.8 698.7 370.6C698.3 372.4 698.8 380.3 698.7 382.2C698.7 382.5 698.2 382.0 697.9 382C697.0 382.1 694.3 382.8 693.3 382.9C692.9 382.9 691.9 382.9 692.1 382.6C692.5 382.0 694.6 380.4 695.6 379.5C696.4 378.8 698.0 378.1 697.9 377.5C697.8 376.9 695.8 376.4 694.8 376C693.9 375.7 691.7 375.6 692.1 375.2Z" fill="#00ff00"/>
<path d="M687.1 392.2C687.1 391.7 689.1 391.1 690.2 390.7C691.8 390.2 695.0 389.4 696.4 389.1C697.2 388.9 698.4 388.2 698.7 388.9C699.1 389.9 698.8 394.0 698.7 395C698.7 395.3 698.1 395.2 697.9 395C697.6 394.8 697.6 394.0 697.2 393.8C696.4 393.5 694.5 393.4 693.3 393.4C692.3 393.4 691.2 394.0 690.2 393.8C689.2 393.6 687.1 392.7 687.1 392.2Z" fill="#00ff00"/>
<path d="M136 394 L246 394 L246 473 L136 473Z" fill="#00ff80"/>
<path d="M145.1 393.4C145.1 393.4 144.6 399.6 145.1 401.3C145.5 402.6 147.1 403.7 148.2 403.7C149.3 403.7 150.8 402.4 151.8 401.3C152.9 400.1 154.3 397.7 154.9 396.4C155.3 395.5 155.2 393.4 155.2 393.4L145.1 393.4Z" fill="#00ff00"/>
<path d="M199.3 393.4C199.3 393.4 202.0 396.1 202.9 397.7C204.0 399.6 206.2 402.6 206 405C205.8 407.4 203.0 409.8 201.7 412.3C200.4 414.9 199.6 418.1 198.1 420.8C196.5 423.6 193.8 426.5 192 429.3C190.2 432.0 188.3 434.8 187.1 437.8C185.9 440.8 185.2 444.2 184.7 447.5C184.2 450.7 184.2 454.0 184.1 457.3C184.0 461.7 184.1 473.7 184.1 473.7L246.7 473.7L246.7 393.4L199.3 393.4Z" fill="#00ff00"/>
<path d="M246.7 404.3C246.7 404.3 242.6 405.0 240.6 405.6C238.4 406.2 235.5 407.0 233.3 408C231.2 409.0 229.2 410.3 227.3 411.6C225.3 413.0 223.0 414.6 221.2 416.5C219.4 418.4 218.1 421.1 216.3 423.2C214.3 425.5 211.4 428.1 209 430.5C206.6 432.9 203.7 435.6 201.7 437.8C199.9 439.7 197.8 441.7 196.8 443.9C195.8 446.1 195.9 449.2 195.9 451.2C195.9 452.9 195.7 454.9 196.8 456.1C198.2 457.6 201.5 459.2 204.1 460.3C207.1 461.6 211.4 462.9 215.1 464C219.0 465.1 223.2 466.1 227.3 467C231.3 467.9 236.2 468.8 239.4 469.2C241.8 469.5 246.7 469.7 246.7 469.7L246.7 404.3Z" fill="#80ff00"/>
<path d="M246.7 415.9C246.7 415.9 243.4 416.5 241.9 417.1C240.3 417.7 238.5 418.5 237 419.6C235.4 420.8 233.5 422.6 232.1 424.4C230.5 426.4 228.8 429.2 227.3 431.7C225.7 434.3 223.8 437.8 222.4 440.2C221.2 442.2 219.1 444.7 218.7 446.3C218.4 447.6 219.2 448.9 220 450C221.0 451.4 223.1 453.3 224.8 454.8C226.8 456.5 229.7 458.9 232.1 460.3C234.4 461.6 237.0 462.8 239.4 463.4C241.8 464.0 246.7 464.0 246.7 464L246.7 415.9Z" fill="#ccff00"/>
<path d="M245.9 436.6C245.6 435.4 245.3 433.9 244.7 433.2C244.2 432.6 243.2 432.2 242.5 432.5C241.6 432.9 240.2 434.3 239.4 435.4C238.4 436.8 237.2 439.0 236.4 440.8C235.6 442.6 234.6 444.5 234.6 446.3C234.6 448.1 235.6 450.6 236.4 451.8C237.0 452.8 238.3 453.3 239.4 453.6C240.6 453.9 242.6 454.1 243.7 453.6C244.8 453.1 245.5 451.8 245.9 450.6C246.5 449.0 247.0 443.9 247 443.9C247.0 443.9 246.3 438.4 245.9 436.6Z" fill="#ffff00"/>
<path d="M135.4 417.7C135.4 417.7 139.1 417.2 140.9 417.1C143.6 416.9 149.6 416.0 151.8 416.5C153.3 416.8 152.8 420.0 154.3 420.2C156.7 420.5 163.4 418.8 166.4 418.3C168.4 418.0 170.7 417.1 172.5 417.1C174.2 417.1 176.5 417.3 177.4 418.3C178.3 419.3 178.1 421.6 178 423.2C177.8 425.6 176.6 429.6 176.2 432.9C175.8 436.1 175.8 440.0 175.5 442.7C175.3 444.8 174.8 447.0 174.3 448.8C173.8 450.4 173.7 452.3 172.5 453.6C171.2 455.0 168.6 456.3 166.4 457.3C163.4 458.7 158.2 461.1 154.3 462.1C150.7 463.0 146.5 463.1 143.3 463.4C140.7 463.6 135.4 463.6 135.4 463.6L135.4 417.7Z" fill="#00ffcc"/>
<path d="M135.4 429.3C135.4 429.3 139.9 429.7 140.9 430.5C141.9 431.3 140.5 433.5 141.5 434.2C142.7 435.0 146.1 435.6 148.2 435.4C150.3 435.2 152.6 433.1 154.3 432.9C155.8 432.7 157.7 433.2 158.5 434.2C159.3 435.2 159.3 437.4 159.1 439C158.9 440.8 158.7 443.5 157.3 445.1C155.9 446.7 152.9 447.7 150.6 448.8C148.3 449.9 145.8 451.0 143.3 451.8C140.8 452.6 135.4 453.6 135.4 453.6L135.4 429.3Z" fill="#00ffff"/>
<path d="M246 394 L356 394 L356 473 L246 473Z" fill="#00ff80"/>
<path d="M245.4 393.4L272.2 393.4C272.2 393.4 279.4 394.1 281.3 395.2C282.9 396.1 283.0 398.4 283.7 400.1C284.5 402.1 285.9 404.8 286.2 407.4C286.5 410.4 285.8 414.7 285.5 418.3C285.2 422.2 284.8 426.4 284.3 430.5C283.8 434.6 283.1 438.6 282.5 442.7C281.9 446.7 281.2 451.1 280.7 454.8C280.3 458.1 279.8 461.5 279.5 464.6C279.2 467.6 279.1 473.7 279.1 473.7L245.4 473.7L245.4 393.4Z" fill="#00ff00"/>
<path d="M245.4 405C245.4 405.0 250.8 405.1 253.3 405.6C255.8 406.1 258.4 406.7 260.6 408C262.8 409.3 265.2 411.2 266.7 413.5C268.2 415.8 269.0 419.2 269.7 422C270.4 424.8 270.9 427.6 270.9 430.5C270.9 433.9 270.1 439.1 269.7 442.7C269.3 445.9 269.2 449.6 268.5 452.4C267.9 455.0 267.0 457.5 265.5 459.7C264.0 461.9 261.6 464.3 259.4 465.8C257.2 467.3 254.4 468.2 252.1 468.8C249.9 469.4 245.4 469.4 245.4 469.4L245.4 405Z" fill="#80ff00"/>
<path d="M245.4 415.9C245.4 415.9 249.2 416.3 250.9 417.1C252.7 418.0 255.1 419.4 256.3 421.4C257.6 423.6 258.5 427.4 258.8 430.5C259.1 434.1 258.5 439.1 258.2 442.7C257.9 445.9 257.8 449.6 257 452.4C256.2 455.0 254.7 457.9 253.3 459.7C252.0 461.3 249.7 462.6 248.4 463.4C247.5 463.9 245.4 464.3 245.4 464.3L245.4 415.9Z" fill="#ccff00"/>
<path d="M328.7 393.4C328.7 393.4 327.7 397.1 328.1 398.9C328.5 400.7 329.9 402.7 331.2 404.3C332.5 405.9 334.4 408.1 336 408.6C337.6 409.1 339.3 407.9 340.9 407.4C342.7 406.8 345.2 405.8 347 405C348.7 404.3 350.3 403.2 351.9 402.5C353.5 401.8 356.7 400.7 356.7 400.7L356.7 397.7C356.7 397.7 351.6 396.9 349.4 396.2C347.3 395.5 343.3 393.4 343.3 393.4L328.7 393.4Z" fill="#00ff00"/>
<path d="M298.3 440.2C298.5 437.6 298.7 434.3 299.5 431.7C300.3 429.1 302.0 426.7 303.2 424.4C304.4 422.2 305.4 419.1 306.8 417.7C308.0 416.5 310.0 415.9 311.7 415.9C313.7 415.9 317.3 417.8 319 417.7C320.3 417.6 321.5 416.3 322.1 415.3C322.7 414.3 321.9 412.3 322.7 411.6C323.5 410.9 325.7 410.3 326.9 411C328.1 411.7 328.9 414.4 330 415.9C331.1 417.4 332.1 419.1 333.6 420.2C335.6 421.7 339.3 424.1 342.1 425C344.8 425.9 348.2 425.9 350.6 425.9C352.7 425.9 356.7 425.0 356.7 425L356.7 465.8C356.7 465.8 351.9 464.8 349.4 464.6C346.4 464.4 342.1 464.5 338.5 464.6C334.2 464.7 328.0 465.3 323.9 465.2C320.6 465.1 317.3 464.8 314.1 464C310.9 463.2 306.8 461.8 304.4 460.3C302.3 459.0 300.5 456.9 299.5 454.8C298.5 452.7 298.5 449.9 298.3 447.5C298.1 445.1 298.1 442.6 298.3 440.2Z" fill="#00ffcc"/>
<path d="M315.4 440.2C315.6 438.6 316.4 436.6 317.8 435.4C319.2 434.2 322.1 433.3 323.9 432.9C325.5 432.5 327.3 432.0 328.7 432.7C330.3 433.5 332.0 436.0 333.6 437.8C335.2 439.7 337.4 442.1 338.5 443.9C339.4 445.4 340.0 447.2 340.3 448.8C340.6 450.4 340.8 452.3 340.3 453.6C339.8 454.9 338.7 456.3 337.3 456.7C335.6 457.2 332.2 457.0 330 456.7C327.9 456.4 325.7 455.9 323.9 454.8C322.1 453.7 320.2 451.6 319 450C317.9 448.5 317.2 446.7 316.6 445.1C316.0 443.5 315.2 441.8 315.4 440.2Z" fill="#00ffff"/>
<path d="M356 394 L466 394 L466 473 L356 473Z" fill="#00ff80"/>
<path d="M364.5 418.3C364.3 416.8 364.9 414.9 365.7 413.5C366.5 412.1 367.9 410.7 369.4 409.8C371.0 408.9 373.4 408.1 375.5 408C377.8 407.9 381.6 408.3 383.4 409.2C385.0 410.0 385.8 411.8 386.4 413.5C387.0 415.2 387.3 417.8 387 419.6C386.7 421.4 386.3 423.8 384.6 424.4C382.1 425.3 374.7 425.3 371.8 425C370.0 424.8 368.2 423.7 367 422.6C365.8 421.5 364.7 419.8 364.5 418.3Z" fill="#00ff00"/>
<path d="M419.9 396.4C420.1 395.6 420.9 394.7 421.7 394.6C422.8 394.5 425.4 395.4 426.6 395.8C427.4 396.1 428.1 397.1 429 397C430.2 396.9 432.2 395.5 433.9 395.2C435.9 394.8 439.7 394.5 441.2 394.6C441.9 394.6 443.2 395.3 443 395.8C442.8 396.3 441.1 397.3 440 397.7C438.5 398.2 435.9 398.3 433.9 398.9C431.9 399.5 429.6 401.1 427.8 401.5C426.2 401.9 424.1 401.8 422.9 401.5C421.9 401.2 421.0 400.4 420.5 399.5C420.0 398.6 419.7 397.2 419.9 396.4Z" fill="#00ff00"/>
<path d="M398 408.6C398.6 407.5 399.8 406.5 401 406.2C402.5 405.8 405.1 405.8 407.1 406.2C409.3 406.7 411.8 408.7 414.4 409.2C417.2 409.8 421.3 410.3 424.1 409.8C426.8 409.3 429.2 407.0 431.4 406.2C433.3 405.5 436.2 404.8 437.5 405.2C438.7 405.6 439.1 407.3 439.4 408.6C439.8 410.2 440.3 412.9 440 414.7C439.7 416.5 438.4 418.0 437.5 419.6C436.5 421.4 435.3 423.9 433.9 425.6C432.5 427.3 430.8 428.7 429 429.9C427.2 431.1 424.8 431.7 422.9 432.9C420.9 434.1 419.2 436.6 416.8 437.2C413.8 438.0 407.7 438.3 404.7 437.6C402.2 437.0 400.1 434.7 398.6 432.9C397.1 431.2 396.1 428.9 395.5 426.9C394.9 424.9 395.0 422.8 395.2 420.8C395.4 418.6 396.3 415.5 396.8 413.5C397.2 411.9 397.3 409.8 398 408.6Z" fill="#00ffcc"/>
<path d="M404.7 418.9C404.7 417.9 406.1 417.2 407.1 416.9C408.1 416.6 409.6 416.8 410.8 417.1C412.0 417.4 413.1 418.7 414.4 418.9C416.0 419.1 418.7 418.4 420.5 418.3C422.0 418.2 424.7 417.8 425.1 418.3C425.5 418.8 423.9 420.6 422.9 421.4C421.7 422.4 419.9 423.9 418.1 424.4C416.1 424.9 412.6 425.0 410.8 424.7C409.4 424.5 408.1 423.6 407.1 422.6C406.1 421.6 404.7 419.8 404.7 418.9Z" fill="#00ffff"/>
<path d="M355.4 428.1C355.4 428.1 357.6 429.5 358.4 430.5C359.5 431.8 360.9 434.2 362.1 436C363.3 437.8 365.2 440.1 365.7 441.5C366.0 442.5 366.1 444.2 365.1 444.5C363.4 445.1 355.4 444.9 355.4 444.9L355.4 428.1Z" fill="#00ffcc"/>
<path d="M355.4 450C355.4 450.0 357.3 452.4 358.4 453.6C359.5 454.8 361.7 456.2 362.1 457.3C362.5 458.3 361.6 459.5 360.9 460.3C360.1 461.1 358.1 462.0 357.2 462.4C356.6 462.7 355.4 462.8 355.4 462.8L355.4 450Z" fill="#00ffcc"/>
<path d="M416.2 452.4C416.2 451.4 417.2 450.1 418.1 449.4C419.0 448.7 420.5 448.0 421.7 448.1C422.9 448.2 424.5 449.1 425.4 450C426.3 450.9 426.6 452.6 427.2 453.6C427.7 454.5 428.9 455.4 429 456.1C429.1 456.8 428.5 457.7 427.8 457.9C426.6 458.2 423.3 458.3 421.7 457.9C420.3 457.5 419.0 456.3 418.1 455.4C417.3 454.6 416.2 453.4 416.2 452.4Z" fill="#00ffcc"/>
<path d="M466.7 425.9C466.7 425.9 464.2 426.1 463.1 426.6C461.5 427.4 459.0 429.1 457 430.5C455.0 432.0 452.6 433.8 450.9 435.4C449.4 436.9 447.7 438.6 446.7 440.2C445.8 441.7 445.2 443.4 445.1 445.1C444.9 448.0 445.1 453.7 445.4 457.3C445.6 460.6 446.4 464.3 446.7 467C447.0 469.2 447.3 473.7 447.3 473.7L466.7 473.7L466.7 425.9Z" fill="#00ff00"/>
<path d="M466.7 444.9C466.7 444.9 463.4 445.5 461.9 446.3C460.4 447.2 458.7 448.5 457.6 450C456.5 451.5 455.3 453.7 455.2 455.4C455.1 457.1 455.9 459.0 457 460.3C458.1 461.6 460.3 462.7 461.9 463.4C463.4 464.0 466.7 464.3 466.7 464.3L466.7 444.9Z" fill="#80ff00"/>
<path d="M466 394 L576 394 L576 473 L466 473Z" fill="#00ff00"/>
<path d="M465.4 393.4L513.5 393.4C513.5 393.4 513.5 394.9 514.1 395.2C515.1 395.7 518.8 395.7 519.5 396.4C520.2 397.1 519.3 399.0 518.3 399.5C516.9 400.2 513.0 399.9 511 400.7C509.1 401.4 507.7 403.3 506.2 404.3C504.8 405.2 502.6 405.5 501.9 406.8C501.2 408.1 501.8 410.5 501.9 412.3C502.0 414.7 503.2 419.8 502.5 421.4C501.8 422.9 499.2 421.9 497.6 421.7C495.6 421.4 492.5 420.4 490.3 419.6C488.3 418.9 486.3 417.1 484.3 417.1C482.3 417.1 480.3 418.9 478.2 419.6C476.0 420.3 473.0 420.5 470.9 421.4C468.9 422.3 465.4 425.0 465.4 425L465.4 393.4Z" fill="#00ff80"/>
<path d="M520.8 393.4C520.8 393.4 521.4 394.8 522 395.2C522.8 395.8 524.6 396.5 525.6 397C526.4 397.4 527.3 398.6 528.1 398.3C528.9 398.1 529.3 395.8 530.5 395.5C531.7 395.2 534.0 396.8 535.4 396.4C536.8 396.0 539.0 393.4 539 393.4L520.8 393.4Z" fill="#00ff80"/>
<path d="M546.3 393.4C546.3 393.4 548.6 395.4 550 395.8C551.6 396.2 554.5 396.2 556 395.8C557.3 395.5 559.1 393.4 559.1 393.4L546.3 393.4Z" fill="#00ff80"/>
<path d="M465.4 444.5C465.4 444.5 469.9 444.2 472.1 444.5C474.6 444.8 478.3 445.3 480.6 446.3C482.7 447.2 484.9 449.1 486.1 450.6C487.2 451.9 488.0 453.8 487.9 455.4C487.8 457.0 486.7 458.9 485.5 460.3C484.3 461.7 482.5 463.3 480.6 464C478.2 464.9 473.4 465.6 470.9 465.8C469.1 465.9 465.4 465.2 465.4 465.2L465.4 444.5Z" fill="#80ff00"/>
<path d="M576.7 408C576.7 408.0 573.4 409.0 571.9 409.8C570.1 410.8 567.5 412.5 565.8 414.1C564.1 415.7 562.6 417.5 561.5 419.6C560.4 421.7 559.3 424.7 559.1 426.9C558.9 428.9 559.6 431.0 560.3 432.9C561.0 434.9 561.9 437.2 563.3 439C564.8 441.0 567.6 443.6 569.4 445.1C570.9 446.3 573.1 447.5 574.3 448.1C575.0 448.5 576.7 448.8 576.7 448.8L576.7 408Z" fill="#80ff00"/>
<path d="M510 440.8C510.1 439.6 511.1 438.4 512.2 437.8C513.4 437.1 515.4 436.6 517.1 436.8C518.9 437.0 521.4 438.0 523.2 439C525.0 440.0 526.7 441.3 528.1 442.7C529.5 444.1 531.1 445.9 531.7 447.5C532.3 449.0 532.5 451.3 531.7 452.4C530.9 453.5 528.5 453.7 526.8 453.9C524.6 454.1 520.3 454.4 518.3 453.6C516.6 453.0 515.8 450.8 514.7 449.4C513.6 448.0 512.4 446.5 511.6 445.1C510.9 443.8 509.9 442.0 510 440.8Z" fill="#00ff80"/>
<path d="M546.3 473.7C546.3 473.7 545.9 464.8 546.3 462.1C546.6 460.3 547.5 458.4 548.7 457.3C549.9 456.2 551.9 455.5 553.6 455.4C556.0 455.2 560.5 456.0 563.3 456.3C565.7 456.6 568.4 456.6 570.6 457.3C572.8 457.9 576.7 460.3 576.7 460.3L576.7 473.7L546.3 473.7Z" fill="#00ff80"/>
<path d="M576 394 L686 394 L686 473 L576 473Z" fill="#00ff00"/>
<path d="M638.1 393.4C638.1 393.4 640.3 395.4 641.7 395.8C643.5 396.3 646.6 396.1 649 396.4C651.8 396.7 656.3 396.9 658.7 397.7C660.6 398.3 662.3 399.8 663.6 401.3C665.0 402.9 666.4 405.2 667.3 407.4C668.3 409.8 668.9 413.1 669.7 415.9C670.5 418.9 671.3 422.4 672.1 425.6C672.9 429.1 673.8 433.2 674.6 436.6C675.4 439.8 676.1 443.1 677 446.3C678.0 449.8 679.4 454.1 680.6 457.3C681.7 460.2 683.3 463.8 684.3 465.8C684.9 467.1 686.7 469.4 686.7 469.4L686.7 393.4L638.1 393.4Z" fill="#00ff80"/>
<path d="M575.4 408C575.4 408.0 579.8 405.8 582.1 405C585.2 404.0 590.2 402.7 594.3 401.9C598.3 401.1 602.3 400.2 606.4 400.1C610.5 400.0 615.1 400.5 618.6 401.3C621.6 402.0 624.5 403.4 627.1 405C629.7 406.6 632.2 408.8 634.4 411C636.8 413.4 639.8 416.8 641.7 419.6C643.5 422.2 645.0 425.3 646 428.1C647.0 430.8 647.8 433.7 647.8 436.6C647.8 439.6 647.2 443.3 646 446.3C644.8 449.3 642.6 452.5 640.5 454.8C638.4 457.0 635.8 458.9 633.2 460.3C630.6 461.7 627.1 463.3 624.7 463.4C622.5 463.5 620.8 461.1 618.6 460.7C615.5 460.2 609.5 460.1 606.4 460.3C604.3 460.5 602.3 461.5 600.3 462.1C597.9 462.8 593.8 464.6 591.8 464.3C590.0 464.0 589.5 461.6 588.2 460.3C586.6 458.7 584.2 456.5 582.1 454.8C580.0 453.1 575.4 450.0 575.4 450L575.4 408Z" fill="#80ff00"/>
<path d="M575.4 422.6C575.4 422.6 579.0 418.5 580.9 417.1C582.7 415.8 584.8 414.7 587 414.1C589.2 413.5 592.1 413.2 594.3 413.5C596.4 413.8 598.5 414.7 600.3 415.9C602.1 417.1 603.8 419.0 605.2 420.8C606.6 422.6 607.5 425.6 608.9 426.9C610.2 428.1 612.1 428.1 613.7 428.7C615.4 429.3 618.2 429.2 619.2 430.5C620.2 431.8 620.3 434.6 619.8 436.6C619.3 438.6 618.2 441.4 616.2 442.7C614.0 444.2 609.0 444.6 606.4 445.7C604.2 446.6 601.9 448.1 600.3 449.4C598.9 450.6 598.2 452.9 596.7 453.6C595.2 454.3 592.8 454.4 591.2 453.6C589.6 452.8 588.2 450.6 587 448.8C585.5 446.6 583.7 443.1 582.1 440.2C580.5 437.4 578.3 433.5 577.2 431.7C576.7 430.8 575.4 429.3 575.4 429.3L575.4 422.6Z" fill="#ccff00"/>
<path d="M686 394 L771.2 394 L771.2 473 L686 473Z" fill="#00ff80"/>
<path d="M698.2 393.4C698.2 393.4 700.4 395.4 701.8 395.8C703.8 396.4 707.7 396.7 710.3 397C712.7 397.2 716.0 397.7 717.6 397.4C718.7 397.2 719.6 395.9 720.1 395.2C720.5 394.7 720.7 393.4 720.7 393.4L698.2 393.4Z" fill="#00ff00"/>
<path d="M749.3 393.4C749.3 393.4 747.6 396.1 747.4 397.7C747.2 399.4 747.4 401.8 748.1 403.7C748.8 405.6 749.9 408.3 751.7 409.2C753.5 410.1 757.0 409.5 759 409.2C760.7 408.9 762.2 407.9 763.9 407.4C765.7 406.8 769.2 407.5 770 405.6C771.0 403.3 770.0 393.4 770 393.4L749.3 393.4Z" fill="#00ff00"/>
<path d="M695.1 402.5C695.1 401.2 696.6 400.2 697.6 399.5C698.6 398.8 699.9 398.2 701.2 398.3C702.9 398.5 705.6 400.0 707.9 400.7C710.4 401.5 713.5 402.4 716.4 403.1C719.5 403.8 723.4 404.5 726.2 405C728.6 405.4 731.9 405.3 733.5 406.2C734.9 407.0 735.9 408.8 735.9 410.4C735.9 412.0 734.0 414.2 733.5 415.9C733.0 417.5 733.7 419.4 732.8 420.8C731.8 422.4 729.3 424.1 727.4 425.6C725.3 427.2 722.5 429.2 720.1 430.5C717.8 431.8 715.0 433.0 712.8 433.5C710.8 433.9 708.0 434.0 706.7 433.5C705.6 433.1 704.9 431.7 704.9 430.5C704.9 428.8 706.4 425.4 706.7 423.2C707.0 421.2 707.5 418.9 706.7 417.1C705.9 415.3 703.3 413.9 701.8 412.3C700.3 410.7 698.7 409.0 697.6 407.4C696.6 405.9 695.1 403.8 695.1 402.5Z" fill="#00ffcc"/>
<path d="M733.5 424.4C734.4 422.9 736.6 423.0 738.3 422.6C740.9 421.9 745.8 420.9 749.3 420.2C752.5 419.5 755.8 418.9 759 418.3C762.5 417.7 769.2 412.9 770 416.5C771.8 424.6 771.4 459.0 770 467C769.5 469.9 764.4 464.6 761.4 464.6C758.4 464.6 754.5 466.3 751.7 467C749.3 467.6 746.8 468.7 744.4 468.8C742.0 468.9 738.8 468.5 737.1 467.6C735.6 466.8 734.6 465.0 734.1 463.4C733.4 461.3 733.6 457.4 732.8 454.8C732.0 452.2 729.7 449.9 729.2 447.5C728.7 445.1 729.3 442.6 729.8 440.2C730.3 437.8 731.6 435.4 732.2 432.9C732.8 430.3 732.5 426.1 733.5 424.4Z" fill="#00ffcc"/>
<path d="M770 429.9C769.7 428.3 766.6 429.8 765.1 430.5C763.5 431.2 761.6 432.8 760.2 434.2C758.6 435.8 756.6 438.0 755.4 440.2C754.2 442.4 753.9 445.3 752.9 447.5C751.9 449.6 749.8 452.0 749.3 453.6C748.9 454.8 749.4 456.2 749.9 457.3C750.4 458.4 751.1 459.8 752.3 460.3C753.6 460.8 756.0 460.8 757.8 460.3C759.7 459.8 761.9 458.2 763.9 457.3C765.9 456.4 769.5 456.9 770 454.8C771.0 450.2 770.8 433.9 770 429.9Z" fill="#00ffff"/>
<clipPath id="k0"><rect x="684.1" y="313.0" width="15.5" height="33.30000000000001"/></clipPath><g clip-path="url(#k0)">
<path d="M650 313 L720 313 L720 363 L650 363Z" fill="#00ff00"/>
<path d="M650 325C650.4 323.7 652.6 324.4 653.9 324.2C656.1 323.9 660.1 323.4 663.2 323.1C666.4 322.8 669.9 322.4 673.2 322.3C677.5 322.1 686.5 321.6 688.7 322.1C690.0 322.4 687.3 324.4 686.4 325.4C685.4 326.5 683.7 327.6 682.5 328.5C681.5 329.3 680.2 330.0 679.4 330.8C678.7 331.6 677.9 332.9 677.9 333.5C677.9 334.1 678.8 334.6 679.4 334.7C680.2 334.8 681.6 334.8 682.5 334.3C683.5 333.7 684.5 332.2 685.6 331.2C686.9 330.0 688.9 328.2 690.3 326.9C691.6 325.7 692.8 324.3 694.1 323.1C695.4 321.9 696.7 320.8 698 319.6C699.5 318.1 701.7 315.1 703.4 314.2C704.8 313.4 707.4 313.5 708.1 313.9C708.8 314.3 708.2 315.8 707.7 316.5C707.1 317.4 705.3 318.2 704.2 319.2C703.0 320.3 701.5 321.7 700.3 323.1C699.0 324.5 697.9 326.3 696.5 327.7C695.1 329.1 693.1 330.6 691.8 331.6C690.8 332.4 689.5 332.9 688.7 333.9C687.8 334.9 687.2 336.7 686.4 337.8C685.7 338.8 685.2 340.2 684.1 340.5C682.4 341.0 678.1 341.2 676.3 340.9C675.1 340.7 674.2 339.1 673.2 338.9C672.2 338.7 671.1 339.8 670.1 339.7C669.1 339.6 668.1 338.4 667 338.2C665.3 337.9 662.4 337.8 660.1 337.6C657.3 337.3 651.7 338.7 650 336.6C648.3 334.5 649.4 327.1 650 325Z" fill="#00ff80"/>
<path d="M690.3 340.1C690.2 339.4 692.7 338.5 694.1 338.2C696.2 337.7 700.8 337.2 702.7 337.2C703.8 337.2 704.7 338.0 705.8 338.2C707.1 338.4 708.9 338.6 710.4 338.6C712.5 338.6 716.4 338.3 718.1 338.2C718.9 338.1 720.5 337.9 720.5 337.9L720.5 344C720.5 344.0 718.9 344.2 718.1 344.4C717.3 344.6 716.6 345.4 715.8 345.5C714.6 345.7 712.5 345.9 711.2 345.5C710.0 345.1 709.0 343.6 708.1 343.2C707.4 342.9 706.6 342.7 705.8 342.8C704.5 343.0 701.7 344.1 700.3 344.4C699.3 344.6 698.1 345.0 697.2 344.7C696.3 344.4 695.8 343.0 694.9 342.4C693.8 341.6 690.4 340.8 690.3 340.1Z" fill="#00ff80"/>
<path d="M649.6 345.9C649.6 345.9 663.1 346.7 667 346.7C669.1 346.7 671.7 346.0 673.2 345.9C674.2 345.9 675.3 346.1 676.3 346.3C678.0 346.6 680.9 347.6 683.3 347.8C686.7 348.1 693.8 347.9 696.5 348.2C697.7 348.3 698.4 349.7 699.6 349.8C702.8 350.1 712.3 350.2 715.8 350C717.4 349.9 720.5 348.6 720.5 348.6L720.5 359.5L649.6 359.5L649.6 345.9Z" fill="#00ff80"/>
<path d="M703 329.6C703.5 328.8 705.9 328.1 707.3 327.3C708.6 326.5 710.0 325.4 711.2 324.6C712.2 323.9 713.2 323.2 714.3 322.7C715.4 322.2 717.1 322.3 718.1 321.5C719.1 320.6 720.5 317.6 720.5 317.6L720.5 331.6C720.5 331.6 714.6 331.5 711.9 331.6C709.3 331.7 705.7 332.3 704.2 332C703.3 331.8 702.5 330.3 703 329.6Z" fill="#00ff80"/>
</g>
<path d="M341.6 234.7C341.1 234.3 345.2 235.2 347 235.3C348.8 235.4 351.1 234.8 352.4 235.3C353.6 235.7 354.1 237.2 354.7 238.2C355.3 239.2 356.3 240.2 356.3 241.3C356.3 242.4 355.4 244.9 354.7 244.8C354.0 244.7 353.2 241.8 352.4 240.6C351.7 239.5 351.2 238.1 350.1 237.5C348.3 236.5 342.1 235.1 341.6 234.7Z" fill="#00ff00"/>
</g>
<g fill="#000"><rect x="147" y="469" width="1" height="4"/><rect x="147" y="157" width="1" height="5"/><rect x="159" y="469" width="1" height="4"/><rect x="159" y="157" width="1" height="5"/><rect x="172" y="469" width="1" height="4"/><rect x="172" y="157" width="1" height="5"/><rect x="185" y="469" width="1" height="4"/><rect x="185" y="157" width="1" height="5"/><rect x="197" y="463" width="2" height="10"/><rect x="197" y="157" width="2" height="10"/><rect x="210" y="469" width="1" height="4"/><rect x="210" y="157" width="1" height="5"/><rect x="223" y="469" width="1" height="4"/><rect x="223" y="157" width="1" height="5"/><rect x="236" y="469" width="1" height="4"/><rect x="236" y="157" width="1" height="5"/><rect x="248" y="469" width="1" height="4"/><rect x="248" y="157" width="1" height="5"/><rect x="260" y="463" width="2" height="10"/><rect x="260" y="157" width="2" height="10"/><rect x="274" y="469" width="1" height="4"/><rect x="274" y="157" width="1" height="5"/><rect x="287" y="469" width="1" height="4"/><rect x="287" y="157" width="1" height="5"/><rect x="299" y="469" width="1" height="4"/><rect x="299" y="157" width="1" height="5"/><rect x="312" y="469" width="1" height="4"/><rect x="312" y="157" width="1" height="5"/><rect x="324" y="463" width="2" height="10"/><rect x="324" y="157" width="2" height="10"/><rect x="337" y="469" width="1" height="4"/><rect x="337" y="157" width="1" height="5"/><rect x="350" y="469" width="1" height="4"/><rect x="350" y="157" width="1" height="5"/><rect x="363" y="469" width="1" height="4"/><rect x="363" y="157" width="1" height="5"/><rect x="376" y="469" width="1" height="4"/><rect x="376" y="157" width="1" height="5"/><rect x="387" y="463" width="2" height="10"/><rect x="387" y="157" width="2" height="10"/><rect x="401" y="469" width="1" height="4"/><rect x="401" y="157" width="1" height="5"/><rect x="414" y="469" width="1" height="4"/><rect x="414" y="157" width="1" height="5"/><rect x="426" y="469" width="1" height="4"/><rect x="426" y="157" width="1" height="5"/><rect x="439" y="469" width="1" height="4"/><rect x="439" y="157" width="1" height="5"/><rect x="451" y="463" width="2" height="10"/><rect x="451" y="157" width="2" height="10"/><rect x="465" y="469" width="1" height="4"/><rect x="465" y="157" width="1" height="5"/><rect x="477" y="469" width="1" height="4"/><rect x="477" y="157" width="1" height="5"/><rect x="490" y="469" width="1" height="4"/><rect x="490" y="157" width="1" height="5"/><rect x="503" y="469" width="1" height="4"/><rect x="503" y="157" width="1" height="5"/><rect x="515" y="463" width="2" height="10"/><rect x="515" y="157" width="2" height="10"/><rect x="528" y="469" width="1" height="4"/><rect x="528" y="157" width="1" height="5"/><rect x="541" y="469" width="1" height="4"/><rect x="541" y="157" width="1" height="5"/><rect x="554" y="469" width="1" height="4"/><rect x="554" y="157" width="1" height="5"/><rect x="566" y="469" width="1" height="4"/><rect x="566" y="157" width="1" height="5"/><rect x="578" y="463" width="2" height="10"/><rect x="578" y="157" width="2" height="10"/><rect x="592" y="469" width="1" height="4"/><rect x="592" y="157" width="1" height="5"/><rect x="605" y="469" width="1" height="4"/><rect x="605" y="157" width="1" height="5"/><rect x="617" y="469" width="1" height="4"/><rect x="617" y="157" width="1" height="5"/><rect x="630" y="469" width="1" height="4"/><rect x="630" y="157" width="1" height="5"/><rect x="642" y="463" width="2" height="10"/><rect x="642" y="157" width="2" height="10"/><rect x="655" y="469" width="1" height="4"/><rect x="655" y="157" width="1" height="5"/><rect x="668" y="469" width="1" height="4"/><rect x="668" y="157" width="1" height="5"/><rect x="681" y="469" width="1" height="4"/><rect x="681" y="157" width="1" height="5"/><rect x="694" y="469" width="1" height="4"/><rect x="694" y="157" width="1" height="5"/><rect x="705" y="463" width="2" height="10"/><rect x="705" y="157" width="2" height="10"/><rect x="719" y="469" width="1" height="4"/><rect x="719" y="157" width="1" height="5"/><rect x="732" y="469" width="1" height="4"/><rect x="732" y="157" width="1" height="5"/><rect x="744" y="469" width="1" height="4"/><rect x="744" y="157" width="1" height="5"/><rect x="757" y="469" width="1" height="4"/><rect x="757" y="157" width="1" height="5"/><rect x="136" y="454" width="5" height="1"/><rect x="763" y="454" width="5" height="1"/><rect x="136" y="434" width="5" height="1"/><rect x="763" y="434" width="5" height="1"/><rect x="136" y="414" width="5" height="1"/><rect x="763" y="414" width="5" height="1"/><rect x="136" y="393" width="9" height="2"/><rect x="759" y="393" width="9" height="2"/><rect x="136" y="375" width="5" height="1"/><rect x="763" y="375" width="5" height="1"/><rect x="136" y="355" width="5" height="1"/><rect x="763" y="355" width="5" height="1"/><rect x="136" y="335" width="5" height="1"/><rect x="763" y="335" width="5" height="1"/><rect x="136" y="314" width="9" height="2"/><rect x="759" y="314" width="9" height="2"/><rect x="136" y="295" width="5" height="1"/><rect x="763" y="295" width="5" height="1"/><rect x="136" y="275" width="5" height="1"/><rect x="763" y="275" width="5" height="1"/><rect x="136" y="255" width="5" height="1"/><rect x="763" y="255" width="5" height="1"/><rect x="136" y="235" width="9" height="2"/><rect x="759" y="235" width="9" height="2"/><rect x="136" y="216" width="5" height="1"/><rect x="763" y="216" width="5" height="1"/><rect x="136" y="196" width="5" height="1"/><rect x="763" y="196" width="5" height="1"/><rect x="136" y="176" width="5" height="1"/><rect x="763" y="176" width="5" height="1"/></g>
<rect x="136.0" y="157.0" width="632.0" height="316.0" fill="none" stroke="#000" stroke-width="2"/>
<rect x="784.0" y="247.30" width="18.0" height="11.30" fill="#ff2626" stroke="#000" stroke-width="2"/>
<rect x="784.0" y="258.61" width="18.0" height="11.30" fill="#ff1400" stroke="#000" stroke-width="2"/>
<rect x="784.0" y="269.91" width="18.0" height="11.30" fill="#ff5500" stroke="#000" stroke-width="2"/>
<rect x="784.0" y="281.22" width="18.0" height="11.30" fill="#ff8000" stroke="#000" stroke-width="2"/>
<rect x="784.0" y="292.52" width="18.0" height="11.30" fill="#ffaa00" stroke="#000" stroke-width="2"/>
<rect x="784.0" y="303.82" width="18.0" height="11.30" fill="#ffd500" stroke="#000" stroke-width="2"/>
<rect x="784.0" y="315.13" width="18.0" height="11.30" fill="#ffff00" stroke="#000" stroke-width="2"/>
<rect x="784.0" y="326.44" width="18.0" height="11.30" fill="#ccff00" stroke="#000" stroke-width="2"/>
<rect x="784.0" y="337.74" width="18.0" height="11.30" fill="#80ff00" stroke="#000" stroke-width="2"/>
<rect x="784.0" y="349.04" width="18.0" height="11.30" fill="#00ff00" stroke="#000" stroke-width="2"/>
<rect x="784.0" y="360.35" width="18.0" height="11.30" fill="#00ff80" stroke="#000" stroke-width="2"/>
<rect x="784.0" y="371.65" width="18.0" height="11.30" fill="#00ffcc" stroke="#000" stroke-width="2"/>
<rect x="784.0" y="382.96" width="18.0" height="11.30" fill="#00ffff" stroke="#000" stroke-width="2"/>
<rect x="784.0" y="394.26" width="18.0" height="11.30" fill="#00aaff" stroke="#000" stroke-width="2"/>
<rect x="784.0" y="405.57" width="18.0" height="11.30" fill="#0055ff" stroke="#000" stroke-width="2"/>
<rect x="784.0" y="416.88" width="18.0" height="11.30" fill="#002bff" stroke="#000" stroke-width="2"/>
<rect x="784.0" y="428.18" width="18.0" height="11.30" fill="#0000ff" stroke="#000" stroke-width="2"/>
<rect x="784.0" y="439.49" width="18.0" height="11.30" fill="#0000b3" stroke="#000" stroke-width="2"/>
<rect x="784.0" y="450.79" width="18.0" height="11.30" fill="#1a00b3" stroke="#000" stroke-width="2"/>
<rect x="784.0" y="462.09" width="18.0" height="11.30" fill="#4d00b3" stroke="#000" stroke-width="2"/>
<path d="M784.0 247.3 L793.0 205.5 L802.0 247.3Z" fill="#ffaaaa" stroke="#000" stroke-width="2.3" stroke-linejoin="miter"/>
<path d="M784.0 473.4 L793.0 515 L802.0 473.4Z" fill="#9900b3" stroke="#000" stroke-width="2.3" stroke-linejoin="miter"/>
<g font-family="Liberation Sans, sans-serif" fill="#000" style="opacity:0.999"><text x="340.3" y="112.5" font-size="29" text-anchor="start" letter-spacing="0.65" font-weight="normal" class="thin">vertical</text><text x="460.0" y="112.5" font-size="29" text-anchor="start" letter-spacing="0.9" font-weight="normal" class="thin">velocity</text><text x="452.2" y="546.5" font-size="22.5" text-anchor="middle" letter-spacing="1.74" font-weight="normal" word-spacing="4" class="thin2">X coordinate</text><text x="0" y="0" font-size="22.5" text-anchor="middle" letter-spacing="1.74" font-weight="normal" word-spacing="4" class="thin2" transform="translate(99.3 314.5) rotate(-90)">Z coordinate</text><path d="M194.60 485.84 L198.00 483.04 L198.00 494.30" fill="none" stroke="#000" stroke-width="2.1" stroke-linejoin="miter" shape-rendering="geometricPrecision"/><text transform="translate(261.70 494.30) scale(1.28 1)" font-size="16" text-anchor="middle" class="fat2">2</text><text transform="translate(325.30 494.30) scale(1.28 1)" font-size="16" text-anchor="middle" class="fat2">3</text><text transform="translate(388.90 494.30) scale(1.28 1)" font-size="16" text-anchor="middle" class="fat2">4</text><text transform="translate(452.50 494.30) scale(1.28 1)" font-size="16" text-anchor="middle" class="fat2">5</text><text transform="translate(516.10 494.30) scale(1.28 1)" font-size="16" text-anchor="middle" class="fat2">6</text><text transform="translate(579.70 494.30) scale(1.28 1)" font-size="16" text-anchor="middle" class="fat2">7</text><text transform="translate(643.30 494.30) scale(1.28 1)" font-size="16" text-anchor="middle" class="fat2">8</text><text transform="translate(706.90 494.30) scale(1.28 1)" font-size="16" text-anchor="middle" class="fat2">9</text><text transform="translate(121.60 399.34) scale(1.28 1)" font-size="16" text-anchor="middle" class="fat2">2</text><text transform="translate(121.60 319.92) scale(1.28 1)" font-size="16" text-anchor="middle" class="fat2">4</text><text transform="translate(121.60 240.50) scale(1.28 1)" font-size="16" text-anchor="middle" class="fat2">6</text><text transform="translate(49.20 134.40) scale(1.0 1)" font-size="15" text-anchor="middle" class="fat2">(</text><text transform="translate(58.20 134.40) scale(1.3 1)" font-size="15.2" text-anchor="middle" class="fat2">×</text><path d="M67.70 126.52 L71.10 123.72 L71.10 134.40" fill="none" stroke="#000" stroke-width="2.1" stroke-linejoin="miter" shape-rendering="geometricPrecision"/><text transform="translate(80.90 134.40) scale(1.3 1)" font-size="15.2" text-anchor="middle" class="fat2">E</text><text transform="translate(93.50 134.40) scale(1.3 1)" font-size="15.2" text-anchor="middle" class="fat2">4</text><text transform="translate(116.60 134.40) scale(1.3 1)" font-size="15.2" text-anchor="middle" class="fat2">m</text><text transform="translate(129.70 134.40) scale(1.0 1)" font-size="15" text-anchor="middle" class="fat2">)</text><text transform="translate(691.80 516.80) scale(1.0 1)" font-size="15" text-anchor="middle" class="fat2">(</text><text transform="translate(700.80 516.80) scale(1.3 1)" font-size="15.2" text-anchor="middle" class="fat2">×</text><path d="M710.30 508.92 L713.70 506.12 L713.70 516.80" fill="none" stroke="#000" stroke-width="2.1" stroke-linejoin="miter" shape-rendering="geometricPrecision"/><text transform="translate(723.50 516.80) scale(1.3 1)" font-size="15.2" text-anchor="middle" class="fat2">E</text><text transform="translate(736.10 516.80) scale(1.3 1)" font-size="15.2" text-anchor="middle" class="fat2">4</text><text transform="translate(759.20 516.80) scale(1.3 1)" font-size="15.2" text-anchor="middle" class="fat2">m</text><text transform="translate(772.30 516.80) scale(1.0 1)" font-size="15" text-anchor="middle" class="fat2">)</text><text x="780.6" y="168.9" font-size="17.3" text-anchor="middle" letter-spacing="0" font-weight="normal" class="thin3">t</text><text x="791.0" y="168.9" font-size="17.3" text-anchor="middle" letter-spacing="0" font-weight="normal" class="thin3">=</text><text x="802.9" y="168.9" font-size="17.3" text-anchor="middle" letter-spacing="0" font-weight="normal" class="thin3">3</text><text x="810.5" y="168.9" font-size="17.3" text-anchor="middle" letter-spacing="0" font-weight="normal" class="thin3">.</text><text x="818.2" y="168.9" font-size="17.3" text-anchor="middle" letter-spacing="0" font-weight="normal" class="thin3">8</text><text x="829.8" y="168.9" font-size="17.3" text-anchor="middle" letter-spacing="0" font-weight="normal" class="thin3">5</text><text x="841.4" y="168.9" font-size="17.3" text-anchor="middle" letter-spacing="0" font-weight="normal" class="thin3">9</text><text x="853.5" y="168.9" font-size="17.3" text-anchor="middle" letter-spacing="0" font-weight="normal" class="thin3">2</text><text x="864.4" y="168.9" font-size="17.3" text-anchor="middle" letter-spacing="0" font-weight="normal" class="thin3">e</text><text x="874.9" y="168.9" font-size="17.3" text-anchor="middle" letter-spacing="0" font-weight="normal" class="thin3">+</text><text x="885.7" y="168.9" font-size="17.3" text-anchor="middle" letter-spacing="0" font-weight="normal" class="thin3">0</text><text x="896.2" y="168.9" font-size="17.3" text-anchor="middle" letter-spacing="0" font-weight="normal" class="thin3">6</text><path d="M814.30 255.55 L817.70 252.75 L817.70 264.00" fill="none" stroke="#000" stroke-width="2.1" stroke-linejoin="miter" shape-rendering="geometricPrecision"/><text transform="translate(825.60 264.00) scale(1.28 1)" font-size="16" text-anchor="middle" class="fat2">8</text><path d="M814.30 289.46 L817.70 286.66 L817.70 297.92" fill="none" stroke="#000" stroke-width="2.1" stroke-linejoin="miter" shape-rendering="geometricPrecision"/><text transform="translate(825.60 297.92) scale(1.28 1)" font-size="16" text-anchor="middle" class="fat2">2</text><text transform="translate(815.90 331.83) scale(1.28 1)" font-size="16" text-anchor="middle" class="fat2">6</text><text transform="translate(815.90 365.75) scale(1.28 1)" font-size="16" text-anchor="middle" class="fat2">0</text><path d="M810.7 394.3 H822.2" stroke="#000" stroke-width="1.8" transform="translate(0 -0.3)" fill="none"/><text transform="translate(828.60 399.66) scale(1.28 1)" font-size="16" text-anchor="middle" class="fat2">6</text><path d="M810.7 428.2 H822.2" stroke="#000" stroke-width="1.8" transform="translate(0 -0.3)" fill="none"/><path d="M827.00 425.12 L830.40 422.32 L830.40 433.58" fill="none" stroke="#000" stroke-width="2.1" stroke-linejoin="miter" shape-rendering="geometricPrecision"/><text transform="translate(838.40 433.58) scale(1.28 1)" font-size="16" text-anchor="middle" class="fat2">2</text><path d="M810.7 462.1 H822.2" stroke="#000" stroke-width="1.8" transform="translate(0 -0.3)" fill="none"/><path d="M827.00 459.04 L830.40 456.24 L830.40 467.49" fill="none" stroke="#000" stroke-width="2.1" stroke-linejoin="miter" shape-rendering="geometricPrecision"/><text transform="translate(838.40 467.49) scale(1.28 1)" font-size="16" text-anchor="middle" class="fat2">8</text></g>
</svg>
</body></html>
